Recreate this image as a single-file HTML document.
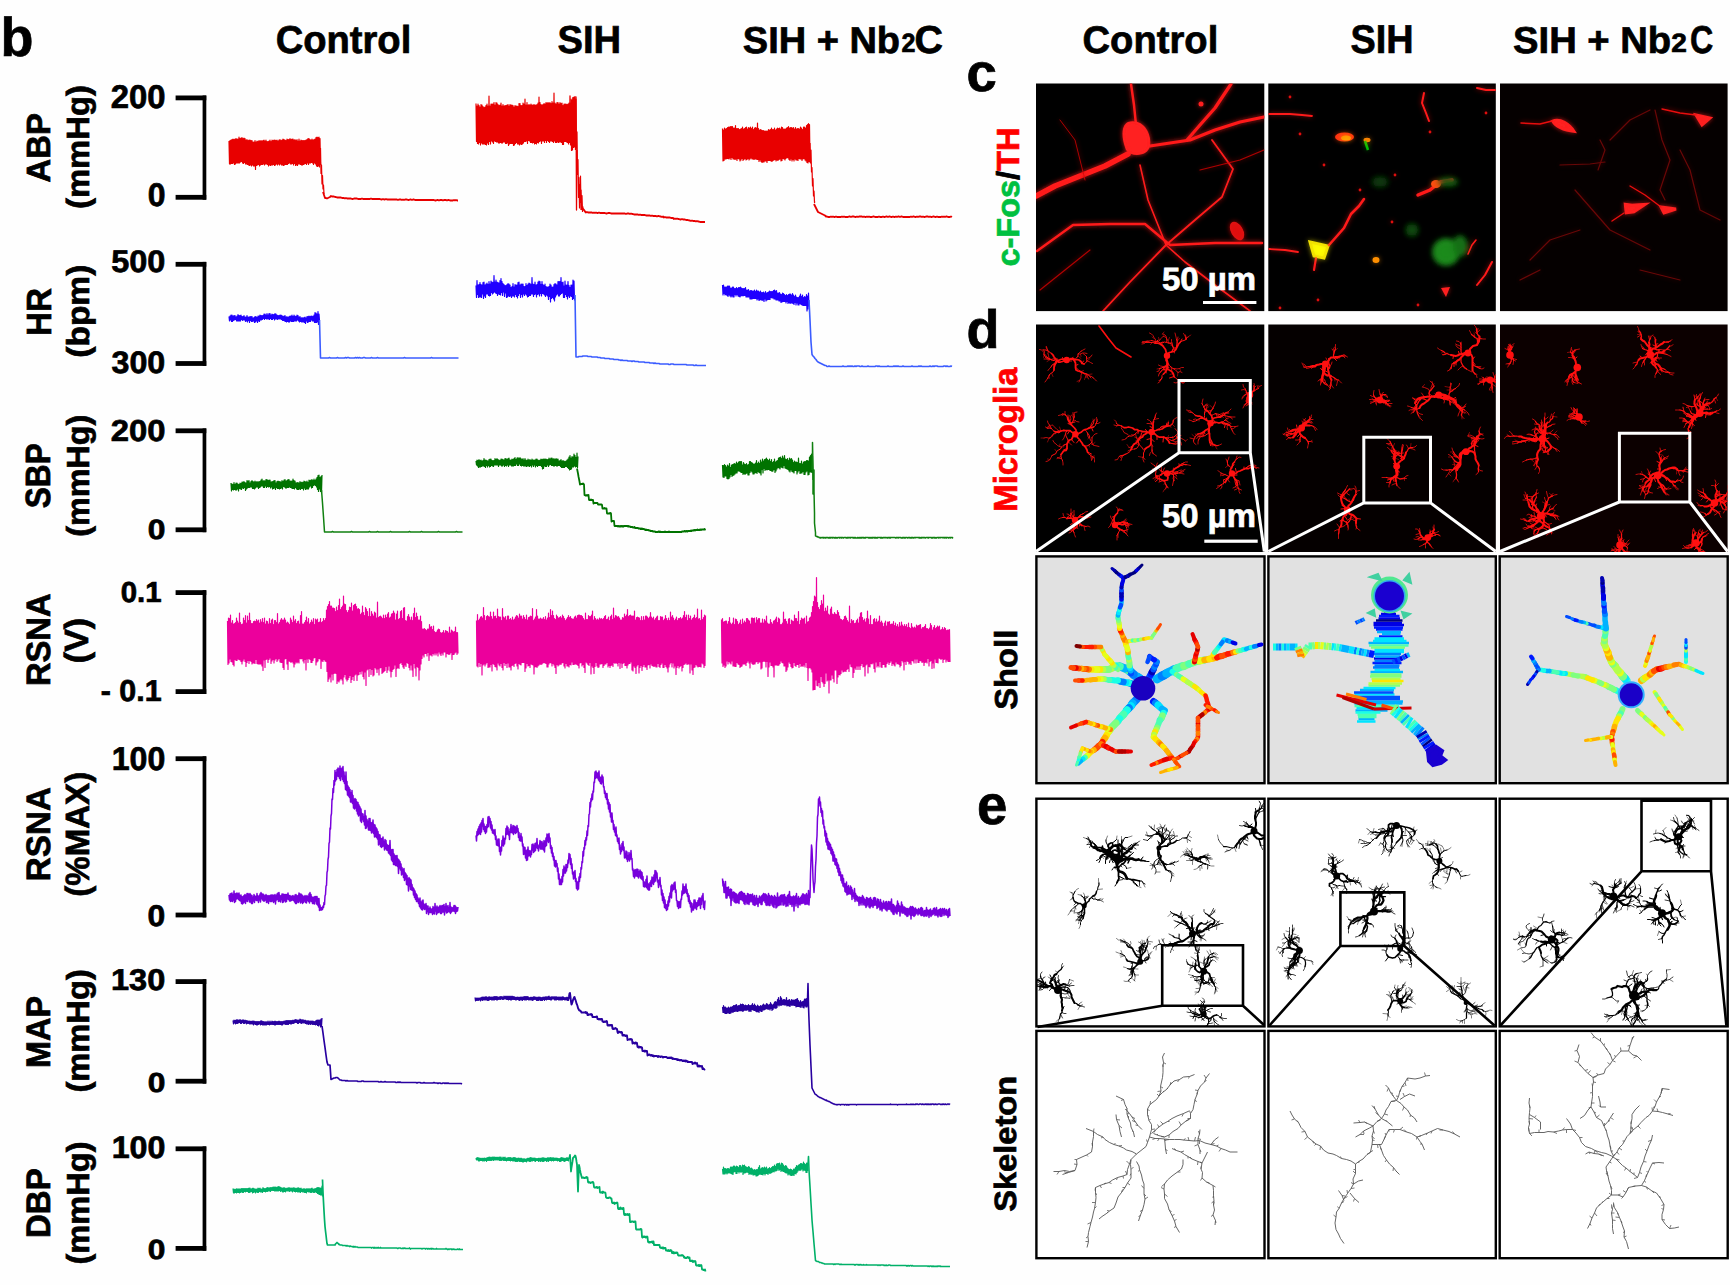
<!DOCTYPE html>
<html><head><meta charset="utf-8"><style>
html,body{margin:0;padding:0;background:#fff;width:1730px;height:1285px;overflow:hidden}
svg{display:block;font-family:"Liberation Sans",sans-serif;font-weight:bold;text-rendering:geometricPrecision}
</style></head><body>
<svg width="1730" height="1285" viewBox="0 0 1730 1285">
<rect width="1730" height="1285" fill="#fefefe"/>
<text transform="translate(0.45,56.19) scale(0.9923,1)" font-size="54.36" fill="#000" stroke="#000" stroke-width="0.7">b</text>
<text transform="translate(275.63,52.90) scale(0.9826,1)" font-size="38.85" fill="#000" stroke="#000" stroke-width="0.7">Control</text>
<text transform="translate(557.52,52.90) scale(0.9788,1)" font-size="38.99" fill="#000" stroke="#000" stroke-width="0.7">SIH</text>
<text transform="translate(742.82,52.87) scale(1.0153,1)" font-size="37.42" fill="#000" stroke="#000" stroke-width="0.7">SIH + Nb</text>
<text transform="translate(901.46,52.33) scale(0.9478,1)" font-size="26.45" fill="#000" stroke="#000" stroke-width="0.7">2</text>
<text transform="translate(914.40,52.82) scale(1.0128,1)" font-size="38.97" fill="#000" stroke="#000" stroke-width="0.7">C</text>
<rect x="175.6" y="95.5" width="30.7" height="4.8" fill="#000"/>
<rect x="175.6" y="194.9" width="30.7" height="4.8" fill="#000"/>
<rect x="202.6" y="95.5" width="3.7" height="104.2" fill="#000"/>
<rect x="175.6" y="261.9" width="30.7" height="4.8" fill="#000"/>
<rect x="175.6" y="361.1" width="30.7" height="4.8" fill="#000"/>
<rect x="202.6" y="261.9" width="3.7" height="104.0" fill="#000"/>
<rect x="175.6" y="428.4" width="30.7" height="4.8" fill="#000"/>
<rect x="175.6" y="527.4" width="30.7" height="4.8" fill="#000"/>
<rect x="202.6" y="428.4" width="3.7" height="103.8" fill="#000"/>
<rect x="175.6" y="590.2" width="30.7" height="4.8" fill="#000"/>
<rect x="175.6" y="689.2" width="30.7" height="4.8" fill="#000"/>
<rect x="202.6" y="590.2" width="3.7" height="103.8" fill="#000"/>
<rect x="175.6" y="756.3" width="30.7" height="4.8" fill="#000"/>
<rect x="175.6" y="912.6" width="30.7" height="4.8" fill="#000"/>
<rect x="202.6" y="756.3" width="3.7" height="161.1" fill="#000"/>
<rect x="175.6" y="979.2" width="30.7" height="4.8" fill="#000"/>
<rect x="175.6" y="1078.8" width="30.7" height="4.8" fill="#000"/>
<rect x="202.6" y="979.2" width="3.7" height="104.4" fill="#000"/>
<rect x="175.6" y="1146.4" width="30.7" height="4.8" fill="#000"/>
<rect x="175.6" y="1246.0" width="30.7" height="4.8" fill="#000"/>
<rect x="202.6" y="1146.4" width="3.7" height="104.4" fill="#000"/>
<text transform="translate(110.63,108.06) scale(0.9984,1)" font-size="32.91" fill="#000" stroke="#000" stroke-width="0.7">200</text>
<text transform="translate(147.64,206.12) scale(0.9799,1)" font-size="32.64" fill="#000" stroke="#000" stroke-width="0.7">0</text>
<text transform="translate(111.18,272.07) scale(1.0402,1)" font-size="31.18" fill="#000" stroke="#000" stroke-width="0.7">500</text>
<text transform="translate(111.54,372.99) scale(1.0351,1)" font-size="31.12" fill="#000" stroke="#000" stroke-width="0.7">300</text>
<text transform="translate(110.64,441.19) scale(1.0863,1)" font-size="30.22" fill="#000" stroke="#000" stroke-width="0.7">200</text>
<text transform="translate(147.67,539.24) scale(1.1377,1)" font-size="27.90" fill="#000" stroke="#000" stroke-width="0.7">0</text>
<text transform="translate(120.66,602.16) scale(1.0166,1)" font-size="28.91" fill="#000" stroke="#000" stroke-width="0.7">0.1</text>
<text transform="translate(100.71,701.18) scale(1.0095,1)" font-size="30.12" fill="#000" stroke="#000" stroke-width="0.7">- 0.1</text>
<text transform="translate(111.72,770.05) scale(0.9751,1)" font-size="32.92" fill="#000" stroke="#000" stroke-width="0.7">100</text>
<text transform="translate(147.44,926.07) scale(1.0618,1)" font-size="30.00" fill="#000" stroke="#000" stroke-width="0.7">0</text>
<text transform="translate(111.03,990.09) scale(1.0815,1)" font-size="30.09" fill="#000" stroke="#000" stroke-width="0.7">130</text>
<text transform="translate(147.71,1091.54) scale(1.1535,1)" font-size="27.53" fill="#000" stroke="#000" stroke-width="0.7">0</text>
<text transform="translate(111.67,1158.01) scale(1.0334,1)" font-size="31.17" fill="#000" stroke="#000" stroke-width="0.7">100</text>
<text transform="translate(147.70,1258.51) scale(1.1476,1)" font-size="27.63" fill="#000" stroke="#000" stroke-width="0.7">0</text>
<text transform="translate(49.92,182.45) rotate(-90) scale(0.9796,1)" font-size="33.56" fill="#000" stroke="#000" stroke-width="0.7">ABP</text>
<text transform="translate(89.17,208.95) rotate(-90) scale(1.0221,1)" font-size="32.07" fill="#000" stroke="#000" stroke-width="0.7">(mmHg)</text>
<text transform="translate(50.98,335.95) rotate(-90) scale(0.9519,1)" font-size="34.89" fill="#000" stroke="#000" stroke-width="0.7">HR</text>
<text transform="translate(88.85,357.76) rotate(-90) scale(1.0568,1)" font-size="31.72" fill="#000" stroke="#000" stroke-width="0.7">(bpm)</text>
<text transform="translate(50.16,508.23) rotate(-90) scale(0.9006,1)" font-size="35.09" fill="#000" stroke="#000" stroke-width="0.7">SBP</text>
<text transform="translate(88.60,536.84) rotate(-90) scale(1.0151,1)" font-size="31.83" fill="#000" stroke="#000" stroke-width="0.7">(mmHg)</text>
<text transform="translate(50.10,686.06) rotate(-90) scale(0.9654,1)" font-size="33.88" fill="#000" stroke="#000" stroke-width="0.7">RSNA</text>
<text transform="translate(88.11,663.17) rotate(-90) scale(1.0120,1)" font-size="33.65" fill="#000" stroke="#000" stroke-width="0.7">(V)</text>
<text transform="translate(50.09,881.13) rotate(-90) scale(0.9781,1)" font-size="33.91" fill="#000" stroke="#000" stroke-width="0.7">RSNA</text>
<text transform="translate(88.90,896.74) rotate(-90) scale(0.9827,1)" font-size="33.67" fill="#000" stroke="#000" stroke-width="0.7">(%MAX)</text>
<text transform="translate(50.03,1067.97) rotate(-90) scale(0.9496,1)" font-size="34.12" fill="#000" stroke="#000" stroke-width="0.7">MAP</text>
<text transform="translate(88.62,1092.62) rotate(-90) scale(1.0277,1)" font-size="31.79" fill="#000" stroke="#000" stroke-width="0.7">(mmHg)</text>
<text transform="translate(50.15,1238.03) rotate(-90) scale(0.9699,1)" font-size="34.07" fill="#000" stroke="#000" stroke-width="0.7">DBP</text>
<text transform="translate(88.60,1264.53) rotate(-90) scale(1.0231,1)" font-size="31.83" fill="#000" stroke="#000" stroke-width="0.7">(mmHg)</text>
<path transform="scale(.5)" fill="none" stroke="#e80000" stroke-width="2.4" stroke-linejoin="round" d="M458 282l1 46 1 -47 1 47 1 -48 1 47 1 -48 1 48 1 -49 1 48 1 -47 1 50 1 -51 1 50 1 -51 1 49 1 -48 1 48 1 -48 1 48 1 -52 1 52 1 -49 1 47 1 -48 1 47 1 -48 1 51 1 -49 1 50 1 -51 1 49 1 -48 1 51 1 -48 1 48 1 -49 1 50 1 -48 1 49 1 -50 1 51 1 -51 1 50 1 -49 1 51 1 -51 1 49 1 -46 1 48 1 -48 1 48 1 -51 1 58 1 -55 1 47 1 -49 1 48 1 -47 1 46 1 -48 1 51 1 -50 1 48 1 -49 1 48 1 -47 1 47 1 -48 1 47 1 -48 1 50 1 -48 1 46 1 -48 1 48 1 -45 1 46 1 -46 1 49 1 -50 1 48 1 -50 1 51 1 -48 1 47 1 -50 1 50 1 -49 1 48 1 -49 1 51 1 -51 1 50 1 -49 1 47 1 -48 1 50 1 -48 1 46 1 -48 1 50 1 -51 1 49 1 -47 1 49 1 -50 1 50 1 -52 1 53 1 -52 1 51 1 -50 1 49 1 -48 1 48 1 -51 1 51 1 -50 1 48 1 -48 1 47 1 -49 1 51 1 -49 1 49 1 -50 1 49 1 -49 1 52 1 -50 1 47 1 -48 1 52 1 -50 1 49 1 -51 1 52 1 -49 1 46 1 -50 1 50 1 -46 1 47 1 -49 1 50 1 -49 1 49 1 -49 1 48 1 -48 1 47 1 -47 1 46 1 -47 1 49 1 -50 1 47 1 -49 1 52 1 -52 1 49 1 -47 1 47 1 -46 1 45 1 -47 1 48 1 -46 1 49 1 -50 1 47 1 -48 1 50 1 -53 1 57 1 -58 1 59 1 -58 1 57 1 -58 1 60 1 -57 1 53"/>
<path transform="scale(.5)" fill="none" stroke="#e80000" stroke-width="2.4" stroke-linejoin="round" d="M641 296l1 51 1 -17 1 38 1 -17 1 27 1 -8 1 18"/>
<path transform="scale(.5)" fill="none" stroke="#e80000" stroke-width="3.6" stroke-linejoin="round" d="M646 384l2 6 2 6 2 0 2 1 2 -1 2 -1 2 -1 2 -2 2 1 2 0 2 0 2 1 2 0 2 1 2 0 2 0 2 0 2 0 2 1 2 0 2 0 2 1 2 -1 2 1 2 0 2 0 2 0 2 0 2 1 2 0 2 -1 2 0 2 0 2 0 2 1 2 0 2 0 2 0 2 -1 2 1 2 0 2 0 2 0 2 0 2 0 2 0 2 0 2 -1 2 1 2 0 2 0 2 0 2 0 2 0 2 0 2 0 2 0 2 1 2 0 2 -1 2 1 2 0 2 -1 2 1 2 0 2 0 2 0 2 0 2 0 2 0 2 0 2 0 2 0 2 0 2 1 2 -1 2 0 2 0 2 1 2 -1 2 1 2 -1 2 0 2 0 2 1 2 0 2 -1 2 0 2 1 2 -1 2 0 2 1 2 0 2 0 2 0 2 0 2 0 2 0 2 0 2 0 2 0 2 0 2 0 2 0 2 0 2 0 2 0 2 0 2 0 2 0 2 0 2 1 2 0 2 -1 2 0 2 1 2 -1 2 0 2 0 2 1 2 -1 2 0 2 0 2 1 2 -1 2 0 2 1 2 0 2 0 2 0 2 -1 2 1 2 -1 2 1 2 0"/>
<path transform="scale(.5)" fill="none" stroke="#e80000" stroke-width="2.4" stroke-linejoin="round" d="M952 207l1 76 1 -71 1 75 1 -79 1 80 1 -77 1 74 1 -71 1 76 1 -81 1 77 1 -76 1 78 1 -75 1 75 1 -73 1 73 1 -74 1 75 1 -78 1 79 1 -82 1 78 1 -74 1 77 1 -97 1 91 1 -71 1 76 1 -80 1 74 1 -74 1 76 1 -76 1 79 1 -82 1 77 1 -72 1 73 1 -78 1 79 1 -78 1 78 1 -75 1 77 1 -75 1 75 1 -76 1 75 1 -79 1 80 1 -74 1 74 1 -77 1 75 1 -72 1 72 1 -73 1 76 1 -76 1 76 1 -77 1 76 1 -77 1 82 1 -79 1 76 1 -79 1 78 1 -77 1 77 1 -77 1 77 1 -76 1 80 1 -77 1 76 1 -79 1 76 1 -75 1 73 1 -73 1 76 1 -75 1 75 1 -81 1 83 1 -83 1 81 1 -77 1 78 1 -78 1 77 1 -82 1 80 1 -78 1 75 1 -85 1 85 1 -73 1 72 1 -77 1 82 1 -77 1 71 1 -72 1 73 1 -72 1 75 1 -77 1 77 1 -75 1 76 1 -76 1 75 1 -76 1 79 1 -78 1 77 1 -77 1 78 1 -79 1 76 1 -79 1 80 1 -92 1 89 1 -78 1 77 1 -73 1 78 1 -77 1 72 1 -73 1 73 1 -75 1 78 1 -77 1 73 1 -76 1 80 1 -79 1 75 1 -76 1 78 1 -77 1 79 1 -80 1 77 1 -75 1 75 1 -79 1 80 1 -77 1 79 1 -99 1 96 1 -76 1 79 1 -77 1 77 1 -80 1 79 1 -79 1 80 1 -77 1 76 1 -79 1 79 1 -77 1 78 1 -79 1 83 1 -78 1 78 1 -81 1 75 1 -75 1 75 1 -75 1 76 1 -75 1 76 1 -77 1 80 1 -82 1 79 1 -79 1 84 1 -92 1 103 1 -101 1 100 1 -105 1 100 1 -101 1 100 1 -101 1 99 1 -94 1 99"/>
<path transform="scale(.5)" fill="none" stroke="#e80000" stroke-width="2.4" stroke-linejoin="round" d="M1154 263l1 86 1 -30 1 76 1 -40 1 61 1 -47 1 36 1 -25 1 39 1 -28 1 32 1 -10"/>
<polyline fill="none" stroke="#e80000" stroke-width="1.3" stroke-linejoin="round" points="569.5,140.0 570.0,96.0 570.5,140.0"/>
<polyline fill="none" stroke="#e80000" stroke-width="1.3" stroke-linejoin="round" points="572.5,140.0 573.0,98.0 573.5,140.0"/>
<polyline fill="none" stroke="#e80000" stroke-width="1.3" stroke-linejoin="round" points="575.5,150.0 576.0,97.0 576.5,210.0 577.0,150.0"/>
<polyline fill="none" stroke="#e80000" stroke-width="1.2" stroke-linejoin="round" points="580.0,200.0 580.5,176.0 581.0,210.0"/>
<path transform="scale(.5)" fill="none" stroke="#e80000" stroke-width="3.6" stroke-linejoin="round" d="M1164 416l2 2 2 2 2 3 2 2 2 -1 2 1 2 0 2 0 2 0 2 0 2 1 2 -1 2 1 2 -1 2 1 2 0 2 -1 2 1 2 0 2 0 2 0 2 0 2 0 2 1 2 0 2 -1 2 0 2 0 2 1 2 0 2 0 2 0 2 0 2 0 2 0 2 0 2 0 2 0 2 0 2 0 2 0 2 0 2 0 2 1 2 -1 2 0 2 0 2 1 2 -1 2 1 2 0 2 1 2 0 2 0 2 0 2 0 2 1 2 -1 2 1 2 0 2 0 2 0 2 0 2 1 2 0 2 0 2 0 2 0 2 1 2 -1 2 1 2 0 2 0 2 0 2 1 2 -1 2 0 2 1 2 0 2 1 2 -1 2 2 2 -1 2 1 2 0 2 0 2 0 2 0 2 1 2 0 2 0 2 2 2 -1 2 1 2 -1 2 1 2 0 2 1 2 0 2 -1 2 1 2 0 2 0 2 1 2 0 2 0 2 1 2 0 2 1 2 -1 2 1 2 0 2 0 2 1 2 -1 2 1 2 0 2 1 2 0 2 0 2 0 2 0 2 0"/>
<path transform="scale(.5)" fill="none" stroke="#e80000" stroke-width="2.4" stroke-linejoin="round" d="M1445 257l1 65 1 -62 1 61 1 -65 1 62 1 -60 1 60 1 -61 1 60 1 -62 1 62 1 -63 1 64 1 -64 1 62 1 -63 1 66 1 -66 1 62 1 -62 1 65 1 -62 1 62 1 -62 1 63 1 -68 1 67 1 -61 1 64 1 -64 1 60 1 -60 1 61 1 -59 1 63 1 -64 1 62 1 -63 1 60 1 -63 1 67 1 -63 1 61 1 -62 1 60 1 -62 1 65 1 -66 1 65 1 -61 1 59 1 -62 1 65 1 -64 1 62 1 -64 1 62 1 -59 1 61 1 -64 1 64 1 -59 1 60 1 -63 1 62 1 -63 1 63 1 -62 1 63 1 -73 1 73 1 -62 1 66 1 -63 1 60 1 -61 1 64 1 -63 1 65 1 -64 1 63 1 -63 1 63 1 -62 1 60 1 -60 1 60 1 -60 1 63 1 -63 1 59 1 -62 1 62 1 -61 1 61 1 -62 1 63 1 -66 1 67 1 -64 1 62 1 -62 1 61 1 -64 1 63 1 -59 1 62 1 -64 1 62 1 -64 1 65 1 -64 1 62 1 -63 1 62 1 -60 1 64 1 -68 1 67 1 -66 1 62 1 -59 1 60 1 -60 1 62 1 -62 1 59 1 -61 1 59 1 -60 1 61 1 -63 1 66 1 -63 1 65 1 -66 1 63 1 -63 1 67 1 -66 1 63 1 -64 1 67 1 -64 1 60 1 -63 1 65 1 -62 1 62 1 -63 1 64 1 -64 1 60 1 -59 1 60 1 -64 1 64 1 -62 1 65 1 -62 1 59 1 -64 1 63 1 -63 1 66 1 -64 1 66 1 -71 1 74 1 -76 1 77 1 -79 1 76 1 -74 1 76"/>
<path transform="scale(.5)" fill="none" stroke="#e80000" stroke-width="2.4" stroke-linejoin="round" d="M1620 286l1 40 1 -26 1 44 1 -9 1 37 1 -15 1 35 1 -10 1 23 1 -2"/>
<path transform="scale(.5)" fill="none" stroke="#e80000" stroke-width="3.6" stroke-linejoin="round" d="M1628 408l2 4 2 4 2 4 2 4 2 1 2 1 2 1 2 1 2 1 2 1 2 1 2 2 2 0 2 1 2 0 2 0 2 -1 2 1 2 -1 2 1 2 0 2 -1 2 1 2 0 2 0 2 0 2 0 2 -1 2 1 2 -1 2 1 2 0 2 0 2 0 2 -1 2 0 2 1 2 -1 2 0 2 0 2 1 2 0 2 -1 2 1 2 -1 2 0 2 0 2 0 2 1 2 -1 2 1 2 0 2 -1 2 1 2 -1 2 1 2 0 2 0 2 -1 2 0 2 1 2 0 2 0 2 0 2 -1 2 1 2 0 2 0 2 -1 2 1 2 0 2 -1 2 0 2 1 2 -1 2 0 2 1 2 0 2 -1 2 1 2 0 2 -1 2 1 2 -1 2 0 2 1 2 -1 2 0 2 1 2 0 2 0 2 0 2 0 2 0 2 0 2 0 2 -1 2 1 2 -1 2 0 2 1 2 0 2 -1 2 1 2 -1 2 0 2 0 2 1 2 -1 2 1 2 0 2 -1 2 0 2 0 2 1 2 -1 2 1 2 0 2 -1 2 0 2 1 2 0 2 -1 2 1 2 0 2 0 2 0 2 -1 2 1 2 -1 2 1 2 -1 2 0 2 1 2 0 2 0 2 -1 2 1"/>
<path transform="scale(.5)" fill="none" stroke="#2000ff" stroke-width="2.4" stroke-linejoin="round" d="M458 633l1 9 1 -10 1 8 1 -10 1 13 1 -13 1 13 1 -11 1 9 1 -10 1 9 1 -9 1 8 1 -5 1 8 1 -10 1 10 1 -13 1 13 1 -11 1 11 1 -11 1 11 1 -12 1 9 1 -6 1 8 1 -8 1 7 1 -9 1 9 1 -6 1 9 1 -9 1 8 1 -11 1 13 1 -10 1 7 1 -7 1 11 1 -12 1 8 1 -8 1 10 1 -10 1 10 1 -7 1 6 1 -7 1 10 1 -12 1 11 1 -11 1 9 1 -7 1 10 1 -13 1 10 1 -10 1 11 1 -13 1 10 1 -9 1 9 1 -9 1 8 1 -8 1 6 1 -9 1 11 1 -11 1 9 1 -7 1 8 1 -11 1 11 1 -8 1 8 1 -11 1 12 1 -12 1 10 1 -7 1 9 1 -11 1 11 1 -10 1 8 1 -8 1 11 1 -13 1 11 1 -10 1 10 1 -8 1 9 1 -8 1 7 1 -7 1 7 1 -8 1 8 1 -8 1 9 1 -8 1 10 1 -8 1 8 1 -9 1 10 1 -11 1 12 1 -9 1 10 1 -11 1 10 1 -8 1 9 1 -11 1 11 1 -12 1 10 1 -10 1 11 1 -13 1 13 1 -10 1 10 1 -13 1 12 1 -10 1 10 1 -9 1 9 1 -12 1 10 1 -9 1 11 1 -8 1 10 1 -11 1 10 1 -7 1 8 1 -9 1 9 1 -8 1 8 1 -9 1 10 1 -11 1 13 1 -11 1 6 1 -9 1 12 1 -12 1 11 1 -12 1 11 1 -10 1 10 1 -11 1 8 1 -8 1 10 1 -9 1 9 1 -12 1 15 1 -20 1 20 1 -19 1 19 1 -17 1 16 1 -21 1 26 1 -21 1 13"/>
<path transform="scale(.5)" fill="none" stroke="#3b5cff" stroke-width="3.2" stroke-linejoin="round" d="M639 640l2 76 2 0 2 0 2 0 2 0 2 0 2 0 2 0 2 0 2 -1 2 1 2 0 2 0 2 0 2 0 2 0 2 0 2 -1 2 1 2 0 2 0 2 0 2 0 2 0 2 0 2 -1 2 1 2 -1 2 0 2 1 2 0 2 0 2 0 2 0 2 0 2 -1 2 1 2 -1 2 1 2 -1 2 1 2 0 2 0 2 -1 2 0 2 1 2 0 2 0 2 0 2 0 2 0 2 -1 2 1 2 0 2 0 2 0 2 0 2 -1 2 1 2 0 2 0 2 0 2 0 2 0 2 0 2 0 2 0 2 0 2 0 2 0 2 0 2 0 2 0 2 0 2 0 2 0 2 0 2 0 2 0 2 0 2 0 2 0 2 0 2 0 2 -1 2 1 2 0 2 0 2 0 2 0 2 0 2 0 2 0 2 0 2 0 2 0 2 0 2 0 2 0 2 0 2 0 2 0 2 0 2 0 2 0 2 0 2 0 2 0 2 0 2 0 2 0 2 -1 2 1 2 0 2 0 2 0 2 0 2 0 2 0 2 0 2 0 2 0 2 0 2 0 2 0 2 0 2 0 2 0 2 0 2 0 2 0 2 0 2 0 2 0 2 0 2 0 2 0 2 0 2 0"/>
<path transform="scale(.5)" fill="none" stroke="#2000ff" stroke-width="2.4" stroke-linejoin="round" d="M952 571l1 24 1 -34 1 28 1 -19 1 25 1 -26 1 25 1 -29 1 29 1 -25 1 26 1 -25 1 18 1 -23 1 32 1 -33 1 28 1 -22 1 25 1 -27 1 20 1 -22 1 22 1 -19 1 22 1 -28 1 29 1 -24 1 23 1 -29 1 23 1 -21 1 24 1 -23 1 21 1 -35 1 33 1 -20 1 22 1 -26 1 27 1 -23 1 27 1 -26 1 23 1 -22 1 23 1 -28 1 29 1 -33 1 28 1 -22 1 28 1 -24 1 17 1 -15 1 24 1 -22 1 15 1 -15 1 24 1 -26 1 25 1 -27 1 25 1 -24 1 25 1 -23 1 22 1 -17 1 20 1 -22 1 19 1 -25 1 25 1 -18 1 20 1 -25 1 20 1 -19 1 23 1 -23 1 26 1 -31 1 26 1 -27 1 23 1 -17 1 25 1 -27 1 21 1 -21 1 26 1 -26 1 20 1 -15 1 18 1 -18 1 15 1 -21 1 23 1 -19 1 23 1 -26 1 25 1 -27 1 25 1 -24 1 24 1 -22 1 19 1 -33 1 33 1 -20 1 25 1 -24 1 20 1 -25 1 24 1 -18 1 24 1 -25 1 20 1 -25 1 24 1 -26 1 30 1 -29 1 24 1 -18 1 23 1 -29 1 24 1 -18 1 19 1 -17 1 19 1 -22 1 25 1 -20 1 17 1 -16 1 18 1 -18 1 25 1 -26 1 20 1 -25 1 36 1 -34 1 27 1 -23 1 21 1 -21 1 24 1 -29 1 33 1 -35 1 27 1 -26 1 22 1 -20 1 18 1 -25 1 29 1 -29 1 29 1 -29 1 26 1 -34 1 32 1 -22 1 21 1 -22 1 31 1 -23 1 23 1 -33 1 27 1 -19 1 23 1 -23 1 28 1 -35 1 29 1 -21 1 24 1 -20 1 17 1 -22 1 23 1 -23 1 29 1 -39 1 37 1 -35 1 39"/>
<path transform="scale(.5)" fill="none" stroke="#3b5cff" stroke-width="3.2" stroke-linejoin="round" d="M1150 590l2 124 2 0 2 0 2 -1 2 0 2 0 2 0 2 -1 2 0 2 0 2 0 2 0 2 1 2 0 2 0 2 0 2 1 2 0 2 0 2 0 2 0 2 0 2 1 2 0 2 0 2 1 2 0 2 0 2 0 2 1 2 0 2 0 2 0 2 0 2 1 2 0 2 0 2 0 2 1 2 0 2 0 2 0 2 0 2 1 2 0 2 1 2 -1 2 1 2 0 2 0 2 0 2 0 2 1 2 0 2 0 2 0 2 1 2 -1 2 0 2 1 2 0 2 0 2 0 2 1 2 0 2 0 2 0 2 0 2 0 2 1 2 0 2 0 2 0 2 0 2 1 2 0 2 0 2 0 2 1 2 -1 2 1 2 0 2 0 2 0 2 1 2 0 2 0 2 0 2 0 2 0 2 0 2 0 2 0 2 1 2 0 2 -1 2 0 2 0 2 1 2 0 2 0 2 0 2 0 2 0 2 0 2 0 2 0 2 0 2 0 2 0 2 0 2 1 2 0 2 0 2 0 2 0 2 0 2 0 2 1 2 0 2 -1 2 1 2 0 2 0 2 0 2 0 2 0 2 0 2 0 2 0 2 0"/>
<path transform="scale(.5)" fill="none" stroke="#2000ff" stroke-width="2.4" stroke-linejoin="round" d="M1445 570l1 20 1 -20 1 17 1 -13 1 16 1 -16 1 15 1 -15 1 17 1 -19 1 21 1 -21 1 18 1 -18 1 20 1 -16 1 18 1 -18 1 16 1 -18 1 20 1 -20 1 20 1 -17 1 12 1 -12 1 15 1 -17 1 14 1 -12 1 15 1 -17 1 18 1 -18 1 19 1 -20 1 18 1 -16 1 15 1 -14 1 15 1 -15 1 14 1 -14 1 14 1 -16 1 19 1 -14 1 14 1 -14 1 14 1 -15 1 15 1 -12 1 16 1 -17 1 17 1 -17 1 17 1 -16 1 15 1 -15 1 15 1 -17 1 17 1 -14 1 14 1 -17 1 20 1 -18 1 16 1 -16 1 19 1 -17 1 16 1 -18 1 17 1 -14 1 16 1 -16 1 15 1 -16 1 19 1 -17 1 12 1 -15 1 19 1 -16 1 14 1 -15 1 14 1 -15 1 15 1 -17 1 17 1 -16 1 12 1 -12 1 13 1 -13 1 13 1 -15 1 17 1 -18 1 18 1 -16 1 18 1 -19 1 19 1 -14 1 14 1 -14 1 16 1 -17 1 17 1 -14 1 17 1 -16 1 15 1 -18 1 17 1 -16 1 16 1 -14 1 14 1 -12 1 15 1 -17 1 14 1 -12 1 16 1 -18 1 16 1 -17 1 19 1 -19 1 18 1 -16 1 16 1 -19 1 20 1 -17 1 19 1 -16 1 12 1 -15 1 20 1 -16 1 12 1 -11 1 15 1 -15 1 15 1 -18 1 15 1 -19 1 21 1 -16 1 17 1 -20 1 21 1 -16 1 16 1 -18 1 18 1 -17 1 17 1 -22 1 33 1 -30 1 26 1 -32 1 27"/>
<path transform="scale(.5)" fill="none" stroke="#3b5cff" stroke-width="3.2" stroke-linejoin="round" d="M1618 600l2 40 2 44 2 25 2 3 2 2 2 3 2 2 2 3 2 2 2 1 2 1 2 1 2 1 2 1 2 1 2 1 2 0 2 2 2 0 2 -1 2 1 2 0 2 0 2 0 2 0 2 0 2 0 2 0 2 0 2 0 2 0 2 0 2 0 2 -1 2 1 2 0 2 0 2 0 2 -1 2 1 2 -1 2 1 2 -1 2 1 2 0 2 -1 2 1 2 -1 2 0 2 0 2 1 2 0 2 -1 2 1 2 0 2 0 2 0 2 0 2 -1 2 1 2 0 2 0 2 0 2 0 2 0 2 0 2 -1 2 0 2 1 2 -1 2 1 2 0 2 0 2 0 2 0 2 0 2 0 2 0 2 -1 2 1 2 0 2 0 2 0 2 0 2 -1 2 1 2 -1 2 1 2 -1 2 1 2 0 2 0 2 0 2 -1 2 1 2 0 2 0 2 0 2 0 2 0 2 0 2 0 2 -1 2 1 2 0 2 0 2 0 2 0 2 0 2 -1 2 1 2 -1 2 1 2 0 2 0 2 0 2 0 2 0 2 0 2 0 2 -1 2 1 2 0 2 -1 2 1 2 -1 2 0 2 0 2 1 2 0 2 0 2 0 2 0 2 0 2 -1 2 0 2 1 2 -1 2 1 2 0 2 0 2 -1 2 1"/>
<path transform="scale(.5)" fill="none" stroke="#007300" stroke-width="2.4" stroke-linejoin="round" d="M462 966l1 16 1 -14 1 11 1 -10 1 11 1 -15 1 14 1 -10 1 11 1 -14 1 14 1 -14 1 12 1 -10 1 14 1 -13 1 8 1 -11 1 12 1 -11 1 12 1 -15 1 12 1 -12 1 13 1 -14 1 12 1 -10 1 16 1 -15 1 12 1 -17 1 15 1 -14 1 13 1 -14 1 14 1 -9 1 8 1 -11 1 11 1 -13 1 16 1 -14 1 14 1 -13 1 14 1 -16 1 14 1 -12 1 10 1 -11 1 11 1 -10 1 13 1 -14 1 12 1 -12 1 11 1 -14 1 12 1 -14 1 14 1 -10 1 13 1 -14 1 14 1 -13 1 10 1 -13 1 16 1 -16 1 14 1 -12 1 13 1 -14 1 13 1 -13 1 16 1 -12 1 10 1 -11 1 15 1 -15 1 14 1 -16 1 15 1 -15 1 18 1 -13 1 9 1 -12 1 14 1 -15 1 15 1 -14 1 15 1 -15 1 14 1 -13 1 12 1 -15 1 17 1 -15 1 10 1 -13 1 14 1 -15 1 17 1 -14 1 14 1 -15 1 14 1 -16 1 16 1 -16 1 15 1 -12 1 13 1 -13 1 14 1 -14 1 15 1 -19 1 19 1 -16 1 17 1 -16 1 13 1 -9 1 12 1 -13 1 14 1 -14 1 14 1 -13 1 12 1 -15 1 16 1 -14 1 12 1 -13 1 13 1 -12 1 15 1 -18 1 14 1 -13 1 16 1 -15 1 14 1 -16 1 16 1 -13 1 13 1 -18 1 14 1 -13 1 11 1 -12 1 16 1 -17 1 16 1 -14 1 10 1 -13 1 12 1 -9 1 10 1 -13 1 16 1 -19 1 24 1 -28 1 32 1 -33 1 28 1 -23 1 28 1 -30 1 32 1 -35"/>
<path transform="scale(.5)" fill="none" stroke="#108010" stroke-width="3.0" stroke-linejoin="round" d="M643 980l2 26 2 28 2 30 2 0 2 0 2 0 2 0 2 0 2 0 2 0 2 -1 2 1 2 0 2 0 2 0 2 0 2 0 2 0 2 0 2 0 2 0 2 0 2 0 2 0 2 0 2 0 2 0 2 0 2 0 2 -1 2 1 2 0 2 0 2 0 2 0 2 0 2 0 2 0 2 0 2 0 2 0 2 0 2 0 2 0 2 0 2 0 2 0 2 -1 2 1 2 0 2 0 2 0 2 0 2 0 2 0 2 -1 2 1 2 0 2 0 2 0 2 0 2 0 2 0 2 0 2 0 2 0 2 0 2 0 2 -1 2 1 2 0 2 0 2 0 2 0 2 0 2 0 2 0 2 0 2 0 2 0 2 0 2 0 2 0 2 0 2 0 2 0 2 0 2 -1 2 1 2 0 2 0 2 0 2 0 2 0 2 0 2 0 2 0 2 0 2 0 2 -1 2 1 2 0 2 0 2 0 2 0 2 0 2 0 2 0 2 0 2 0 2 0 2 0 2 0 2 0 2 0 2 0 2 -1 2 1 2 0 2 0 2 0 2 0 2 0 2 0 2 0 2 0 2 0 2 0 2 0 2 0 2 0 2 0 2 0 2 0 2 -1 2 1 2 0 2 0 2 0 2 0 2 0"/>
<path transform="scale(.5)" fill="none" stroke="#007300" stroke-width="2.4" stroke-linejoin="round" d="M952 922l1 8 1 -10 1 12 1 -11 1 14 1 -16 1 15 1 -13 1 13 1 -14 1 13 1 -11 1 10 1 -11 1 11 1 -15 1 16 1 -13 1 15 1 -15 1 11 1 -10 1 13 1 -12 1 9 1 -12 1 15 1 -16 1 15 1 -15 1 13 1 -10 1 11 1 -11 1 12 1 -12 1 9 1 -13 1 13 1 -11 1 11 1 -13 1 13 1 -11 1 14 1 -13 1 10 1 -9 1 9 1 -12 1 14 1 -14 1 14 1 -13 1 11 1 -10 1 13 1 -16 1 14 1 -14 1 15 1 -13 1 11 1 -13 1 16 1 -17 1 14 1 -10 1 10 1 -10 1 12 1 -14 1 14 1 -13 1 13 1 -15 1 14 1 -16 1 16 1 -12 1 9 1 -12 1 15 1 -16 1 16 1 -14 1 11 1 -13 1 16 1 -14 1 15 1 -13 1 12 1 -14 1 15 1 -12 1 12 1 -15 1 15 1 -12 1 13 1 -12 1 11 1 -14 1 14 1 -12 1 13 1 -14 1 12 1 -10 1 13 1 -16 1 12 1 -10 1 13 1 -13 1 10 1 -10 1 14 1 -16 1 13 1 -13 1 15 1 -13 1 11 1 -10 1 10 1 -11 1 11 1 -13 1 15 1 -14 1 19 1 -20 1 19 1 -19 1 14 1 -14 1 15 1 -15 1 15 1 -14 1 11 1 -11 1 14 1 -17 1 14 1 -12 1 11 1 -13 1 15 1 -15 1 15 1 -13 1 14 1 -15 1 15 1 -13 1 12 1 -14 1 15 1 -14 1 14 1 -14 1 13 1 -9 1 9 1 -10 1 12 1 -14 1 16 1 -13 1 13 1 -14 1 14 1 -13 1 13 1 -12 1 10 1 -11 1 11 1 -13 1 15 1 -17 1 19 1 -23 1 26 1 -29 1 28 1 -23 1 22 1 -25 1 21 1 -20 1 20 1 -26 1 24 1 -21 1 23 1 -19 1 18 1 -27 1 29 1 -22"/>
<path transform="scale(.5)" fill="none" stroke="#007300" stroke-width="3.6" stroke-linejoin="round" d="M1154 937l1 5 1 5 1 6 1 5 1 5 1 6 1 -1 1 0 1 0 1 0 1 0 1 -1 1 1 1 1 1 21 1 0 1 1 1 0 1 0 1 -1 1 1 1 0 1 -1 1 10 1 0 1 0 1 0 1 -1 1 1 1 0 1 0 1 0 1 7 1 -1 1 0 1 0 1 0 1 0 1 0 1 0 1 0 1 3 1 0 1 0 1 0 1 0 1 0 1 0 1 0 1 1 1 7 1 0 1 0 1 0 1 -1 1 1 1 0 1 0 1 0 1 10 1 0 1 0 1 0 1 0 1 0 1 -1 1 0 1 1 1 16 1 -1 1 0 1 0 1 0 1 0 1 10 1 0 1 0 1 0 1 0 1 0 1 0 1 1 1 -1 1 0 1 1 1 0 1 -1 1 1 1 -1 1 0 1 1 1 -1 1 1 1 -1 1 0 1 0 1 0 1 0 1 0 1 0 1 0 1 1 1 -1 1 1 1 0 1 0 1 1 1 0 1 0 1 0 1 0 1 1 1 0 1 0 1 -1 1 2 1 0 1 0 1 0 1 0 1 0 1 0 1 1 1 0 1 0 1 0 1 1 1 -1 1 1 1 -1 1 1 1 0 1 0 1 0 1 1 1 0 1 1 1 -1 1 1 1 0 1 0 1 0 1 0 1 1 1 0 1 0 1 1 1 0 1 0 1 0 1 0 1 1 1 0 1 0 1 0 1 0 1 1 1 0 1 0 1 0 1 0 1 0 1 -1 1 0 1 1 1 -1 1 1 1 0 1 0 1 0 1 0 1 0 1 0 1 0 1 0 1 -1 1 1 1 0 1 0 1 0 1 0 1 0 1 0 1 -1 1 1 1 0 1 0 1 0 1 0 1 0 1 0 1 0 1 0 1 0 1 0 1 0 1 0 1 0 1 0 1 0 1 0 1 0 1 0 1 0 1 0 1 0 1 0 1 0 1 0 1 -1 1 0 1 0 1 0 1 0 1 -1 1 0 1 1 1 0 1 -1 1 0 1 1 1 -1 1 0 1 0 1 0 1 0 1 0 1 -1 1 1 1 -1 1 0 1 0 1 0 1 -1 1 0 1 1 1 -1 1 0 1 0 1 0 1 -1 1 1 1 0 1 0 1 0 1 -1 1 0 1 1 1 -1 1 0 1 0 1 0 1 0 1 0 1 -1 1 1 1 -1"/>
<path transform="scale(.5)" fill="none" stroke="#007300" stroke-width="2.4" stroke-linejoin="round" d="M1445 930l1 24 1 -23 1 24 1 -26 1 23 1 -21 1 21 1 -18 1 23 1 -27 1 28 1 -26 1 25 1 -30 1 27 1 -19 1 14 1 -19 1 23 1 -24 1 22 1 -23 1 22 1 -23 1 21 1 -20 1 18 1 -22 1 22 1 -19 1 15 1 -18 1 18 1 -19 1 20 1 -20 1 22 1 -22 1 22 1 -15 1 19 1 -24 1 22 1 -19 1 21 1 -20 1 18 1 -20 1 19 1 -16 1 20 1 -21 1 21 1 -27 1 22 1 -22 1 19 1 -17 1 19 1 -18 1 22 1 -20 1 20 1 -20 1 18 1 -20 1 19 1 -24 1 26 1 -20 1 16 1 -19 1 21 1 -18 1 19 1 -26 1 30 1 -26 1 15 1 -21 1 28 1 -24 1 15 1 -18 1 22 1 -23 1 21 1 -23 1 24 1 -21 1 20 1 -18 1 18 1 -21 1 23 1 -18 1 18 1 -22 1 24 1 -18 1 17 1 -19 1 16 1 -21 1 27 1 -21 1 18 1 -20 1 16 1 -17 1 14 1 -19 1 20 1 -21 1 23 1 -24 1 20 1 -17 1 18 1 -23 1 24 1 -20 1 15 1 -20 1 25 1 -18 1 19 1 -18 1 19 1 -21 1 22 1 -18 1 21 1 -26 1 28 1 -26 1 22 1 -23 1 26 1 -23 1 24 1 -19 1 21 1 -24 1 19 1 -17 1 17 1 -17 1 24 1 -23 1 19 1 -28 1 25 1 -14 1 20 1 -20 1 19 1 -24 1 24 1 -18 1 15 1 -19 1 25 1 -26 1 26 1 -26 1 21 1 -23 1 21 1 -21 1 29 1 -28 1 27 1 -35 1 30 1 -33 1 33 1 -36 1 37 1 -33 1 48"/>
<path transform="scale(.5)" fill="none" stroke="#108010" stroke-width="3.0" stroke-linejoin="round" d="M1624 940l1 -28 0 -27 1 51 0 52 1 -24 1 -24 0 42 1 44 0 20 1 10 1 9 0 7 1 0 0 0 1 1 1 0 0 0 1 0 0 1 1 0 1 0 0 0 1 1 0 0 1 0 1 1 0 -1 1 1 0 -1 1 1 1 -1 0 0 1 0 0 0 1 0 1 1 0 -1 1 0 0 1 1 -1 1 0 0 0 1 1 0 0 1 -1 1 0 0 1 1 -1 0 0 1 0 1 0 0 0 1 0 0 1 1 0 1 -1 0 1 1 0 0 -1 1 0 1 1 0 -1 1 0 0 0 1 0 1 0 0 1 1 0 0 -1 1 0 1 0 0 0 1 0 0 1 1 0 1 -1 0 0 1 1 0 -1 1 0 1 1 0 0 1 -1 0 0 1 1 1 -1 0 0 1 0 0 0 1 0 1 1 0 -1 1 0 0 0 1 0 1 0 0 1 1 -1 0 1 1 -1 1 0 0 0 1 0 0 1 1 0 1 -1 0 0 1 0 0 0 1 0 1 0 0 0 1 0 0 1 1 0 1 -1 0 0 1 0 0 1 1 -1 1 0 0 0 1 1 0 -1 1 0 1 0 0 0 1 1 0 -1 1 0 1 0 0 0 1 0 0 0 1 0 1 1 0 -1 1 0 0 0 1 1 1 -1 0 0 1 1 0 -1 1 0 1 1 0 0 1 0 0 0 1 0 1 -1 0 0 1 1 0 -1 1 1 1 -1 0 0 1 0 0 1 1 0 1 -1 0 0 1 1 0 -1 1 0 1 0 0 1 1 -1 0 0 1 0 1 0 0 1 1 -1 0 0 1 1 1 -1 0 0 1 1 0 -1 1 0 1 0 0 0 1 0 0 0 1 0 1 0 0 0 1 0 0 1 1 0 1 -1 0 1 1 0 0 -1 1 0 1 1 0 0 1 -1 0 1 1 -1 1 0 0 1 1 0 0 -1 1 0 1 0 0 0 1 1 0 -1 1 0 1 0 0 1 1 -1 0 0 1 1 1 -1 0 0 1 0 0 1 1 -1 1 0 0 0 1 0 0 0 1 0 1 0 0 0 1 1 0 -1 1 0 1 0 0 1 1 -1 0 1 1 0 1 -1 0 1 1 -1 0 0 1 0 1 0 0 0 1 0 0 1 1 -1 1 0 0 0 1 0 0 0 1 1 1 -1 0 0 1 0 0 1 1 -1 1 0 0 0 1 0 0 1 1 -1 1 1 0 -1 1 0 0 0 1 0 1 0 0 0 1 0 0 0 1 0 1 0 0 0 1 0 0 0 1 0 1 0 0 0 1 1 0 0 1 -1 1 0 0 0 1 1 0 -1 1 0 1 0 0 0 1 0 0 1 1 -1 1 0 0 0 1 0 0 0 1 0 1 0 0 1 1 0 0 0 1 0 1 -1 0 1 1 -1 0 1 1 -1 1 0 0 0 1 1 0 -1 1 1 1 0 0 -1 1 0 0 0 1 0 1 0 0 0 1 1 0 0 1 -1 1 0 0 0 1 0 0 1 1 -1 1 0 0 0 1 1 0 0 1 -1 1 0 0 1 1 -1 0 0 1 0 1 1 0 -1 1 1 0 0 1 -1 1 0 0 0 1 0 0 1 1 -1 1 0 0 0 1 0 0 0 1 0 1 0 0 0 1 0 0 0 1 0 1 1 0 -1 1 0 0 1 1 -1 1 1 0 0 1 -1 0 1 1 -1 1 1 0 -1 1 0 0 0 1 0 1 0 0 0 1 1 0 -1 1 0 1 0 0 0 1 1 0 0 1 -1 1 0 0 0 1 0 0 0 1 0 1 1 0 -1 1 1 0 -1 1 0 1 0 0 0 1 0 0 0 1 0 1 0 0 0 1 1 0 -1 1 1 1 -1 0 0 1 1 0 -1 1 0 1 0 0 0 1 0 0 1 1 -1 1 1 0 0 1 -1 0 0 1 1 1 -1 0 0 1 0 0 0 1 0 1 0 0 1 1 -1 0 0 1 0 1 0 0 1 1 -1 0 0 1 0 1 0 0 0 1 0 0 0 1 0 1 0 0 1 1 -1 0 0 1 0 1 0 0 1 1 -1 0 0 1 0 1 1 0 -1 1 0 0 1 1 -1 1 0 0 0 1 0 0 0 1 1 1 0 0 -1 1 0 0 0 1 0 1 0 0 1 1 -1 0 0 1 0 1 0 0 0 1 1 0 -1 1 1"/>
<path transform="scale(.5)" fill="none" stroke="#ec009c" stroke-width="2.4" stroke-linejoin="round" d="M455 1242l1 87 1 -93 1 90 1 -89 1 81 1 -88 1 93 1 -77 1 78 1 -83 1 88 1 -81 1 84 1 -85 1 72 1 -74 1 76 1 -85 1 85 1 -79 1 76 1 -72 1 73 1 -93 1 94 1 -75 1 78 1 -74 1 79 1 -80 1 74 1 -86 1 82 1 -77 1 82 1 -92 1 102 1 -87 1 79 1 -93 1 89 1 -80 1 86 1 -101 1 95 1 -80 1 82 1 -76 1 81 1 -81 1 79 1 -83 1 83 1 -84 1 85 1 -84 1 76 1 -80 1 88 1 -85 1 86 1 -88 1 88 1 -82 1 82 1 -89 1 89 1 -84 1 88 1 -95 1 104 1 -96 1 75 1 -84 1 99 1 -87 1 71 1 -77 1 76 1 -75 1 82 1 -77 1 71 1 -82 1 79 1 -69 1 80 1 -87 1 82 1 -84 1 81 1 -70 1 77 1 -85 1 79 1 -79 1 76 1 -72 1 78 1 -96 1 93 1 -72 1 69 1 -72 1 79 1 -84 1 85 1 -88 1 88 1 -85 1 95 1 -95 1 99 1 -103 1 82 1 -78 1 77 1 -71 1 82 1 -84 1 95 1 -93 1 76 1 -73 1 74 1 -87 1 89 1 -85 1 83 1 -78 1 81 1 -94 1 102 1 -92 1 86 1 -89 1 85 1 -77 1 79 1 -83 1 81 1 -82 1 84 1 -78 1 69 1 -86 1 87 1 -95 1 94 1 -69 1 74 1 -74 1 78 1 -81 1 74 1 -78 1 99 1 -106 1 84 1 -74 1 81 1 -88 1 80 1 -69 1 71 1 -74 1 80 1 -85 1 85 1 -81 1 77 1 -84 1 79 1 -67 1 66 1 -77 1 92 1 -90 1 84 1 -86 1 84 1 -77 1 72 1 -73 1 74 1 -81 1 100 1 -92 1 77 1 -79 1 80 1 -86 1 82 1 -78 1 81 1 -85 1 86 1 -103 1 123 1 -130 1 150 1 -154 1 149 1 -155 1 151 1 -142 1 152 1 -152 1 136 1 -132 1 144 1 -144 1 131 1 -130 1 129 1 -123 1 124 1 -133 1 153 1 -146 1 141 1 -151 1 153 1 -166 1 162 1 -141 1 138 1 -142 1 145 1 -148 1 156 1 -176 1 162 1 -146 1 141 1 -140 1 149 1 -137 1 141 1 -137 1 134 1 -138 1 134 1 -141 1 137 1 -136 1 150 1 -159 1 153 1 -137 1 131 1 -142 1 150 1 -152 1 141 1 -142 1 140 1 -135 1 148 1 -143 1 132 1 -133 1 132 1 -130 1 124 1 -114 1 119 1 -122 1 116 1 -130 1 141 1 -128 1 133 1 -127 1 113 1 -129 1 156 1 -153 1 122 1 -117 1 115 1 -105 1 120 1 -136 1 120 1 -104 1 116 1 -126 1 116 1 -111 1 124 1 -120 1 118 1 -126 1 111 1 -109 1 112 1 -102 1 109 1 -141 1 134 1 -103 1 115 1 -117 1 103 1 -104 1 103 1 -101 1 113 1 -110 1 108 1 -115 1 113 1 -106 1 104 1 -111 1 103 1 -98 1 110 1 -117 1 112 1 -115 1 107 1 -96 1 106 1 -108 1 120 1 -126 1 115 1 -116 1 112 1 -117 1 115 1 -111 1 104 1 -90 1 113 1 -125 1 109 1 -115 1 113 1 -96 1 98 1 -100 1 90 1 -104 1 102 1 -104 1 108 1 -92 1 97 1 -118 1 121 1 -122 1 115 1 -89 1 92 1 -91 1 83 1 -92 1 94 1 -98 1 106 1 -101 1 106 1 -100 1 90 1 -96 1 106 1 -99 1 112 1 -126 1 100 1 -111 1 120 1 -101 1 117 1 -126 1 107 1 -100 1 102 1 -95 1 120 1 -120 1 100 1 -108 1 96 1 -85 1 74 1 -59 1 52 1 -52 1 56 1 -57 1 50 1 -48 1 48 1 -46 1 51 1 -54 1 47 1 -47 1 63 1 -72 1 61 1 -56 1 56 1 -57 1 59 1 -53 1 48 1 -55 1 58 1 -47 1 43 1 -41 1 45 1 -46 1 42 1 -46 1 52 1 -54 1 46 1 -45 1 49 1 -43 1 46 1 -45 1 40 1 -41 1 45 1 -49 1 43 1 -38 1 38 1 -43 1 53 1 -52 1 45 1 -44 1 45 1 -42 1 43 1 -55 1 54 1 -42 1 39 1 -45 1 59 1 -57 1 47 1 -45 1 45 1 -46 1 43 1 -52 1 50 1 -39 1 44 1 -44 1 42"/>
<path transform="scale(.5)" fill="none" stroke="#ec009c" stroke-width="2.4" stroke-linejoin="round" d="M953 1241l1 91 1 -103 1 105 1 -93 1 84 1 -87 1 95 1 -99 1 93 1 -94 1 117 1 -114 1 94 1 -115 1 113 1 -97 1 101 1 -91 1 87 1 -95 1 92 1 -94 1 104 1 -102 1 101 1 -100 1 100 1 -110 1 105 1 -96 1 109 1 -104 1 89 1 -103 1 105 1 -96 1 100 1 -101 1 102 1 -97 1 103 1 -122 1 108 1 -93 1 97 1 -96 1 98 1 -98 1 93 1 -86 1 94 1 -118 1 123 1 -106 1 91 1 -89 1 95 1 -98 1 94 1 -87 1 95 1 -103 1 94 1 -94 1 102 1 -95 1 95 1 -97 1 103 1 -100 1 91 1 -97 1 96 1 -90 1 93 1 -95 1 89 1 -93 1 92 1 -95 1 101 1 -100 1 106 1 -102 1 91 1 -99 1 101 1 -97 1 98 1 -98 1 93 1 -87 1 87 1 -94 1 94 1 -90 1 108 1 -104 1 97 1 -106 1 97 1 -87 1 92 1 -97 1 96 1 -97 1 101 1 -103 1 96 1 -95 1 96 1 -112 1 113 1 -89 1 107 1 -110 1 96 1 -100 1 99 1 -114 1 116 1 -103 1 100 1 -94 1 92 1 -92 1 90 1 -92 1 93 1 -91 1 90 1 -90 1 88 1 -91 1 90 1 -86 1 87 1 -93 1 94 1 -87 1 94 1 -98 1 98 1 -108 1 102 1 -93 1 90 1 -106 1 107 1 -95 1 101 1 -110 1 105 1 -96 1 99 1 -93 1 98 1 -96 1 108 1 -117 1 99 1 -96 1 99 1 -96 1 94 1 -95 1 93 1 -95 1 96 1 -93 1 90 1 -96 1 95 1 -92 1 99 1 -95 1 99 1 -95 1 86 1 -89 1 94 1 -97 1 97 1 -101 1 103 1 -99 1 94 1 -96 1 97 1 -93 1 87 1 -86 1 91 1 -91 1 91 1 -95 1 94 1 -96 1 96 1 -92 1 93 1 -98 1 100 1 -101 1 106 1 -106 1 96 1 -95 1 94 1 -94 1 101 1 -99 1 96 1 -92 1 98 1 -95 1 105 1 -119 1 98 1 -85 1 87 1 -87 1 90 1 -98 1 100 1 -98 1 92 1 -92 1 115 1 -118 1 102 1 -110 1 113 1 -95 1 107 1 -114 1 100 1 -96 1 88 1 -85 1 92 1 -94 1 97 1 -95 1 94 1 -98 1 92 1 -90 1 90 1 -91 1 90 1 -88 1 96 1 -98 1 94 1 -98 1 95 1 -97 1 97 1 -89 1 86 1 -87 1 96 1 -100 1 97 1 -90 1 94 1 -102 1 98 1 -101 1 100 1 -91 1 94 1 -117 1 109 1 -89 1 91 1 -96 1 94 1 -93 1 95 1 -93 1 98 1 -99 1 92 1 -89 1 101 1 -97 1 86 1 -86 1 95 1 -100 1 92 1 -91 1 89 1 -97 1 103 1 -98 1 98 1 -101 1 106 1 -117 1 111 1 -97 1 94 1 -96 1 96 1 -97 1 94 1 -92 1 108 1 -108 1 110 1 -110 1 100 1 -110 1 113 1 -95 1 107 1 -112 1 97 1 -98 1 95 1 -94 1 111 1 -110 1 99 1 -94 1 90 1 -98 1 108 1 -100 1 92 1 -100 1 96 1 -89 1 94 1 -102 1 102 1 -102 1 107 1 -105 1 96 1 -93 1 92 1 -95 1 102 1 -111 1 103 1 -94 1 97 1 -94 1 95 1 -98 1 99 1 -93 1 92 1 -95 1 97 1 -100 1 100 1 -102 1 95 1 -86 1 92 1 -92 1 94 1 -102 1 96 1 -95 1 92 1 -92 1 101 1 -94 1 94 1 -97 1 91 1 -98 1 102 1 -96 1 99 1 -95 1 103 1 -108 1 98 1 -93 1 87 1 -104 1 101 1 -91 1 100 1 -103 1 95 1 -90 1 100 1 -95 1 91 1 -94 1 111 1 -115 1 101 1 -94 1 90 1 -94 1 99 1 -99 1 96 1 -98 1 96 1 -93 1 104 1 -106 1 99 1 -104 1 98 1 -106 1 105 1 -93 1 91 1 -96 1 99 1 -88 1 87 1 -98 1 98 1 -91 1 109 1 -114 1 96 1 -88 1 100 1 -103 1 112 1 -114 1 100 1 -105 1 104 1 -97 1 92 1 -94 1 97 1 -114 1 116 1 -96 1 95 1 -96 1 96 1 -92 1 93 1 -114 1 106 1 -87 1 89 1 -93 1 100 1 -105 1 101 1 -100"/>
<path transform="scale(.5)" fill="none" stroke="#ec009c" stroke-width="2.4" stroke-linejoin="round" d="M1443 1239l1 87 1 -89 1 96 1 -89 1 86 1 -87 1 92 1 -93 1 90 1 -90 1 80 1 -74 1 80 1 -85 1 80 1 -88 1 91 1 -80 1 82 1 -79 1 73 1 -76 1 86 1 -96 1 96 1 -83 1 84 1 -95 1 95 1 -94 1 86 1 -82 1 85 1 -79 1 80 1 -83 1 89 1 -95 1 93 1 -84 1 83 1 -94 1 90 1 -82 1 82 1 -86 1 86 1 -83 1 86 1 -94 1 88 1 -88 1 85 1 -82 1 86 1 -84 1 94 1 -88 1 76 1 -88 1 91 1 -91 1 93 1 -92 1 91 1 -92 1 92 1 -82 1 78 1 -89 1 88 1 -83 1 87 1 -90 1 87 1 -87 1 87 1 -78 1 92 1 -92 1 90 1 -98 1 85 1 -77 1 76 1 -83 1 84 1 -81 1 92 1 -102 1 91 1 -77 1 107 1 -105 1 86 1 -86 1 76 1 -85 1 92 1 -86 1 86 1 -83 1 86 1 -92 1 112 1 -113 1 89 1 -92 1 92 1 -96 1 96 1 -85 1 86 1 -95 1 94 1 -92 1 89 1 -78 1 73 1 -73 1 76 1 -79 1 80 1 -102 1 108 1 -93 1 93 1 -94 1 105 1 -100 1 97 1 -92 1 86 1 -96 1 86 1 -87 1 90 1 -78 1 84 1 -93 1 96 1 -94 1 93 1 -92 1 82 1 -95 1 101 1 -94 1 96 1 -96 1 92 1 -86 1 86 1 -106 1 112 1 -86 1 78 1 -86 1 92 1 -97 1 95 1 -93 1 95 1 -95 1 92 1 -94 1 98 1 -86 1 77 1 -93 1 103 1 -91 1 117 1 -118 1 93 1 -100 1 99 1 -101 1 104 1 -113 1 119 1 -131 1 167 1 -177 1 176 1 -187 1 187 1 -185 1 166 1 -205 1 216 1 -166 1 167 1 -157 1 150 1 -146 1 156 1 -164 1 142 1 -152 1 162 1 -155 1 158 1 -176 1 183 1 -150 1 144 1 -151 1 130 1 -124 1 140 1 -150 1 148 1 -132 1 158 1 -156 1 130 1 -142 1 142 1 -146 1 136 1 -122 1 129 1 -128 1 135 1 -139 1 115 1 -112 1 112 1 -111 1 138 1 -146 1 133 1 -129 1 124 1 -117 1 118 1 -112 1 109 1 -108 1 101 1 -99 1 103 1 -105 1 104 1 -110 1 109 1 -110 1 111 1 -107 1 103 1 -98 1 96 1 -93 1 99 1 -131 1 116 1 -81 1 86 1 -94 1 95 1 -92 1 113 1 -114 1 104 1 -98 1 89 1 -90 1 93 1 -98 1 91 1 -94 1 101 1 -93 1 86 1 -98 1 105 1 -113 1 105 1 -106 1 102 1 -92 1 99 1 -93 1 92 1 -95 1 114 1 -108 1 86 1 -93 1 91 1 -106 1 124 1 -108 1 95 1 -84 1 85 1 -103 1 96 1 -78 1 79 1 -79 1 77 1 -87 1 98 1 -100 1 107 1 -100 1 80 1 -86 1 96 1 -90 1 87 1 -89 1 92 1 -102 1 91 1 -78 1 89 1 -92 1 93 1 -89 1 83 1 -76 1 76 1 -83 1 88 1 -92 1 92 1 -82 1 75 1 -83 1 80 1 -80 1 85 1 -86 1 82 1 -76 1 73 1 -74 1 83 1 -83 1 79 1 -84 1 87 1 -79 1 81 1 -86 1 78 1 -71 1 75 1 -79 1 78 1 -73 1 75 1 -84 1 89 1 -82 1 79 1 -87 1 77 1 -71 1 74 1 -71 1 87 1 -91 1 74 1 -70 1 76 1 -80 1 73 1 -67 1 68 1 -77 1 82 1 -73 1 71 1 -69 1 72 1 -82 1 74 1 -67 1 68 1 -66 1 70 1 -72 1 64 1 -62 1 70 1 -76 1 68 1 -66 1 73 1 -74 1 74 1 -75 1 71 1 -72 1 73 1 -64 1 67 1 -70 1 69 1 -69 1 76 1 -78 1 72 1 -76 1 75 1 -67 1 69 1 -69 1 60 1 -58 1 73 1 -76 1 67 1 -76 1 74 1 -70 1 86 1 -77 1 66 1 -71 1 81 1 -85 1 67 1 -61 1 68 1 -70 1 70 1 -73 1 74 1 -72 1 62 1 -64 1 65 1 -57 1 59 1 -60 1 58 1 -62 1 70 1 -66 1 60 1 -64 1 63 1 -61 1 67 1 -63 1 59 1 -60 1 63 1 -63 1 63 1 -64 1 65"/>
<path transform="scale(.5)" fill="none" stroke="#7800dc" stroke-width="3.0" stroke-linejoin="round" d="M458 1790l1 10 1 -12 1 15 1 -16 1 15 1 -16 1 17 1 -13 1 10 1 -18 1 23 1 -17 1 15 1 -16 1 11 1 -12 1 11 1 -9 1 11 1 -13 1 15 1 -10 1 11 1 -12 1 17 1 -13 1 14 1 -15 1 13 1 -15 1 13 1 -15 1 18 1 -16 1 11 1 -15 1 16 1 -16 1 12 1 -10 1 15 1 -17 1 17 1 -14 1 17 1 -16 1 16 1 -12 1 7 1 -13 1 16 1 -13 1 8 1 -7 1 8 1 -14 1 14 1 -9 1 13 1 -13 1 8 1 -12 1 16 1 -19 1 12 1 -9 1 12 1 -12 1 14 1 -12 1 12 1 -10 1 8 1 -11 1 16 1 -13 1 12 1 -13 1 16 1 -15 1 10 1 -11 1 12 1 -13 1 13 1 -13 1 12 1 -12 1 15 1 -14 1 12 1 -14 1 19 1 -16 1 8 1 -12 1 11 1 -13 1 17 1 -18 1 17 1 -11 1 13 1 -12 1 7 1 -11 1 17 1 -17 1 16 1 -15 1 12 1 -12 1 15 1 -15 1 14 1 -14 1 9 1 -12 1 13 1 -8 1 11 1 -11 1 11 1 -9 1 8 1 -9 1 8 1 -9 1 10 1 -7 1 10 1 -14 1 17 1 -18 1 18 1 -15 1 12 1 -13 1 14 1 -19 1 16 1 -14 1 18 1 -18 1 16 1 -14 1 17 1 -15 1 13 1 -11 1 8 1 -11 1 14 1 -12 1 13 1 -15 1 10 1 -7 1 9 1 -15 1 18 1 -21 1 17 1 -13 1 14 1 -9 1 13 1 -12 1 12 1 -13 1 14 1 -15 1 9 1 -9 1 15 1 -15 1 17 1 -13 1 17 1 -17 1 24 1 -11 1 10 1 -5 1 5 1 -5 1 4 1 -7 1 3 1 -10 1 4 1 -17 1 -3 1 -17 1 -1 1 -26 1 -4 1 -22 1 -5 1 -27 1 -3 1 -28 1 2 1 -26 1 -5 1 -29 1 1 1 -22 1 8 1 -24 1 9 1 -29 1 21 1 -16 1 13 1 -20 1 13 1 -16 1 17 1 -15 1 19 1 -25 1 29 1 -23 1 15 1 -17 1 23 1 -26 1 30 1 -19 1 23 1 -14 1 26 1 -35 1 37 1 -18 1 27 1 -18 1 20 1 -17 1 20 1 -16 1 25 1 -18 1 18 1 -23 1 26 1 -16 1 25 1 -17 1 19 1 -21 1 19 1 -17 1 23 1 -18 1 24 1 -23 1 27 1 -22 1 20 1 -16 1 28 1 -24 1 27 1 -18 1 12 1 -11 1 15 1 -9 1 16 1 -29 1 36 1 -25 1 24 1 -17 1 13 1 -9 1 17 1 -23 1 23 1 -23 1 24 1 -15 1 20 1 -21 1 19 1 -24 1 27 1 -18 1 25 1 -24 1 23 1 -18 1 20 1 -17 1 20 1 -15 1 27 1 -21 1 19 1 -18 1 23 1 -16 1 18 1 -18 1 16 1 -19 1 18 1 -9 1 17 1 -21 1 18 1 -16 1 19 1 -11 1 12 1 -10 1 15 1 -15 1 17 1 -27 1 30 1 -11 1 20 1 -21 1 24 1 -24 1 30 1 -21 1 21 1 -18 1 20 1 -19 1 19 1 -20 1 22 1 -15 1 29 1 -27 1 16 1 -13 1 17 1 -12 1 22 1 -15 1 13 1 -9 1 16 1 -18 1 24 1 -16 1 13 1 -10 1 21 1 -18 1 19 1 -12 1 24 1 -27 1 17 1 -14 1 21 1 -19 1 20 1 -11 1 12 1 -6 1 15 1 -12 1 17 1 -13 1 17 1 -12 1 16 1 -13 1 13 1 -7 1 11 1 -8 1 14 1 -17 1 20 1 -11 1 14 1 -17 1 18 1 -20 1 17 1 -9 1 11 1 -9 1 8 1 -11 1 20 1 -15 1 11 1 -11 1 17 1 -11 1 7 1 -11 1 11 1 -7 1 7 1 -7 1 11 1 -16 1 14 1 -11 1 12 1 -21 1 15 1 -7 1 14 1 -17 1 14 1 -11 1 10 1 -11 1 10 1 -13 1 16 1 -14 1 14 1 -16 1 13 1 -13 1 13 1 -15 1 21 1 -16 1 8 1 -15 1 19 1 -13 1 12 1 -14 1 12 1 -7 1 8 1 -19 1 22 1 -13 1 10 1 -8 1 6 1 -7 1 7 1 -11 1 12 1 -12 1 16 1 -13 1 9 1 -7 1 6 1 -8"/>
<path transform="scale(.5)" fill="none" stroke="#7800dc" stroke-width="3.0" stroke-linejoin="round" d="M952 1671l1 11 1 -19 1 8 1 -13 1 11 1 -16 1 14 1 -18 1 20 1 -23 1 18 1 -23 1 11 1 -15 1 22 1 -11 1 15 1 -10 1 14 1 -14 1 11 1 -15 1 6 1 -21 1 19 1 -20 1 11 1 -7 1 19 1 -13 1 17 1 -10 1 16 1 -7 1 8 1 -6 1 9 1 -11 1 20 1 -7 1 18 1 -9 1 10 1 -13 1 14 1 -14 1 25 1 -8 1 15 1 -16 1 8 1 -21 1 10 1 -19 1 20 1 -15 1 11 1 -12 1 2 1 -21 1 12 1 -17 1 16 1 -13 1 15 1 -6 1 15 1 -21 1 7 1 -16 1 16 1 -10 1 11 1 -15 1 18 1 -17 1 13 1 -12 1 14 1 -12 1 10 1 -14 1 11 1 -5 1 18 1 -10 1 16 1 -8 1 9 1 -15 1 15 1 -8 1 18 1 -4 1 21 1 -15 1 14 1 -13 1 21 1 -14 1 19 1 -21 1 20 1 -26 1 18 1 -10 1 9 1 -10 1 13 1 -11 1 6 1 -20 1 11 1 -12 1 17 1 -14 1 12 1 -16 1 14 1 -15 1 9 1 -18 1 20 1 -7 1 12 1 -10 1 2 1 -13 1 17 1 -14 1 14 1 -15 1 15 1 -11 1 13 1 -19 1 23 1 -21 1 10 1 -17 1 15 1 -23 1 14 1 -12 1 15 1 -18 1 15 1 -6 1 21 1 -6 1 15 1 -11 1 18 1 -7 1 14 1 -7 1 19 1 -11 1 13 1 -13 1 11 1 -5 1 16 1 -7 1 22 1 -10 1 21 1 -11 1 11 1 -9 1 9 1 -16 1 11 1 -25 1 13 1 -20 1 14 1 -10 1 10 1 -17 1 13 1 -13 1 6 1 -15 1 6 1 -19 1 10 1 -8 1 20 1 -12 1 20 1 -9 1 20 1 -3 1 13 1 -14 1 12 1 -15 1 22 1 -6 1 20 1 -14 1 17 1 -15 1 13 1 -24 1 9 1 -16 1 8 1 -20 1 3 1 -15 1 2 1 -22 1 9 1 -17 1 3 1 -17 1 9 1 -15 1 5 1 -18 1 9 1 -20 1 2 1 -24 1 -1 1 -23 1 9 1 -17 1 5 1 -14 1 11 1 -17 1 2 1 -20 1 1 1 -21 1 13 1 -15 1 13 1 -9 1 10 1 -10 1 14 1 -18 1 21 1 -9 1 13 1 -12 1 13 1 -18 1 14 1 -10 1 20 1 -1 1 14 1 -5 1 13 1 -8 1 12 1 -12 1 21 1 -9 1 19 1 -13 1 19 1 -15 1 25 1 -8 1 18 1 -18 1 18 1 -3 1 18 1 -10 1 15 1 -7 1 14 1 -17 1 19 1 -3 1 13 1 -6 1 10 1 -11 1 23 1 -9 1 18 1 -12 1 7 1 -16 1 12 1 -16 1 18 1 -7 1 22 1 -8 1 7 1 -13 1 16 1 -14 1 19 1 -11 1 7 1 -14 1 17 1 -13 1 9 1 -17 1 17 1 -1 1 23 1 -2 1 15 1 -11 1 14 1 -17 1 13 1 -12 1 12 1 -14 1 15 1 -14 1 17 1 -12 1 8 1 -12 1 16 1 -13 1 15 1 -13 1 15 1 -7 1 20 1 -10 1 11 1 -8 1 7 1 -14 1 16 1 -23 1 26 1 -11 1 13 1 -11 1 11 1 -15 1 7 1 -11 1 12 1 -19 1 12 1 -10 1 13 1 -19 1 14 1 -23 1 21 1 -20 1 13 1 -9 1 18 1 -4 1 15 1 -14 1 8 1 -14 1 18 1 -2 1 19 1 -10 1 21 1 -14 1 19 1 -12 1 21 1 -15 1 17 1 -8 1 12 1 -11 1 9 1 -17 1 10 1 -19 1 11 1 -18 1 8 1 -22 1 24 1 -27 1 13 1 -10 1 7 1 -13 1 12 1 -14 1 21 1 -5 1 21 1 0 1 12 1 -10 1 14 1 -13 1 11 1 -12 1 12 1 -17 1 1 1 -17 1 8 1 -22 1 19 1 -13 1 12 1 -13 1 11 1 -16 1 19 1 -8 1 14 1 -6 1 16 1 -12 1 16 1 -6 1 13 1 -9 1 19 1 -17 1 13 1 -6 1 6 1 -20 1 16 1 -16 1 16 1 -11 1 14 1 -13 1 7 1 -12 1 10 1 -15 1 14 1 -14 1 21 1 -20 1 12 1 -17 1 4 1 -9 1 28 1 -10 1 14 1 -18"/>
<path transform="scale(.5)" fill="none" stroke="#7800dc" stroke-width="3.0" stroke-linejoin="round" d="M1445 1757l1 15 1 -9 1 22 1 -16 1 16 1 -22 1 33 1 -21 1 21 1 -21 1 16 1 -17 1 17 1 -11 1 16 1 -18 1 33 1 -32 1 22 1 -16 1 10 1 -11 1 19 1 -18 1 20 1 -18 1 19 1 -18 1 17 1 -14 1 14 1 -17 1 19 1 -22 1 14 1 -15 1 15 1 -16 1 17 1 -15 1 17 1 -15 1 20 1 -20 1 22 1 -18 1 13 1 -12 1 16 1 -21 1 20 1 -19 1 21 1 -19 1 14 1 -15 1 13 1 -12 1 14 1 -16 1 21 1 -16 1 17 1 -19 1 20 1 -14 1 11 1 -17 1 17 1 -11 1 16 1 -16 1 9 1 -14 1 13 1 -10 1 14 1 -17 1 17 1 -19 1 12 1 -15 1 14 1 -13 1 17 1 -17 1 22 1 -20 1 21 1 -18 1 16 1 -22 1 24 1 -20 1 20 1 -17 1 12 1 -15 1 19 1 -17 1 20 1 -18 1 20 1 -24 1 17 1 -14 1 22 1 -20 1 18 1 -28 1 25 1 -16 1 16 1 -17 1 15 1 -18 1 19 1 -20 1 13 1 -13 1 20 1 -20 1 20 1 -21 1 18 1 -13 1 19 1 -18 1 16 1 -20 1 21 1 -23 1 16 1 -22 1 26 1 -16 1 15 1 -14 1 19 1 -19 1 14 1 -16 1 30 1 -28 1 13 1 -15 1 20 1 -25 1 19 1 -9 1 18 1 -22 1 15 1 -10 1 12 1 -15 1 12 1 -15 1 15 1 -19 1 18 1 -18 1 18 1 -16 1 19 1 -19 1 18 1 -21 1 21 1 -17 1 17 1 -27 1 29 1 -18 1 3 1 -48 1 -28 1 -29 1 8 1 25 1 35 1 13 1 14 1 -15 1 -6 1 -31 1 -14 1 -33 1 -14 1 -38 1 -5 1 -31 1 7 1 -11 1 18 1 -8 1 21 1 -8 1 16 1 -11 1 26 1 -8 1 16 1 -3 1 19 1 -10 1 22 1 -17 1 23 1 -13 1 21 1 -15 1 16 1 -13 1 14 1 -11 1 18 1 -12 1 15 1 -11 1 23 1 -18 1 18 1 -12 1 19 1 -12 1 14 1 -13 1 19 1 -11 1 18 1 -14 1 21 1 -14 1 14 1 -7 1 17 1 -11 1 16 1 -16 1 22 1 -15 1 17 1 -7 1 16 1 -15 1 17 1 -21 1 26 1 -16 1 14 1 -17 1 17 1 -11 1 10 1 -15 1 17 1 -14 1 24 1 -19 1 12 1 -6 1 11 1 -20 1 26 1 -16 1 12 1 -8 1 11 1 -9 1 9 1 -7 1 16 1 -17 1 12 1 -11 1 15 1 -15 1 10 1 -14 1 19 1 -16 1 14 1 -10 1 13 1 -11 1 15 1 -20 1 17 1 -16 1 13 1 -11 1 16 1 -17 1 19 1 -21 1 18 1 -14 1 12 1 -9 1 13 1 -19 1 15 1 -16 1 15 1 -14 1 14 1 -7 1 14 1 -19 1 17 1 -16 1 14 1 -8 1 15 1 -21 1 19 1 -13 1 17 1 -14 1 9 1 -15 1 14 1 -9 1 11 1 -14 1 16 1 -17 1 19 1 -15 1 11 1 -15 1 16 1 -15 1 14 1 -14 1 18 1 -24 1 26 1 -15 1 19 1 -19 1 20 1 -17 1 11 1 -8 1 11 1 -15 1 17 1 -26 1 21 1 -16 1 15 1 -10 1 20 1 -19 1 10 1 -19 1 22 1 -16 1 16 1 -12 1 12 1 -12 1 15 1 -13 1 14 1 -13 1 16 1 -16 1 15 1 -14 1 10 1 -12 1 14 1 -17 1 25 1 -24 1 16 1 -17 1 18 1 -16 1 18 1 -15 1 13 1 -15 1 12 1 -9 1 7 1 -6 1 10 1 -13 1 10 1 -7 1 8 1 -12 1 15 1 -16 1 16 1 -14 1 13 1 -7 1 10 1 -12 1 10 1 -10 1 11 1 -17 1 17 1 -12 1 9 1 -8 1 14 1 -15 1 10 1 -12 1 15 1 -11 1 8 1 -9 1 8 1 -12 1 10 1 -11 1 15 1 -12 1 10 1 -14 1 16 1 -10 1 13 1 -14 1 9 1 -10 1 13 1 -15 1 16 1 -13 1 12 1 -15 1 10 1 -8 1 12 1 -14 1 11 1 -7 1 9 1 -11 1 11 1 -7 1 12 1 -16 1 13 1 -15 1 15"/>
<path transform="scale(.5)" fill="none" stroke="#2800a0" stroke-width="2.4" stroke-linejoin="round" d="M466 2041l1 7 1 -8 1 6 1 -5 1 7 1 -8 1 7 1 -8 1 8 1 -7 1 6 1 -6 1 5 1 -6 1 8 1 -7 1 7 1 -6 1 4 1 -6 1 8 1 -6 1 6 1 -7 1 6 1 -5 1 7 1 -7 1 6 1 -5 1 5 1 -5 1 6 1 -6 1 6 1 -5 1 5 1 -6 1 6 1 -6 1 8 1 -8 1 6 1 -5 1 6 1 -6 1 7 1 -7 1 7 1 -7 1 6 1 -6 1 5 1 -5 1 7 1 -9 1 8 1 -7 1 8 1 -7 1 7 1 -7 1 7 1 -6 1 6 1 -7 1 7 1 -6 1 5 1 -7 1 7 1 -5 1 6 1 -8 1 7 1 -5 1 5 1 -7 1 7 1 -6 1 6 1 -6 1 7 1 -8 1 8 1 -7 1 6 1 -6 1 6 1 -6 1 6 1 -7 1 7 1 -6 1 6 1 -6 1 7 1 -7 1 7 1 -7 1 5 1 -6 1 6 1 -6 1 7 1 -8 1 8 1 -8 1 8 1 -8 1 8 1 -8 1 6 1 -6 1 7 1 -7 1 7 1 -7 1 6 1 -7 1 7 1 -6 1 5 1 -7 1 6 1 -6 1 6 1 -5 1 7 1 -7 1 7 1 -7 1 5 1 -7 1 8 1 -7 1 8 1 -7 1 6 1 -7 1 7 1 -5 1 5 1 -6 1 7 1 -6 1 7 1 -6 1 6 1 -7 1 8 1 -7 1 6 1 -6 1 7 1 -7 1 6 1 -6 1 7 1 -7 1 7 1 -6 1 6 1 -6 1 7 1 -9 1 8 1 -9 1 11 1 -11 1 12 1 -12 1 10 1 -10 1 14 1 -16 1 15 1 -17"/>
<path transform="scale(.5)" fill="none" stroke="#2800a0" stroke-width="3.4" stroke-linejoin="round" d="M644 2052l2 14 2 15 2 14 2 15 2 14 2 6 2 0 2 0 2 29 2 -1 2 -1 2 -1 2 0 2 -1 2 0 2 1 2 2 2 2 2 0 2 1 2 0 2 0 2 0 2 1 2 -1 2 1 2 0 2 0 2 0 2 0 2 0 2 0 2 0 2 0 2 0 2 1 2 0 2 0 2 0 2 -1 2 0 2 1 2 0 2 0 2 0 2 0 2 0 2 0 2 0 2 0 2 0 2 0 2 0 2 0 2 0 2 0 2 1 2 0 2 -1 2 1 2 0 2 0 2 -1 2 1 2 0 2 0 2 0 2 0 2 0 2 0 2 0 2 0 2 0 2 1 2 0 2 -1 2 1 2 -1 2 1 2 0 2 0 2 0 2 0 2 0 2 0 2 0 2 0 2 0 2 0 2 0 2 0 2 0 2 0 2 0 2 1 2 -1 2 0 2 0 2 1 2 0 2 0 2 -1 2 1 2 0 2 0 2 0 2 0 2 0 2 0 2 0 2 0 2 -1 2 1 2 0 2 0 2 1 2 -1 2 0 2 1 2 0 2 -1 2 0 2 1 2 -1 2 1 2 -1 2 1 2 0 2 0 2 0 2 0 2 0 2 0 2 0 2 0 2 0 2 0 2 0 2 0 2 1"/>
<path transform="scale(.5)" fill="none" stroke="#2800a0" stroke-width="2.4" stroke-linejoin="round" d="M950 1995l1 7 1 -6 1 5 1 -5 1 5 1 -5 1 5 1 -5 1 4 1 -4 1 6 1 -7 1 5 1 -6 1 7 1 -7 1 6 1 -6 1 6 1 -6 1 6 1 -7 1 7 1 -6 1 7 1 -6 1 6 1 -8 1 7 1 -6 1 5 1 -5 1 6 1 -6 1 6 1 -6 1 6 1 -7 1 7 1 -7 1 6 1 -6 1 7 1 -7 1 7 1 -6 1 5 1 -5 1 5 1 -6 1 6 1 -6 1 5 1 -5 1 6 1 -5 1 5 1 -7 1 6 1 -5 1 5 1 -6 1 7 1 -6 1 6 1 -7 1 8 1 -7 1 6 1 -7 1 8 1 -7 1 7 1 -8 1 7 1 -6 1 6 1 -6 1 6 1 -5 1 6 1 -5 1 5 1 -6 1 5 1 -5 1 6 1 -5 1 6 1 -7 1 6 1 -6 1 6 1 -6 1 7 1 -7 1 5 1 -6 1 7 1 -7 1 7 1 -7 1 7 1 -7 1 6 1 -6 1 7 1 -5 1 5 1 -5 1 5 1 -6 1 6 1 -5 1 6 1 -7 1 6 1 -7 1 6 1 -5 1 5 1 -5 1 7 1 -6 1 6 1 -7 1 7 1 -7 1 6 1 -6 1 7 1 -6 1 6 1 -6 1 6 1 -7 1 5 1 -5 1 7 1 -7 1 5 1 -6 1 7 1 -6 1 5 1 -6 1 6 1 -7 1 7 1 -5 1 6 1 -6 1 6 1 -7 1 5 1 -4 1 4 1 -5 1 7 1 -6 1 6 1 -7 1 7 1 -6 1 5 1 -5 1 6 1 -6 1 6 1 -6 1 6 1 -6 1 6 1 -6 1 6 1 -7 1 6 1 -4 1 5 1 -5 1 5 1 -5 1 5 1 -6 1 7 1 -6 1 6 1 -5"/>
<path transform="scale(.5)" fill="none" stroke="#2800a0" stroke-width="3.8" stroke-linejoin="round" d="M1137 1998l1 -5 1 -6 1 -1 1 8 1 9 1 6 1 -2 1 -3 1 -4 1 -2 1 -3 1 -1 1 3 1 3 1 3 1 4 1 2 1 3 1 4 1 2 1 2 1 1 1 0 1 1 1 1 1 2 1 0 1 0 1 0 1 0 1 0 1 0 1 0 1 -1 1 2 1 -1 1 0 1 5 1 -2 1 2 1 -1 1 0 1 0 1 0 1 -1 1 2 1 -1 1 5 1 0 1 0 1 0 1 0 1 0 1 0 1 0 1 -1 1 0 1 5 1 0 1 0 1 1 1 -1 1 0 1 1 1 -1 1 0 1 0 1 5 1 0 1 1 1 -1 1 0 1 1 1 -1 1 0 1 -1 1 1 1 8 1 0 1 0 1 -1 1 1 1 -1 1 0 1 1 1 -1 1 0 1 7 1 1 1 -1 1 1 1 -1 1 0 1 -1 1 1 1 1 1 0 1 6 1 2 1 -1 1 -2 1 1 1 0 1 1 1 -1 1 0 1 1 1 6 1 0 1 -1 1 1 1 -1 1 1 1 1 1 -1 1 0 1 0 1 9 1 -1 1 0 1 0 1 0 1 -1 1 1 1 -1 1 1 1 0 1 8 1 -1 1 -1 1 1 1 1 1 0 1 -2 1 0 1 2 1 -1 1 8 1 0 1 1 1 -2 1 1 1 1 1 -1 1 0 1 1 1 0 1 7 1 0 1 0 1 0 1 1 1 -2 1 2 1 -1 1 0 1 0 1 9 1 -2 1 1 1 -1 1 0 1 1 1 1 1 0 1 -1 1 0 1 2 1 0 1 -1 1 2 1 -1 1 0 1 0 1 0 1 0 1 0 1 1 1 1 1 -2 1 1 1 0 1 0 1 1 1 -1 1 0 1 0 1 1 1 1 1 -1 1 0 1 0 1 0 1 0 1 0 1 0 1 1 1 1 1 0 1 0 1 -1 1 1 1 0 1 -1 1 1 1 -1 1 1 1 2 1 -1 1 0 1 1 1 0 1 0 1 0 1 0 1 1 1 -1 1 2 1 0 1 -1 1 1 1 0 1 1 1 -1 1 0 1 0 1 1 1 1 1 0 1 -1 1 1 1 0 1 -1 1 2 1 -2 1 1 1 0 1 2 1 -1 1 1 1 0 1 0 1 0 1 0 1 0 1 0 1 0 1 4 1 -2 1 1 1 0 1 -1 1 -1 1 2 1 0 1 0 1 -1 1 6 1 1 1 -1 1 -1 1 2 1 -1 1 0 1 1 1 0 1 -1 1 6 1 -2 1 2 1 0 1 1 1 -1"/>
<path transform="scale(.5)" fill="none" stroke="#2800a0" stroke-width="2.4" stroke-linejoin="round" d="M1445 2014l1 11 1 -14 1 14 1 -11 1 13 1 -13 1 13 1 -11 1 11 1 -11 1 9 1 -11 1 13 1 -11 1 11 1 -13 1 12 1 -12 1 10 1 -11 1 12 1 -14 1 12 1 -12 1 12 1 -13 1 12 1 -13 1 14 1 -11 1 11 1 -12 1 10 1 -10 1 11 1 -14 1 13 1 -12 1 13 1 -14 1 15 1 -14 1 12 1 -10 1 9 1 -10 1 11 1 -10 1 9 1 -9 1 9 1 -11 1 14 1 -12 1 11 1 -11 1 12 1 -13 1 9 1 -12 1 13 1 -9 1 10 1 -13 1 13 1 -10 1 12 1 -10 1 11 1 -14 1 13 1 -11 1 13 1 -12 1 8 1 -10 1 12 1 -11 1 11 1 -13 1 10 1 -12 1 12 1 -10 1 9 1 -9 1 8 1 -11 1 10 1 -9 1 11 1 -9 1 8 1 -9 1 11 1 -15 1 12 1 -9 1 13 1 -11 1 9 1 -11 1 8 1 -12 1 12 1 -13 1 14 1 -13 1 11 1 -16 1 11 1 -15 1 17 1 -11 1 9 1 -17 1 18 1 -15 1 14 1 -10 1 9 1 -10 1 11 1 -11 1 11 1 -10 1 10 1 -15 1 17 1 -11 1 10 1 -11 1 12 1 -13 1 14 1 -11 1 8 1 -11 1 12 1 -11 1 10 1 -10 1 11 1 -11 1 11 1 -12 1 15 1 -16 1 15 1 -16 1 16 1 -12 1 12 1 -9 1 10 1 -13 1 14 1 -11 1 8 1 -9 1 12 1 -13 1 14 1 -18 1 14 1 -14 1 16 1 -17 1 17 1 -16 1 15"/>
<path transform="scale(.5)" fill="none" stroke="#2800a0" stroke-width="3.2" stroke-linejoin="round" d="M1615 2000l1 -33 1 44 1 29 1 25 1 25 1 21 1 22 1 21 1 22 1 2 1 2 1 2 1 2 1 2 1 2 1 1 1 0 1 1 1 1 1 1 1 1 1 0 1 1 1 1 1 0 1 0 1 1 1 0 1 1 1 0 1 1 1 0 1 1 1 0 1 1 1 0 1 1 1 -1 1 2 1 0 1 0 1 1 1 0 1 0 1 1 1 1 1 0 1 1 1 0 1 1 1 0 1 1 1 0 1 0 1 1 1 0 1 0 1 0 1 1 1 -1 1 0 1 0 1 0 1 0 1 0 1 1 1 -1 1 0 1 0 1 0 1 0 1 0 1 0 1 1 1 -1 1 0 1 0 1 1 1 -1 1 0 1 1 1 -1 1 1 1 -1 1 0 1 0 1 0 1 0 1 0 1 0 1 0 1 0 1 0 1 0 1 0 1 0 1 0 1 1 1 -1 1 0 1 0 1 0 1 0 1 0 1 0 1 0 1 0 1 0 1 0 1 0 1 0 1 0 1 0 1 0 1 0 1 0 1 0 1 0 1 0 1 0 1 0 1 0 1 0 1 0 1 0 1 0 1 0 1 0 1 0 1 0 1 0 1 0 1 0 1 0 1 0 1 0 1 0 1 0 1 0 1 0 1 0 1 0 1 0 1 0 1 0 1 0 1 0 1 0 1 0 1 0 1 0 1 0 1 0 1 0 1 0 1 0 1 0 1 0 1 0 1 0 1 0 1 0 1 0 1 0 1 0 1 -1 1 1 1 0 1 0 1 0 1 0 1 0 1 0 1 0 1 0 1 0 1 0 1 0 1 0 1 1 1 -1 1 0 1 0 1 0 1 0 1 0 1 0 1 0 1 0 1 0 1 0 1 0 1 0 1 0 1 0 1 0 1 0 1 -1 1 1 1 0 1 0 1 0 1 0 1 0 1 0 1 0 1 -1 1 1 1 0 1 0 1 -1 1 1 1 0 1 0 1 0 1 -1 1 1 1 -1 1 0 1 0 1 1 1 0 1 0 1 -1 1 0 1 0 1 0 1 1 1 0 1 -1 1 0 1 1 1 0 1 0 1 -1 1 0 1 1 1 -1 1 1 1 -1 1 1 1 -1 1 1 1 0 1 -1 1 1 1 -1 1 1 1 -1 1 0 1 0 1 1 1 -1 1 1 1 0 1 -1 1 0 1 1 1 0 1 0 1 -1 1 0 1 0 1 0 1 0 1 1 1 0 1 0 1 -1 1 1 1 -1 1 0 1 1 1 0 1 -1 1 0 1 1 1 0 1 0 1 -1 1 0 1 0 1 1 1 -1 1 1"/>
<path transform="scale(.5)" fill="none" stroke="#00b068" stroke-width="2.4" stroke-linejoin="round" d="M466 2377l1 9 1 -8 1 8 1 -7 1 6 1 -7 1 8 1 -9 1 8 1 -6 1 6 1 -8 1 9 1 -7 1 6 1 -8 1 7 1 -7 1 8 1 -8 1 8 1 -8 1 6 1 -6 1 7 1 -7 1 6 1 -6 1 6 1 -6 1 8 1 -9 1 9 1 -9 1 8 1 -6 1 5 1 -6 1 9 1 -10 1 9 1 -8 1 7 1 -6 1 8 1 -8 1 6 1 -6 1 7 1 -9 1 9 1 -8 1 6 1 -7 1 8 1 -6 1 6 1 -6 1 7 1 -10 1 8 1 -6 1 6 1 -6 1 7 1 -7 1 6 1 -8 1 8 1 -8 1 7 1 -6 1 6 1 -7 1 8 1 -8 1 6 1 -6 1 6 1 -7 1 7 1 -7 1 8 1 -8 1 8 1 -8 1 8 1 -7 1 7 1 -9 1 9 1 -9 1 8 1 -7 1 9 1 -8 1 7 1 -6 1 8 1 -8 1 8 1 -9 1 8 1 -7 1 8 1 -7 1 5 1 -6 1 6 1 -6 1 6 1 -7 1 8 1 -7 1 6 1 -6 1 6 1 -6 1 8 1 -8 1 6 1 -7 1 8 1 -6 1 7 1 -8 1 7 1 -6 1 7 1 -9 1 9 1 -8 1 8 1 -7 1 8 1 -9 1 7 1 -5 1 6 1 -6 1 6 1 -7 1 8 1 -7 1 7 1 -7 1 8 1 -9 1 6 1 -5 1 6 1 -7 1 7 1 -6 1 7 1 -8 1 8 1 -9 1 8 1 -6 1 7 1 -7 1 7 1 -8 1 7 1 -7 1 8 1 -10 1 12 1 -12 1 13 1 -13 1 14 1 -13 1 14 1 -14 1 14 1 -18 1 21"/>
<path transform="scale(.5)" fill="none" stroke="#00b068" stroke-width="3.4" stroke-linejoin="round" d="M645 2359l1 26 1 19 1 18 1 17 1 14 1 9 1 8 1 9 1 8 1 3 1 0 1 0 1 0 1 0 1 0 1 0 1 0 1 0 1 0 1 0 1 0 1 0 1 0 1 0 1 0 1 -2 1 -1 1 -1 1 -1 1 1 1 1 1 0 1 2 1 0 1 1 1 0 1 0 1 0 1 0 1 1 1 0 1 0 1 0 1 0 1 0 1 0 1 1 1 0 1 -1 1 1 1 0 1 0 1 0 1 1 1 -1 1 0 1 1 1 0 1 0 1 0 1 1 1 -1 1 1 1 0 1 -1 1 1 1 0 1 0 1 0 1 0 1 1 1 0 1 0 1 0 1 0 1 0 1 0 1 0 1 0 1 0 1 0 1 0 1 0 1 0 1 0 1 0 1 0 1 0 1 0 1 0 1 0 1 0 1 0 1 0 1 0 1 0 1 0 1 1 1 -1 1 0 1 0 1 1 1 -1 1 1 1 -1 1 1 1 0 1 0 1 -1 1 1 1 0 1 -1 1 1 1 0 1 0 1 -1 1 1 1 0 1 0 1 0 1 0 1 0 1 0 1 0 1 0 1 0 1 0 1 0 1 0 1 0 1 0 1 0 1 0 1 0 1 0 1 0 1 0 1 0 1 0 1 0 1 0 1 0 1 0 1 0 1 0 1 0 1 0 1 0 1 0 1 1 1 0 1 -1 1 0 1 0 1 0 1 0 1 1 1 0 1 0 1 0 1 -1 1 1 1 0 1 -1 1 0 1 1 1 0 1 0 1 0 1 0 1 0 1 0 1 0 1 -1 1 1 1 1 1 -1 1 0 1 0 1 0 1 0 1 0 1 0 1 0 1 0 1 0 1 0 1 0 1 0 1 0 1 0 1 0 1 0 1 0 1 0 1 0 1 0 1 0 1 1 1 -1 1 0 1 0 1 0 1 0 1 0 1 1 1 -1 1 0 1 0 1 1 1 -1 1 0 1 1 1 0 1 -1 1 0 1 1 1 -1 1 1 1 -1 1 0 1 1 1 0 1 0 1 0 1 0 1 0 1 -1 1 1 1 0 1 0 1 0 1 0 1 0 1 0 1 0 1 0 1 0 1 0 1 0 1 0 1 0 1 0 1 0 1 0 1 0 1 -1 1 1 1 0 1 1 1 -1 1 0 1 1 1 -1 1 0 1 0 1 0 1 1 1 -1 1 1 1 0 1 -1 1 0 1 1 1 0 1 0 1 0 1 0 1 0 1 -1 1 0 1 1 1 0 1 -1 1 1 1 0 1 0 1 0 1 0 1 0 1 0"/>
<path transform="scale(.5)" fill="none" stroke="#00b068" stroke-width="2.4" stroke-linejoin="round" d="M952 2316l1 4 1 -5 1 5 1 -5 1 7 1 -6 1 6 1 -6 1 5 1 -4 1 4 1 -5 1 6 1 -5 1 5 1 -6 1 6 1 -6 1 5 1 -4 1 6 1 -8 1 6 1 -6 1 6 1 -7 1 7 1 -7 1 7 1 -6 1 6 1 -7 1 6 1 -6 1 7 1 -7 1 6 1 -6 1 6 1 -5 1 5 1 -6 1 6 1 -5 1 5 1 -6 1 7 1 -7 1 7 1 -7 1 7 1 -5 1 4 1 -6 1 7 1 -6 1 6 1 -7 1 7 1 -5 1 6 1 -6 1 5 1 -6 1 6 1 -6 1 6 1 -6 1 7 1 -7 1 6 1 -4 1 5 1 -7 1 7 1 -7 1 7 1 -7 1 8 1 -7 1 7 1 -6 1 6 1 -7 1 6 1 -6 1 7 1 -6 1 6 1 -7 1 7 1 -6 1 7 1 -6 1 6 1 -7 1 6 1 -5 1 5 1 -5 1 6 1 -7 1 5 1 -6 1 6 1 -5 1 6 1 -8 1 8 1 -8 1 7 1 -6 1 6 1 -6 1 5 1 -5 1 6 1 -6 1 7 1 -6 1 4 1 -4 1 4 1 -4 1 6 1 -7 1 6 1 -5 1 6 1 -7 1 6 1 -6 1 7 1 -8 1 8 1 -7 1 6 1 -6 1 5 1 -4 1 6 1 -7 1 6 1 -7 1 8 1 -7 1 5 1 -6 1 6 1 -6 1 7 1 -6 1 5 1 -6 1 7 1 -6 1 5 1 -5 1 5 1 -5 1 5 1 -5 1 6 1 -5 1 4 1 -4 1 6 1 -6 1 6 1 -8 1 7 1 -7 1 6 1 -5 1 6 1 -6 1 7 1 -6 1 5 1 -6 1 5 1 -6 1 6 1 -5 1 6 1 -7"/>
<path transform="scale(.5)" fill="none" stroke="#00b068" stroke-width="3.6" stroke-linejoin="round" d="M1138 2318l1 -3 1 -5 1 16 1 17 1 -8 1 -6 1 -6 1 -7 1 -1 1 -1 1 -1 1 -2 1 1 1 4 1 7 1 6 1 27 1 27 1 -29 1 -24 1 4 1 6 1 5 1 4 1 4 1 3 1 -1 1 0 1 0 1 1 1 0 1 0 1 -1 1 0 1 -1 1 2 1 -1 1 9 1 1 1 -1 1 1 1 0 1 1 1 -1 1 0 1 0 1 -1 1 0 1 2 1 8 1 1 1 0 1 0 1 0 1 -1 1 0 1 2 1 -1 1 0 1 0 1 -1 1 11 1 0 1 0 1 0 1 -1 1 2 1 -3 1 2 1 0 1 0 1 0 1 1 1 9 1 0 1 1 1 0 1 0 1 0 1 -1 1 0 1 0 1 1 1 1 1 0 1 8 1 1 1 0 1 0 1 -1 1 3 1 -1 1 -1 1 0 1 0 1 -1 1 1 1 11 1 1 1 -1 1 1 1 -2 1 -1 1 3 1 -1 1 0 1 1 1 -2 1 0 1 12 1 2 1 -1 1 -1 1 2 1 -1 1 0 1 -1 1 2 1 -1 1 1 1 -2 1 16 1 0 1 0 1 -1 1 0 1 0 1 0 1 1 1 0 1 -1 1 0 1 0 1 15 1 1 1 0 1 0 1 0 1 0 1 0 1 0 1 0 1 -1 1 0 1 1 1 15 1 1 1 -1 1 -1 1 1 1 -1 1 0 1 2 1 0 1 -1 1 -1 1 1 1 10 1 -1 1 2 1 -1 1 1 1 -1 1 0 1 0 1 -1 1 3 1 -3 1 0 1 7 1 -1 1 1 1 0 1 0 1 0 1 0 1 0 1 0 1 0 1 0 1 0 1 5 1 0 1 1 1 0 1 -1 1 0 1 2 1 -2 1 2 1 -1 1 0 1 0 1 5 1 0 1 0 1 0 1 1 1 -2 1 1 1 1 1 0 1 -2 1 1 1 0 1 5 1 -2 1 2 1 -2 1 3 1 -1 1 -1 1 1 1 0 1 -1 1 0 1 1 1 4 1 1 1 0 1 0 1 0 1 0 1 0 1 0 1 -1 1 1 1 0 1 1 1 3 1 -1 1 2 1 0 1 0 1 0 1 -1 1 -1 1 0 1 2 1 0 1 -1 1 7 1 0 1 0 1 0 1 -1 1 2 1 1 1 -2 1 1 1 0 1 -1 1 1 1 7 1 1 1 0 1 0 1 0 1 -1 1 2 1 -2 1 2 1 -1 1 -1 1 1 1 8 1 0 1 0 1 1 1 0 1 0 1 -1 1 4"/>
<path transform="scale(.5)" fill="none" stroke="#00b068" stroke-width="2.4" stroke-linejoin="round" d="M1445 2338l1 10 1 -14 1 14 1 -11 1 11 1 -11 1 9 1 -8 1 10 1 -11 1 9 1 -9 1 9 1 -8 1 8 1 -12 1 13 1 -13 1 14 1 -14 1 15 1 -17 1 12 1 -12 1 11 1 -9 1 13 1 -15 1 15 1 -14 1 10 1 -8 1 11 1 -15 1 12 1 -12 1 14 1 -11 1 9 1 -13 1 19 1 -18 1 15 1 -16 1 16 1 -13 1 12 1 -11 1 10 1 -9 1 10 1 -12 1 16 1 -15 1 13 1 -10 1 12 1 -13 1 12 1 -10 1 12 1 -10 1 10 1 -11 1 10 1 -9 1 12 1 -13 1 13 1 -13 1 12 1 -16 1 14 1 -18 1 17 1 -10 1 11 1 -13 1 13 1 -14 1 15 1 -14 1 11 1 -13 1 16 1 -14 1 11 1 -13 1 13 1 -9 1 11 1 -12 1 9 1 -11 1 12 1 -10 1 9 1 -11 1 10 1 -12 1 10 1 -10 1 11 1 -14 1 12 1 -9 1 9 1 -14 1 13 1 -14 1 11 1 -11 1 14 1 -15 1 13 1 -9 1 13 1 -17 1 15 1 -14 1 16 1 -13 1 13 1 -10 1 12 1 -14 1 15 1 -14 1 14 1 -10 1 14 1 -12 1 10 1 -9 1 11 1 -12 1 13 1 -12 1 12 1 -10 1 9 1 -12 1 13 1 -13 1 9 1 -12 1 13 1 -17 1 14 1 -13 1 10 1 -12 1 10 1 -11 1 12 1 -14 1 13 1 -13 1 11 1 -10 1 14 1 -18 1 16 1 -13 1 14 1 -12 1 16 1 -19 1 19 1 -19 1 16"/>
<path transform="scale(.5)" fill="none" stroke="#00b068" stroke-width="3.2" stroke-linejoin="round" d="M1616 2330l1 -17 1 27 1 17 1 16 1 17 1 17 1 16 1 17 1 12 1 11 1 12 1 12 1 11 1 12 1 11 1 1 1 0 1 1 1 0 1 0 1 0 1 1 1 1 1 0 1 0 1 0 1 1 1 0 1 0 1 1 1 0 1 0 1 1 1 0 1 0 1 0 1 0 1 0 1 0 1 0 1 0 1 0 1 0 1 0 1 0 1 0 1 0 1 0 1 0 1 0 1 1 1 -1 1 0 1 1 1 -1 1 0 1 0 1 0 1 0 1 0 1 0 1 0 1 1 1 0 1 0 1 -1 1 1 1 0 1 0 1 0 1 0 1 0 1 0 1 0 1 0 1 0 1 0 1 0 1 0 1 0 1 0 1 0 1 0 1 0 1 0 1 0 1 0 1 0 1 0 1 0 1 0 1 0 1 1 1 -1 1 1 1 -1 1 0 1 0 1 0 1 1 1 -1 1 1 1 -1 1 1 1 -1 1 0 1 1 1 0 1 0 1 0 1 -1 1 1 1 0 1 0 1 0 1 0 1 -1 1 1 1 0 1 0 1 0 1 0 1 0 1 0 1 0 1 0 1 0 1 0 1 0 1 0 1 0 1 0 1 0 1 0 1 0 1 0 1 0 1 0 1 0 1 1 1 -1 1 0 1 0 1 1 1 -1 1 0 1 0 1 0 1 0 1 0 1 0 1 1 1 0 1 -1 1 1 1 0 1 -1 1 1 1 0 1 0 1 -1 1 0 1 0 1 0 1 1 1 0 1 0 1 0 1 0 1 0 1 0 1 0 1 0 1 0 1 0 1 0 1 0 1 0 1 0 1 0 1 0 1 0 1 0 1 0 1 0 1 0 1 0 1 0 1 0 1 0 1 0 1 0 1 0 1 0 1 0 1 0 1 1 1 -1 1 1 1 -1 1 0 1 1 1 0 1 -1 1 0 1 0 1 1 1 -1 1 0 1 1 1 0 1 0 1 0 1 0 1 0 1 0 1 0 1 0 1 0 1 0 1 0 1 0 1 0 1 0 1 0 1 0 1 0 1 0 1 0 1 0 1 0 1 0 1 0 1 0 1 0 1 0 1 0 1 0 1 0 1 1 1 -1 1 0 1 1 1 -1 1 0 1 0 1 1 1 -1 1 1 1 -1 1 1 1 -1 1 1 1 0 1 0 1 -1 1 1 1 0 1 -1 1 1 1 -1 1 0 1 0 1 1 1 -1 1 1 1 0 1 0 1 0 1 0 1 0 1 0 1 0 1 0 1 0 1 0 1 0 1 0 1 0 1 0 1 0 1 0 1 0 1 0"/>
<text transform="translate(1082.54,52.81) scale(0.9946,1)" font-size="38.40" fill="#000" stroke="#000" stroke-width="0.7">Control</text>
<text transform="translate(1350.60,52.83) scale(0.9440,1)" font-size="40.08" fill="#000" stroke="#000" stroke-width="0.7">SIH</text>
<text transform="translate(1513.08,52.88) scale(1.0211,1)" font-size="37.42" fill="#000" stroke="#000" stroke-width="0.7">SIH + Nb</text>
<text transform="translate(1671.33,52.33) scale(1.0598,1)" font-size="26.51" fill="#000" stroke="#000" stroke-width="0.7">2</text>
<text transform="translate(1689.90,52.83) scale(0.8291,1)" font-size="38.84" fill="#000" stroke="#000" stroke-width="0.7">C</text>
<text transform="translate(966.47,91.20) scale(1.0157,1)" font-size="53.65" fill="#000" stroke="#000" stroke-width="0.7">c</text>
<text transform="translate(966.38,348.11) scale(1.0013,1)" font-size="53.96" fill="#000" stroke="#000" stroke-width="0.7">d</text>
<text transform="translate(976.96,824.12) scale(0.9797,1)" font-size="55.60" fill="#000" stroke="#000" stroke-width="0.7">e</text>
<text transform="translate(1018.75,266.59) rotate(-90) scale(1.0245,1)" font-size="31.74" stroke-width="0.7"><tspan fill="#00c040" stroke="#00c040">c-Fos</tspan><tspan fill="#000" stroke="#000">/</tspan><tspan fill="#ff0000" stroke="#ff0000">TH</tspan></text>
<text transform="translate(1017.37,511.66) rotate(-90) scale(0.9918,1)" font-size="33.12" fill="#ff0000" stroke="#ff0000" stroke-width="0.7">Microglia</text>
<text transform="translate(1017.21,709.83) rotate(-90) scale(1.0342,1)" font-size="31.68" fill="#000" stroke="#000" stroke-width="0.7">Sholl</text>
<text transform="translate(1016.26,1211.76) rotate(-90) scale(1.0612,1)" font-size="30.72" fill="#000" stroke="#000" stroke-width="0.7">Skeleton</text>
<defs><filter id="gl" x="-20%" y="-20%" width="140%" height="140%"><feGaussianBlur stdDeviation="0.9"/></filter><filter id="gl2" x="-50%" y="-50%" width="200%" height="200%"><feGaussianBlur stdDeviation="2.5"/></filter><clipPath id="cc1"><rect x="1036.0" y="83.5" width="228.29999999999995" height="227.60000000000002"/></clipPath><clipPath id="cc2"><rect x="1268.3" y="83.5" width="227.5" height="227.60000000000002"/></clipPath><clipPath id="cc3"><rect x="1500.0" y="83.5" width="227.5999999999999" height="227.60000000000002"/></clipPath><clipPath id="dc1"><rect x="1036.0" y="324.5" width="228.29999999999995" height="227.5"/></clipPath><clipPath id="dc2"><rect x="1268.3" y="324.5" width="227.5" height="227.5"/></clipPath><clipPath id="dc3"><rect x="1500.0" y="324.5" width="227.5999999999999" height="227.5"/></clipPath></defs>
<rect x="1036.0" y="83.5" width="228.3" height="227.6" fill="#000"/>
<rect x="1268.3" y="83.5" width="227.5" height="227.6" fill="#000"/>
<rect x="1500.0" y="83.5" width="227.6" height="227.6" fill="#050000"/>
<g clip-path="url(#cc1)"><g id="c1g"><path d="M1128.0,154.0 L1105.0,166.0 L1080.0,176.0 L1055.0,186.0 L1036.0,196.0" stroke="#ff1a1a" stroke-width="5.5" fill="none" stroke-linecap="round" stroke-linejoin="round" opacity="1.0"/><path d="M1136.0,125.0 L1134.0,105.0 L1131.0,84.0" stroke="#ff1a1a" stroke-width="2.5" fill="none" stroke-linecap="round" stroke-linejoin="round" opacity="1.0"/><path d="M1150.0,146.0 L1170.0,143.0 L1190.0,140.0 L1215.0,130.0 L1240.0,122.0 L1264.0,117.0" stroke="#ff1a1a" stroke-width="3.0" fill="none" stroke-linecap="round" stroke-linejoin="round" opacity="1.0"/><path d="M1187.0,140.0 L1200.0,125.0 L1215.0,108.0 L1231.0,84.0" stroke="#ff1a1a" stroke-width="3.2" fill="none" stroke-linecap="round" stroke-linejoin="round" opacity="1.0"/><path d="M1037.0,251.0 L1055.0,238.0 L1073.0,225.0 L1110.0,224.0 L1145.0,224.0 L1170.0,245.0 L1215.0,243.0 L1262.0,243.0" stroke="#ff1a1a" stroke-width="2.4" fill="none" stroke-linecap="round" stroke-linejoin="round" opacity="1.0"/><path d="M1103.0,311.0 L1130.0,282.0 L1166.0,245.0 L1195.0,220.0 L1222.0,197.0 L1233.0,169.0 L1212.0,140.0" stroke="#ff1a1a" stroke-width="1.8" fill="none" stroke-linecap="round" stroke-linejoin="round" opacity="1.0"/><path d="M1140.0,165.0 L1148.0,200.0 L1166.0,245.0 L1185.0,262.0 L1215.0,285.0 L1250.0,311.0" stroke="#ff1a1a" stroke-width="1.6" fill="none" stroke-linecap="round" stroke-linejoin="round" opacity="1.0"/><path d="M1060.0,120.0 L1075.0,140.0 L1085.0,180.0" stroke="#b00000" stroke-width="1.0" fill="none" stroke-linecap="round" stroke-linejoin="round" opacity="1.0"/><path d="M1040.0,290.0 L1065.0,270.0 L1090.0,250.0" stroke="#b00000" stroke-width="1.2" fill="none" stroke-linecap="round" stroke-linejoin="round" opacity="1.0"/><path d="M1200.0,170.0 L1240.0,160.0 L1264.0,150.0" stroke="#b00000" stroke-width="1.2" fill="none" stroke-linecap="round" stroke-linejoin="round" opacity="1.0"/><path d="M1128,122 C1142,118 1152,132 1150,146 C1148,156 1132,158 1126,150 C1122,140 1120,126 1128,122 Z" fill="#ff2020"/><ellipse cx="1237" cy="231" rx="6" ry="10" transform="rotate(-30 1237 231)" fill="#e01010"/><circle cx="1201" cy="104" r="2.5" fill="#ff2020"/></g><use href="#c1g" filter="url(#gl2)" opacity="0.8"/></g>
<g clip-path="url(#cc2)"><g id="c2g"><ellipse cx="1344.5" cy="137" rx="9.5" ry="4.5" fill="#ff3010"/><ellipse cx="1346" cy="138" rx="5" ry="2.5" fill="#ffb000"/><ellipse cx="1367" cy="140" rx="3.5" ry="2.2" fill="#ff8000"/><path d="M1365,141 L1368,150" stroke="#00c000" stroke-width="2.5"/><path d="M1310,242 L1328,246 L1324,258 L1314,256 Z" fill="#ffff00" stroke="#f0e000" stroke-width="3"/><path d="M1329.0,245.0 L1337.0,236.0 L1344.0,228.0 L1351.0,214.0 L1359.0,206.0 L1364.0,199.0" stroke="#ff1a1a" stroke-width="2.6" fill="none" stroke-linecap="round" stroke-linejoin="round" opacity="1.0"/><path d="M1316.0,258.0 L1314.0,270.0" stroke="#ff1a1a" stroke-width="2.2" fill="none" stroke-linecap="round" stroke-linejoin="round" opacity="1.0"/><path d="M1418.0,195.0 L1430.0,190.0 L1440.0,182.0 L1452.0,180.0" stroke="#ff1a1a" stroke-width="3.5" fill="none" stroke-linecap="round" stroke-linejoin="round" opacity="1.0"/><ellipse cx="1436" cy="184" rx="5" ry="4" fill="#ff5010"/><g filter="url(#gl2)"><ellipse cx="1446" cy="252" rx="13" ry="13" fill="#1a8a1a"/><ellipse cx="1460" cy="246" rx="7" ry="10" fill="#147014"/><ellipse cx="1448" cy="182" rx="10" ry="4" fill="#0e5a0e"/><ellipse cx="1412" cy="230" rx="6" ry="6" fill="#0a4a0a"/><ellipse cx="1380" cy="182" rx="8" ry="5" fill="#083808"/></g><ellipse cx="1376" cy="260" rx="3.5" ry="3" fill="#ff9000"/><path d="M1477.0,88.0 L1486.0,90.0 L1495.0,90.0" stroke="#ff1a1a" stroke-width="2.2" fill="none" stroke-linecap="round" stroke-linejoin="round" opacity="1.0"/><path d="M1424.0,93.0 L1422.0,103.0 L1426.0,113.0 L1429.0,121.0" stroke="#ff1a1a" stroke-width="2.0" fill="none" stroke-linecap="round" stroke-linejoin="round" opacity="1.0"/><path d="M1441,288 L1450,287 L1446,297 Z" fill="#ff2020"/><path d="M1477.0,285.0 L1485.0,275.0 L1492.0,262.0" stroke="#ff1a1a" stroke-width="2.0" fill="none" stroke-linecap="round" stroke-linejoin="round" opacity="1.0"/><path d="M1269.0,114.0 L1290.0,114.0 L1302.0,115.0 L1312.0,116.0" stroke="#ff1a1a" stroke-width="1.8" fill="none" stroke-linecap="round" stroke-linejoin="round" opacity="1.0"/><path d="M1269.0,249.0 L1285.0,250.0 L1298.0,252.0" stroke="#ff1a1a" stroke-width="1.8" fill="none" stroke-linecap="round" stroke-linejoin="round" opacity="1.0"/><path d="M1468.0,254.0 L1472.0,245.0 L1476.0,240.0" stroke="#ff1a1a" stroke-width="1.6" fill="none" stroke-linecap="round" stroke-linejoin="round" opacity="1.0"/><circle cx="1290" cy="97" r="1.4" fill="#e01010"/><circle cx="1324" cy="165" r="1.4" fill="#e01010"/><circle cx="1395" cy="175" r="1.4" fill="#e01010"/><circle cx="1300" cy="134" r="1.4" fill="#e01010"/><circle cx="1430" cy="132" r="1.4" fill="#e01010"/><circle cx="1486" cy="113" r="1.4" fill="#e01010"/><circle cx="1418" cy="305" r="1.4" fill="#e01010"/><circle cx="1318" cy="300" r="1.4" fill="#e01010"/><circle cx="1280" cy="308" r="1.4" fill="#e01010"/><circle cx="1392" cy="222" r="1.4" fill="#e01010"/><circle cx="1360" cy="190" r="1.4" fill="#e01010"/></g><use href="#c2g" filter="url(#gl2)" opacity="0.6"/></g>
<g clip-path="url(#cc3)"><g id="c3g"><path d="M1552,121 C1560,117 1570,124 1575,132 C1566,131 1556,128 1552,121 Z" fill="#ff2020" stroke="#ff2020" stroke-width="2"/><path d="M1552.0,121.0 L1540.0,124.0 L1521.0,123.0" stroke="#e81010" stroke-width="1.5" fill="none" stroke-linecap="round" stroke-linejoin="round" opacity="1.0"/><path d="M1696,115 L1710,118 L1702,125 Z" fill="#ff2020" stroke="#ff2020" stroke-width="3"/><path d="M1696.0,115.0 L1680.0,113.0 L1662.0,109.0" stroke="#e81010" stroke-width="1.4" fill="none" stroke-linecap="round" stroke-linejoin="round" opacity="1.0"/><path d="M1625,204 L1632,205 L1646,204 L1634,212 L1626,213 Z" fill="#ff2020" stroke="#ff2020" stroke-width="2.5"/><path d="M1661,207 L1676,209 L1664,213 Z" fill="#ff2020" stroke="#ff2020" stroke-width="3"/><path d="M1630.0,186.0 L1645.0,195.0 L1661.0,207.0" stroke="#e81010" stroke-width="1.4" fill="none" stroke-linecap="round" stroke-linejoin="round" opacity="1.0"/><path d="M1612.0,221.0 L1624.0,213.0" stroke="#e81010" stroke-width="1.4" fill="none" stroke-linecap="round" stroke-linejoin="round" opacity="1.0"/><path d="M1530.0,260.0 L1550.0,240.0 L1580.0,230.0" stroke="#6a0808" stroke-width="1.2" fill="none" stroke-linecap="round" stroke-linejoin="round" opacity="1.0"/><path d="M1560.0,165.0 L1590.0,164.0 L1605.0,162.0" stroke="#6a0808" stroke-width="1.2" fill="none" stroke-linecap="round" stroke-linejoin="round" opacity="1.0"/><path d="M1610.0,140.0 L1630.0,120.0 L1650.0,110.0" stroke="#6a0808" stroke-width="1.2" fill="none" stroke-linecap="round" stroke-linejoin="round" opacity="1.0"/><path d="M1655.0,110.0 L1662.0,140.0 L1670.0,160.0 L1660.0,190.0 L1665.0,200.0" stroke="#6a0808" stroke-width="1.2" fill="none" stroke-linecap="round" stroke-linejoin="round" opacity="1.0"/><path d="M1680.0,150.0 L1690.0,170.0 L1700.0,210.0 L1720.0,220.0" stroke="#6a0808" stroke-width="1.2" fill="none" stroke-linecap="round" stroke-linejoin="round" opacity="1.0"/><path d="M1600.0,140.0 L1605.0,150.0 L1598.0,170.0" stroke="#6a0808" stroke-width="1.2" fill="none" stroke-linecap="round" stroke-linejoin="round" opacity="1.0"/><path d="M1575.0,190.0 L1610.0,230.0 L1650.0,250.0" stroke="#6a0808" stroke-width="1.2" fill="none" stroke-linecap="round" stroke-linejoin="round" opacity="1.0"/><path d="M1520.0,280.0 L1540.0,270.0" stroke="#6a0808" stroke-width="1.2" fill="none" stroke-linecap="round" stroke-linejoin="round" opacity="1.0"/><path d="M1640.0,270.0 L1680.0,280.0" stroke="#6a0808" stroke-width="1.2" fill="none" stroke-linecap="round" stroke-linejoin="round" opacity="1.0"/></g><use href="#c3g" filter="url(#gl2)" opacity="0.7"/></g>
<text transform="translate(1162.00,289.80) scale(1.0273,1)" font-size="32.07" fill="#fff" stroke="#fff" stroke-width="0.7">50 µm</text>
<rect x="1203" y="301" width="53.4" height="3" fill="#fff"/>
<rect x="1036.0" y="324.5" width="228.3" height="227.5" fill="#000"/>
<rect x="1268.3" y="324.5" width="227.5" height="227.5" fill="#050000"/>
<rect x="1500.0" y="324.5" width="227.6" height="227.5" fill="#0c0000"/>
<g clip-path="url(#dc1)"><g transform="scale(.5)" fill="none" stroke="#ff1010" stroke-linecap="round" stroke-linejoin="round"><path stroke-width="3.50" d="M2151 868l2 4 3 4 3 3 2 3 3 4 2 4 3 2 3 4 2 4 1 4M2151 868l-4 3 -2 4 -2 4 -4 1 -3 4 -2 4 0 5 0 4 -2 4 -5 1 -2 3 -3 4M2151 868l-4 -2 -4 -2 -3 -3 -5 0 -4 0 -4 0 -5 1 -4 2 -4 0 -5 -1M2151 868l1 -4 0 -4 -3 -4 -3 -3 -3 -3 -3 -4 -2 -3 -2 -4 -1 -4M2151 868l4 0 4 -2 4 -2 3 -3 4 -2 4 -1 5 -2 4 -1 4 -1"/><path stroke-width="2.00" d="M2175 904l8 4M2159 879l-6 7M2169 892l5 0 4 -2 3 -3 3 -3 0 -5 0 -4M2175 904l2 4 4 2 3 3 4 2M2143 879l5 6M2134 897l-7 3M2134 888l-4 1 -4 2 -3 3 -2 4 -4 2 -4 3 -1 4 -4 2 -4 2M2122 909l0 4 1 4 2 4M2140 861l-5 7M2122 862l-4 4M2131 861l-4 -1 -5 2 -4 0 -4 1 -4 2 -3 3 -3 3M2135 861l-3 3 -1 4 1 4 2 4 2 4M2109 863l-3 -2 -3 -4 -2 -3 -2 -4M2143 850l-7 -3M2140 846l10 -2M2143 850l1 -4 2 -4 1 -4 2 -4 -1 -5M2146 853l-3 -3 -2 -4 -2 -4 -3 -3M2135 835l-3 -4 -3 -3 -4 0M2183 855l3 7M2179 856l5 -7M2174 858l4 -3 4 -2 3 -3 2 -4M2170 859l3 4 2 3 3 4 1 4M2187 854l4 -3 1 -4 2 -4"/><path stroke-width="1.50" d="M2181 887l4 2 4 2 5 1 4 1M2184 884l1 4 3 3M2184 875l3 -4 3 -3 4 -1M2181 910l1 4 1 5M2184 913l1 4 -2 4M2188 915l1 4 0 5M2123 894l-4 -1 -4 -2 -3 -3 -4 -3 -2 -4M2104 911l-2 4 -2 4 -4 3 -4 1M2122 913l-4 2 -4 2M2123 917l-4 0 -4 -2M2125 921l1 5 0 4M2114 863l-2 4 -5 1 -2 4 -3 3 -4 2M2118 862l-4 -3 -3 -3 -3 -3 -3 -3M2104 871l-3 4 -4 1 -5 -1 -4 1M2131 868l-2 4 -1 4 -3 4M2136 880l1 4 3 3 3 3M2103 857l-4 -1 -4 0 -4 -2M2103 857l-4 -1 -4 1M2099 850l-3 -4 -1 -4M2146 842l4 -2 3 3 5 1M2147 838l0 -4 -1 -5 0 -4M2148 829l1 -4 5 -1M2141 846l-1 -4 2 -4M2139 842l1 -4 1 -5 2 -3M2136 839l0 -5 0 -4M2132 831l-4 -2 -4 2M2132 831l-2 -4 0 -4M2125 828l-4 2 -4 1M2182 853l0 -4 2 -4 3 -4M2187 846l1 -4 2 -4M2175 866l0 5 2 4M2179 874l1 4 2 4M2192 847l2 -4 0 -4M2192 847l4 0 4 -2M2194 843l0 -4 -1 -4"/><path stroke-width="1.00" d="M2178 890l1 4M2185 889l5 -4M2184 913l5 -1M2113 903l-3 -4M2130 889l-4 6M2119 893l1 -5M2100 919l-5 -1M2122 862l-3 -8M2098 877l-3 7M2105 850l-10 4M2088 876l-6 0M2136 880l-1 5M2099 850l-5 7M2147 838l-2 -6M2136 839l3 -8M2187 846l-1 -8M2179 874l-3 4"/></g><circle cx="1075.4" cy="434.2" r="3.2" fill="#ff1010"/><g transform="scale(.5)" fill="none" stroke="#ff1010" stroke-linecap="round" stroke-linejoin="round"><path stroke-width="3.50" d="M2303 864l-1 4 0 5 0 4 0 4 0 5 -1 4 -3 3 -4 2 -4 3M2303 864l-4 1 -4 -1 -5 -1 -4 0 -4 -1 -5 -1 -3 -2 -5 0 -4 -3 -4 -1 -4 -1 -4 1 -5 0M2303 864l-4 1 -4 0 -4 3 -4 2 -2 4 -4 2 -3 3 -3 3 -3 4 -4 2 -2 3 -2 4 -2 4M2303 864l2 -4 1 -4 0 -5 0 -4 1 -4M2303 864l4 -2 5 -1 4 -2 4 0 4 -1 4 -3 4 -2 4 -1M2303 864l4 2 4 3 3 3 4 2 4 0 5 0 4 2 3 3 3 3 2 4"/><path stroke-width="2.00" d="M2302 877l-8 2M2302 877l6 6M2302 886l2 4 0 4 0 5 1 4 1 4M2290 898l-1 4 -2 4 0 5 -1 4M2277 861l-1 6M2248 855l-5 -4M2295 864l-4 -5M2277 861l-2 3 -4 3 -3 3 -4 2 -5 0 -4 2 -3 3M2286 863l-3 3 -1 5 -2 3 -1 5 -3 3 -3 3M2248 855l-4 -1 -3 -3 -4 -1 -4 -3M2295 865l-7 5M2281 876l-5 8M2266 891l-3 4M2285 874l-5 0 -3 3 -1 4 1 4 1 5 -2 3 -3 4 -4 1M2262 899l-2 4 -4 3 -4 2 -4 2 -4 1 -4 1M2306 856l-6 -3M2306 851l-3 -3 -1 -4M2307 843l1 -4 2 -4M2332 853l2 -7M2336 852l1 -7M2316 859l3 -2 3 -3 4 -2 5 0 4 -2M2336 852l4 -1 4 -3 2 -3 1 -5M2327 874l-1 10M2314 872l0 7M2331 876l4 0 4 -1 5 0 4 -1 3 -3 4 -3 1 -4M2327 874l4 1 4 1 4 3 4 2 4 -1 4 -2 4 -3M2339 886l5 1 4 1 4 0"/><path stroke-width="1.50" d="M2304 899l-1 4 -3 4 -1 4M2306 907l3 2 4 3M2287 911l0 4 3 4M2286 915l0 4 2 5M2259 872l-3 -3 -4 -2 -4 -2 -2 -4 -3 -4M2271 867l1 5 1 4 2 4 2 4M2252 877l-3 2 -5 1M2282 871l-3 3 -3 3 0 5M2273 885l-3 3 -3 3 -4 3M2241 851l-5 0 -4 0 -4 -1M2233 847l-1 -4 -3 -3M2277 885l-4 1 -4 3 -4 2 -3 3 -4 1M2277 885l2 4 3 4 3 3 2 4M2269 898l-5 1 -4 1 -4 2M2252 908l-4 1 -3 3 -4 3M2248 910l-3 3 -2 4 -1 4M2240 912l-3 3 -2 4 -5 1M2303 848l-5 -1 -4 0M2302 844l-3 -3 -4 -2M2308 839l2 -4 1 -5M2308 839l4 -1 5 -1M2310 835l1 -5 2 -4M2322 854l5 -1 4 -1 3 -3M2335 850l3 2 4 2M2340 851l4 -1 2 -4 0 -5M2347 840l3 -3 4 -2M2351 871l3 4 3 3 2 4 3 3 1 5M2351 871l4 3 4 1 4 2 4 2 4 3M2356 864l-3 -3 -3 -4M2343 881l4 1 4 1 5 1 4 1M2355 875l3 -3 4 -1M2344 887l4 0 4 -2M2352 888l4 -2 3 -4"/><path stroke-width="1.00" d="M2304 890l2 3M2286 915l-9 -2M2268 870l-5 -1M2243 857l-1 -4M2275 880l-4 2M2279 879l2 3M2237 850l-5 4M2277 877l-8 -3M2278 890l-5 -2M2258 895l-4 -6M2282 893l4 5M2244 911l-6 2M2335 850l2 -8M2344 848l5 5M2335 876l2 -5M2354 875l1 8M2371 882l4 -3M2351 878l3 -4M2347 882l-2 -9"/></g><circle cx="1151.7" cy="432.0" r="3.2" fill="#ff1010"/><g transform="scale(.5)" fill="none" stroke="#ff1010" stroke-linecap="round" stroke-linejoin="round"><path stroke-width="3.50" d="M2334 711l-1 5 -1 4 2 4 0 5 0 4 0 4 -1 4 -3 4 -3 3M2334 711l2 -4 3 -2 4 -1 5 -1 3 -3 2 -4 2 -4 2 -4 3 -3M2334 711l-1 5 1 4 1 4 1 5 -1 4 0 4 3 3 4 2 3 3 2 4 1 4M2334 711l-1 -4 -1 -4 -1 -4 -3 -4 -2 -3 -4 -3 -4 -2 -4 -1 -4 0"/><path stroke-width="2.00" d="M2334 733l-7 2M2334 733l4 2M2334 729l-3 2 -4 3 -4 2 -4 1M2334 724l3 4 2 3 3 3 4 3 4 2 3 3 3 3M2327 748l-3 3 0 5 -3 3M2360 685l4 -7M2343 704l4 -6M2343 704l2 -4 2 -4 -2 -4 -1 -5M2351 700l2 -4 0 -4 1 -5 0 -4 -1 -4M2360 685l4 -3 4 -1 4 -2 2 -4M2335 737l-9 3M2348 753l-9 3M2336 729l-3 2 -3 3 -3 4 -3 3 -3 3M2348 753l3 3 4 3 4 1 3 4 4 2M2310 686l6 -6M2318 687l8 -3M2328 695l-2 -3 -3 -4 -3 -2 -4 -3 -4 0 -5 -1 -4 -1M2322 689l3 -3 4 -2 4 1 4 1 5 1 3 3 1 4M2310 686l-5 -1 -4 0 -4 -1 -5 0"/><path stroke-width="1.50" d="M2327 734l1 5 3 3 2 4M2319 737l-1 5 -4 1M2342 734l1 4 1 5 2 4 1 4 2 4M2346 737l4 0 4 1 5 -1 4 -2 4 0M2356 745l4 -2 4 2M2324 756l-2 4 -4 1M2321 759l-1 4 -4 3M2347 696l4 -1 3 -3M2344 687l-1 -4 0 -4M2354 687l1 -4 0 -4 1 -5M2353 679l-1 -5 -1 -4 -1 -4M2372 679l0 -5 -1 -4M2372 679l-1 -5 -2 -4 -2 -3M2374 675l4 -2 3 -3M2330 734l-4 -1 -5 -1 -4 -2M2327 738l-4 3 -2 3 -3 3M2321 744l-3 4 -1 4M2359 760l-3 4 -4 2 -4 -1M2366 766l4 -2 3 -3M2312 683l-1 -4 -3 -4 -2 -4 -3 -3 -4 -2M2316 683l3 -2 3 -4 3 -3 3 -3M2303 681l-5 1 -4 0 -4 1 -5 0M2333 685l0 -4 0 -5 -1 -4 -3 -3 -4 -1M2337 686l-1 -4 -2 -4 -3 -4 -4 -1M2346 694l3 4 -1 4 1 4M2301 685l-5 0 -4 0M2297 684l-5 0 -4 1 -4 0M2292 684l-3 3 -5 1"/><path stroke-width="1.00" d="M2323 736l-9 2M2356 745l-1 7M2346 747l-6 2M2359 737l2 4M2345 692l-4 -2M2354 683l5 -6M2372 679l-1 -5M2330 734l1 10M2355 759l5 2M2312 683l-10 2M2311 679l-7 -5M2319 681l-2 -6M2294 682l-3 3M2337 686l7 -1M2325 668l3 -4M2336 682l3 -7M2305 685l-4 4"/></g><circle cx="1167.0" cy="355.7" r="3.2" fill="#ff1010"/><g transform="scale(.5)" fill="none" stroke="#ff1010" stroke-linecap="round" stroke-linejoin="round"><path stroke-width="3.50" d="M2421 847l-3 3 0 4 0 4 -1 5 2 4 0 4 0 5 0 4 1 5M2421 847l-3 -4 -4 -2 -3 -2 -4 -2 -4 -3 -4 -2 -4 0 -4 -1M2421 847l2 -4 2 -4 3 -3 5 -1 4 -1 4 0 4 -3M2421 847l3 -3 1 -5 -1 -4 -1 -4 -3 -3 -3 -4 -3 -3 -4 -2M2421 847l4 -1 4 -2 5 1 4 1 5 -1 4 1 4 1 4 1 4 2M2421 847l-1 4 -1 4 -3 3 -4 2 -4 3 -3 2 -4 2 -5 1"/><path stroke-width="2.00" d="M2420 885l1 6M2418 858l1 9M2419 871l1 5 2 4 2 4 1 4 4 2M2419 867l-5 1 -3 3 -4 1 -5 1 -3 3 -2 4M2420 885l3 2 4 3 4 1 4 0M2403 834l-5 5M2414 841l-1 -5M2407 837l-5 0 -4 0 -3 3 -4 2 -5 1M2411 839l-2 -4 0 -4 0 -5 1 -4 2 -4M2391 831l-3 -3 -4 -3 -3 -3M2445 831l6 -3M2437 834l4 -2 3 -3 4 -2 4 -2 4 -1M2445 831l4 0 4 1 4 1 5 1M2424 835l-2 -4M2425 839l5 4M2420 828l1 -4 2 -4 3 -4 2 -4M2423 831l4 -2 4 -2 4 1 4 1M2410 819l-2 -4 -2 -4 -2 -4M2451 847l-2 8M2425 846l6 0M2438 846l4 -2 5 -1 3 -3 4 2M2443 845l3 3 4 0 5 2 4 1 4 2M2459 850l2 4 2 4 2 4M2408 863l2 5M2419 855l0 7M2412 860l-4 3 -3 3 -3 3 -3 3M2396 868l-3 2 -3 4 -2 4 -1 4"/><path stroke-width="1.50" d="M2424 884l-1 4 1 4M2422 880l1 4 3 4 0 4M2429 890l4 2 4 -1M2402 873l-4 0 -4 -1 -3 -4M2397 880l-1 4 0 4M2423 887l4 1 5 2M2435 891l4 -1 4 -2M2395 840l-4 -2 -4 1M2386 843l-4 -2 -4 -1M2409 826l3 -3 5 -1 4 -1M2412 818l1 -4 3 -4M2384 825l-4 0 -4 -2M2381 822l-4 -1 -4 -1M2448 827l4 0 5 -1M2456 824l3 -3 3 -3M2457 833l4 2 4 3M2462 834l4 0 4 0M2421 824l3 -4 3 -3M2428 812l2 -4 1 -4M2431 827l2 4 2 4M2431 827l3 3 4 1M2439 829l5 -2 3 -2M2408 815l2 -5 4 -2M2408 815l3 -4 4 -1M2404 807l1 -5 1 -4M2450 840l3 -3 4 -1M2454 842l4 3 4 2M2455 850l-1 4 1 5M2463 853l4 0 5 0 4 -1M2463 858l4 -1 4 -3M2465 862l2 4 3 3M2405 866l-1 4 0 4M2408 863l-1 4 0 5M2399 872l-3 3 -4 2M2388 878l-4 -1 -4 -1M2387 882l1 4 4 3"/><path stroke-width="1.00" d="M2429 890l5 8M2407 872l-6 -6M2423 887l-2 4M2398 837l0 5M2412 818l6 -5M2452 825l6 1M2449 831l5 8M2426 816l-6 -5M2439 829l8 6M2447 843l4 4M2446 848l10 -2M2399 872l-5 -4M2390 874l-6 -5"/></g><circle cx="1210.5" cy="423.3" r="3.2" fill="#ff1010"/><g transform="scale(.5)" fill="none" stroke="#ff1010" stroke-linecap="round" stroke-linejoin="round"><path stroke-width="3.50" d="M2133 720l5 0 4 -3 4 0 4 2 4 0 4 1 4 3 2 4 4 1M2133 720l-4 0 -4 -2 -4 1 -4 2 -4 3 -2 3 -2 4 -1 4 0 5M2133 720l5 -1 4 -1 4 1 3 3 2 4 0 5 0 4 1 5 4 2 4 1 4 2M2133 720l-4 1 -4 2 -4 1 -4 0 -4 -3 -2 -4 -3 -3 -2 -4 -3 -3"/><path stroke-width="2.00" d="M2164 727l3 -5M2142 717l0 6M2150 719l3 -3 3 -4 0 -4 3 -3 4 -3M2168 728l3 -2 3 -4 -1 -5 0 -4M2113 724l-2 5M2117 721l-3 -4M2113 724l-4 -3 -4 0 -4 -2 -4 -2 -3 -3M2108 740l-2 4 -3 2 -4 3 -2 4 -2 4M2151 731l5 -2M2142 718l4 -3M2151 731l1 4 3 3 3 3 4 2 4 2 4 2 4 3M2164 745l4 2 4 0 4 2 3 3 4 1 4 3M2111 717l-3 4M2129 721l-4 -6M2111 717l-5 1 -4 1 -4 -2 -4 -2 -4 -2 -2 -4M2113 721l-2 3 -3 4 -4 2 -2 4M2103 707l-4 -3 -3 -2 -4 -2 -5 0"/><path stroke-width="1.50" d="M2156 708l5 0 4 -2 4 0 5 1M2163 702l3 -2 4 -2M2173 717l4 -1 4 -2 3 -4M2174 722l4 1 3 2 4 2M2173 713l-3 -3 -4 -3M2101 719l-3 -3 -1 -5 -1 -4M2101 719l-5 0 -4 -1 -4 0M2094 714l-3 -4 -3 -3 1 -4M2099 749l-1 4 0 4M2095 757l-2 3 -3 4M2162 743l1 4 -1 4 0 5 -2 4 -2 4M2162 743l3 3 4 2 3 3 0 4M2174 750l1 4 2 4M2176 749l3 4 3 3M2187 756l3 3 3 3M2102 719l-4 -2 -5 0 -3 -3M2088 709l0 -4 -3 -3M2108 728l0 4 1 4M2102 734l-3 3 -3 4M2096 702l-2 -4 -2 -4M2096 702l-2 -5 -1 -4M2087 700l-4 0 -4 -1"/><path stroke-width="1.00" d="M2156 712l6 5M2161 708l1 5M2174 722l6 -5M2101 719l-7 4M2103 746l3 7M2162 743l5 -2M2160 760l-6 3M2172 751l-3 8M2176 749l8 -1M2088 709l-1 6M2108 728l2 4M2099 704l-4 2"/></g><circle cx="1066.7" cy="360.0" r="3.2" fill="#ff1010"/><g transform="scale(.5)" fill="none" stroke="#ff1010" stroke-linecap="round" stroke-linejoin="round"><path stroke-width="3.50" d="M2334 947l-4 -1 -5 1 -3 3M2334 947l4 -2 4 -2 4 -1 3 -4 3 -2 4 -2 4 -3M2334 947l4 1 4 -1 5 2 3 -3 5 0M2334 947l0 4 2 4 -1 5 -4 1 -5 0 -4 -2 -4 -2 -4 -1 -2 -4"/><path stroke-width="2.00" d="M2330 946l-5 1 -4 2M2330 946l-4 -2 -3 -3M2322 950l-3 2 -5 1M2342 943l4 0M2352 936l4 -3 4 -2 3 -3 4 -2M2360 931l4 0 4 -2 4 0M2350 946l3 6M2347 949l0 4 1 5 -1 4M2342 947l4 -2 4 -1 5 -1M2355 946l4 0 3 -3M2326 961l-8 3M2318 957l-7 6M2326 961l4 3 1 4 2 4 -1 4M2312 952l-1 -4 1 -5 0 -4 0 -4 -3 -4"/><path stroke-width="1.50" d="M2325 947l-2 -3 -2 -4M2321 949l-4 2 -4 0M2326 944l1 -4 2 -4M2326 944l-4 -1 -3 -4M2323 941l0 -4 -1 -5M2319 952l0 5 0 4M2314 953l-4 2 -4 2M2314 953l-2 4 -3 3M2363 928l5 1 4 1M2367 926l4 -2 4 0M2364 931l-3 -2 -4 -1M2372 929l5 1 4 1M2347 953l4 1 3 4M2347 953l-1 5 3 3M2347 962l-1 4 -1 5M2346 945l0 -4 1 -5M2355 943l4 -2 4 -1M2359 946l4 -1 4 -2M2359 946l4 1 5 1M2362 943l4 -2 4 -2M2331 968l3 4 2 3M2331 968l2 4 3 4M2332 976l-3 4 -3 3M2312 935l1 -5 2 -4M2309 931l-3 -2 -4 -3"/><path stroke-width="1.00" d="M2363 928l10 1M2330 964l-2 5M2312 943l-7 -6"/></g><circle cx="1167.0" cy="473.4" r="3.2" fill="#ff1010"/><g transform="scale(.5)" fill="none" stroke="#ff1010" stroke-linecap="round" stroke-linejoin="round"><path stroke-width="3.50" d="M2464 947l4 0 5 -1 3 -3 4 -1 4 -2 4 -2 4 -1 5 0M2464 947l2 3 2 5 2 3 3 4 1 4 1 4M2464 947l-3 3 -3 3 -2 4 -3 3 -3 4M2464 947l-3 -4 0 -4 2 -3 2 -5 1 -4 3 -3"/><path stroke-width="2.00" d="M2488 938l0 -4M2473 946l-2 -9M2484 940l4 -1 4 -3 3 -3 4 -2 5 0M2497 937l4 -2 4 -1 5 0M2466 950l8 0M2470 958l0 5 1 4 2 4M2468 955l2 4 4 1 4 2M2475 970l1 5 2 4M2453 960l-2 6M2458 953l-3 3 -4 2 -4 2M2458 953l-4 -2 -4 -2 -4 -1 -4 -2M2450 964l-3 3 -4 2 -3 3M2463 936l5 -7M2463 936l-3 -3 -4 -2 -1 -4 0 -5M2469 924l2 -4 4 -3"/><path stroke-width="1.50" d="M2492 936l4 -2 3 -3M2492 936l4 1 5 -1 4 -1 4 -2M2504 931l4 -1 4 1M2505 934l4 1 4 2M2510 934l4 1 4 1M2471 967l1 4 0 4M2473 971l-3 3 -4 2M2470 959l3 3 2 3M2470 959l3 3 3 3M2478 962l1 4 1 4M2476 975l3 3 4 2M2476 975l-2 3 -5 2M2478 979l0 4 2 4M2455 956l1 4 3 4M2447 960l0 4 0 4M2450 949l-4 2 -4 -1M2442 946l-3 -2 -3 -3M2443 969l1 5 -3 4M2443 969l-4 2 -4 1M2440 972l-4 3 -3 2M2456 931l-1 -4 -1 -5 -2 -4M2455 922l2 -4 1 -4M2471 920l2 -4 1 -4M2475 917l3 -3 4 1"/><path stroke-width="1.00" d="M2499 931l4 9M2505 935l3 8M2442 946l-1 6M2456 931l-5 4"/></g><circle cx="1232.0" cy="473.4" r="3.2" fill="#ff1010"/><g transform="scale(.5)" fill="none" stroke="#ff1010" stroke-linecap="round" stroke-linejoin="round"><path stroke-width="3.50" d="M2230 1050l3 3 3 3 4 3 4 1M2230 1050l-1 -4 -1 -5 0 -4 1 -4 3 -4 3 -3M2230 1050l3 -3 4 -1 5 -1 4 -1 3 3M2230 1050l4 -2 4 0 4 1 5 0"/><path stroke-width="2.00" d="M2236 1056l4 1M2240 1059l4 2 3 3M2240 1059l-2 4 -2 4 -2 4M2244 1060l4 2 2 3M2229 1033l-4 1M2228 1037l-3 3 -1 4 -2 4M2235 1026l1 -4 2 -4M2249 1047l9 1M2242 1045l4 -1 4 0 5 1M2249 1047l2 4 2 4M2234 1048l2 -4M2238 1048l4 -2 4 -1 5 0M2247 1049l4 0 4 -2"/><path stroke-width="1.50" d="M2244 1061l4 0 4 0M2247 1064l4 2 3 2M2236 1067l0 4 0 4M2234 1071l0 4 0 5M2248 1062l4 -2 4 -1M2250 1065l3 4 3 3M2225 1040l-3 -4 -1 -4M2222 1048l-2 4 -3 3M2236 1022l4 -2 4 0M2236 1022l-1 -5 -2 -3M2238 1018l4 1 4 2M2246 1044l3 -4 3 -2M2255 1045l0 4 2 4M2251 1051l5 0 4 -1M2253 1055l1 4 0 5M2246 1045l4 -2 3 -3M2251 1045l4 2 3 3M2251 1049l3 3 3 4M2255 1047l5 1 4 1"/></g><circle cx="1115.0" cy="525.0" r="3.2" fill="#ff1010"/><g transform="scale(.5)" fill="none" stroke="#ff1010" stroke-linecap="round" stroke-linejoin="round"><path stroke-width="3.50" d="M2150 1040l-4 -2 -4 -2 -4 0 -4 1M2150 1040l3 -3 4 -2 4 -2 4 1M2150 1040l3 3 3 3 4 2 4 3M2150 1040l-1 4 0 5 0 4 -2 4"/><path stroke-width="2.00" d="M2134 1037l3 -5M2142 1036l-1 -4 1 -5M2146 1038l1 -4 1 -4M2134 1037l-4 -2 -5 0M2153 1037l5 -3M2157 1035l2 -4 4 -2 4 -2M2165 1034l5 0 4 2M2160 1048l-1 4M2156 1046l-2 4 -1 4 -3 3M2156 1046l-1 4 -1 5M2164 1051l4 1 4 1M2149 1044l-8 5M2149 1049l-1 4 0 4M2147 1057l-1 4 2 4"/><path stroke-width="1.50" d="M2141 1032l2 -4 2 -4M2141 1032l-3 -3 -4 -1M2142 1027l0 -4 0 -5M2147 1034l-2 -4 -4 -3M2147 1034l-4 -2 -4 -1M2148 1030l0 -5 0 -4M2130 1035l-3 -3 -1 -5M2125 1035l-4 1 -4 2M2159 1031l4 -2 4 -2M2167 1027l4 -3 4 -1M2170 1034l2 -4 4 -2M2174 1036l4 -1 4 -1M2153 1054l-3 3 -3 4M2150 1057l-4 1 -4 1M2155 1050l-4 -1 -3 -3M2154 1055l-4 2 -4 2M2168 1052l1 5 1 4M2172 1053l4 -1 4 2M2148 1053l4 2 4 2M2148 1057l-3 4 -3 3M2146 1061l-4 3 -4 2M2146 1061l-5 0 -4 -1M2148 1065l1 4 2 5"/></g><circle cx="1075.0" cy="520.0" r="3.2" fill="#ff1010"/><g transform="scale(.5)" fill="none" stroke="#ff1010" stroke-linecap="round" stroke-linejoin="round"><path stroke-width="3.50" d="M2500 790l1 4 0 5M2500 790l-4 2 -2 4 0 4M2500 790l-4 -2 -3 -3M2500 790l3 -3 2 -4 4 -2"/><path stroke-width="2.00" d="M2501 799l-3 3 -3 3M2501 799l-1 4 -1 4M2496 792l1 5 1 4M2496 792l0 5 1 4M2494 800l-1 5 -2 3M2496 788l-4 0 -4 3M2493 785l-1 -4 -2 -4M2505 783l3 -3 1 -5M2509 781l4 -2 4 -2"/><path stroke-width="1.50" d="M2498 802l-2 3 -4 3M2495 805l-3 4 -4 1M2500 803l-5 0 -4 -1M2500 803l-3 4 -2 3M2499 807l-4 3 -3 2M2497 797l-2 4 -1 4M2498 801l3 3 3 4M2496 797l1 4 -1 4M2497 801l3 2 4 2M2497 801l0 5 1 4M2493 805l5 0 4 0M2491 808l-3 4 -2 4M2492 788l-3 4 -3 3M2488 791l-3 3 -1 4M2492 781l-4 -2 -5 1M2490 777l-3 -3 -1 -5M2508 780l1 -5 3 -3M2508 780l-1 -5 0 -4M2509 775l0 -4 -1 -4M2513 779l2 -4 1 -4M2517 777l1 -4 5 -2"/></g><circle cx="1250.0" cy="395.0" r="3.2" fill="#ff1010"/><path d="M1099.0,326.0 L1108.0,338.0 L1116.0,348.0 L1131.0,357.0" stroke="#ff1010" stroke-width="1.6" fill="none" stroke-linecap="round" stroke-linejoin="round" opacity="1.0"/></g>
<g clip-path="url(#dc2)"><g transform="scale(.5)" fill="none" stroke="#ff1010" stroke-linecap="round" stroke-linejoin="round"><path stroke-width="4.00" d="M2651 728l-4 2 0 5 -1 4 1 4 2 4 4 3 4 1 5 1M2651 728l-5 0 -4 0 -4 1 -5 1 -3 3 -4 0 -5 0M2651 728l3 -3 3 -3 2 -4 3 -3 5 0 4 -1 4 0 5 -1M2651 728l3 3 2 4 0 4 1 4 1 5 2 4 1 4 2 4M2651 728l-2 4 1 4 -1 5 -1 4 -2 4 -1 4 -1 4 1 5"/><path stroke-width="2.50" d="M2646 739l0 5 -1 4 -1 4 -1 5M2662 752l4 2 3 2 4 3 4 1M2633 730l-4 1 -4 0 -3 3M2621 733l-4 0 -4 1 -5 0M2667 715l4 1 4 0 3 -3 4 -1M2667 715l0 -5 1 -4 1 -4 2 -4M2680 713l4 -2 4 -1M2656 739l3 -3 1 -4 -2 -4 -1 -4M2663 760l-1 4 0 4 -1 5M2648 745l-1 4 -2 4 0 5 -3 3M2645 762l2 3 3 3 4 2"/><path stroke-width="2.00" d="M2647 743l-6 -6M2647 730l-3 7M2630 733l-5 1M2657 722l0 -5M2667 715l6 6M2658 748l3 9M2658 748l3 8M2649 741l6 3M2644 757l-4 2"/><path stroke-width="1.50" d="M2646 744l0 4 1 4M2643 757l-3 2 -4 3M2673 759l2 3 -1 5 -1 4M2677 760l3 3 3 3M2629 731l-3 3 -3 3M2622 734l-4 2 -5 1M2613 734l-3 -4 -3 -2M2608 734l-2 -4 -2 -4M2675 716l4 -2 4 -2M2682 712l5 1 4 -1M2668 706l-1 -4 -3 -4M2669 702l-2 -4 2 -4M2671 698l0 -5 0 -4M2684 711l3 2 3 3M2688 710l4 2 3 2M2660 732l3 -4 1 -4M2657 724l-3 -4 -2 -4M2662 764l-1 4 -2 4M2662 768l2 4 3 4M2661 773l0 4 -3 3M2645 753l-1 5 -1 4 0 4M2645 753l2 4 3 4 1 4M2642 761l-1 4 0 5M2647 765l5 1 3 3M2654 770l4 3 2 4"/><path stroke-width="1.00" d="M2643 757l6 4M2669 756l1 6M2678 713l0 5M2669 702l6 -5M2658 728l1 4M2647 749l8 4"/></g><circle cx="1325.3" cy="363.9" r="3.4" fill="#ff1010"/><g transform="scale(.5)" fill="none" stroke="#ff1010" stroke-linecap="round" stroke-linejoin="round"><path stroke-width="4.00" d="M2936 706l3 -3 1 -5 3 -3 3 -3 4 -1 4 -1 2 -4 2 -4 1 -5 0 -4M2936 706l-4 2 -4 1 -3 3 -3 3 -3 4 -4 2 -3 3 -4 2M2936 706l4 2 3 2 2 5 0 4 0 4 0 5 0 4 0 4 0 5M2936 706l-4 -1 -5 2 -4 1 -4 1 -4 2 -4 1 -4 -1 -5 -1"/><path stroke-width="2.50" d="M2954 690l1 -5 0 -4 -1 -4 -4 -2 -3 -3 -4 -3M2959 673l-3 -3 -2 -4 -1 -5 0 -4M2922 715l0 5 0 4 2 4 2 4 3 3 4 3M2908 726l-4 2 -1 5 -1 4M2945 728l3 3 4 2 4 2 4 2M2945 741l2 3 3 4M2923 708l-1 -5 0 -4 0 -4 0 -5 -1 -4M2902 710l-4 -1 -4 -2 -4 -1 -3 -3 -4 -2"/><path stroke-width="2.00" d="M2956 686l2 -8M2954 690l5 -7M2908 726l0 7M2912 724l0 6M2945 723l5 6M2945 719l4 -5M2919 709l-2 -6M2907 711l-1 6"/><path stroke-width="1.50" d="M2954 677l4 -1 4 1 4 1 5 0M2943 669l-2 -4 -2 -4M2954 666l1 -5 1 -4M2954 666l3 -4 3 -2M2953 657l-2 -4 -3 -3M2926 732l-4 2 -3 3 -3 3M2933 738l3 2 4 2 4 2M2903 733l-2 3 -2 4M2902 737l-3 3 -4 2M2952 733l5 0 4 1M2960 737l4 1 4 -2M2947 744l3 3 4 2M2950 748l3 3 1 4M2922 699l-3 -2 -4 -2 -3 -4M2922 695l-3 -4 -4 -1 -4 -2M2921 686l-3 -3 -5 -1M2894 707l-4 2 -4 1M2894 707l-4 2 -5 0M2883 701l-4 -2 -4 -3"/><path stroke-width="1.00" d="M2950 675l-2 -9M2958 676l5 2M2956 670l-6 -6M2933 738l-5 -2M2956 735l6 -2M2922 690l1 -6M2887 703l-4 3"/></g><circle cx="1468.0" cy="353.0" r="3.4" fill="#ff1010"/><g transform="scale(.5)" fill="none" stroke="#ff1010" stroke-linecap="round" stroke-linejoin="round"><path stroke-width="4.00" d="M2877 790l4 -2 5 1 4 1 4 2 4 2 4 2 4 2 2 3 2 4 3 4 4 2 3 3M2877 790l-4 1 -4 1 -5 1 -3 2 -3 4 -3 3 -3 2 -4 3 -4 2 -3 3 -2 4M2877 790l5 0 4 1 4 2 4 2 4 2 4 1 4 1 4 2 2 4 1 5M2877 790l-3 2 -5 2 -4 -1 -4 1 -5 -1 -4 1 -4 0 -5 1 -4 1 -4 2 -2 4 -3 4M2877 790l2 4 4 2 4 0 4 1 4 2"/><path stroke-width="2.50" d="M2906 798l2 3 2 4 2 4 2 4 3 3 4 1 5 1 3 2M2920 814l3 3 2 4 -1 4 -1 5M2861 795l-2 -4 -1 -4 1 -4 3 -3 3 -4 3 -4M2855 802l-3 -2 -4 -2 -5 -1 -4 1 -4 1M2839 816l-4 2 -4 0 -4 -2 -4 -1M2898 797l0 -5 0 -4 2 -4 4 -2 3 -3 4 -2M2913 810l2 3 3 4 3 3 3 3M2843 795l-2 4 -3 3 -2 4 -2 3 -2 4 -2 5M2830 806l2 4 1 4 0 4 1 5 1 4 2 4M2883 796l4 2 4 1M2895 799l4 2 3 3"/><path stroke-width="2.00" d="M2890 790l2 4M2906 798l5 -3M2873 791l-1 4M2873 791l-3 -3M2912 805l0 -7M2902 798l5 7M2833 802l-8 -6M2865 793l-6 -5M2883 796l5 3"/><path stroke-width="1.50" d="M2914 813l5 1 4 1 4 0 4 -2M2929 820l4 3 3 3 2 4M2925 821l0 5 -3 3M2923 817l4 -1 2 -4 3 -4M2923 830l2 4 3 3M2862 780l0 -5 2 -4 1 -4 -1 -4M2859 783l-1 -4 -4 -2 -5 -2 -4 -1M2868 772l-2 -4 -3 -3 -3 -3M2848 798l0 -4 -2 -4 -3 -4M2835 799l-5 -1 -4 -2M2831 818l-2 4 -3 3M2831 818l-3 2 -2 4 -4 3M2823 815l-4 -2 -4 -1M2900 784l0 -4 0 -5 1 -4 0 -5M2900 784l0 -4 1 -5 1 -4 1 -4M2911 777l3 -3 4 -3 1 -4M2921 820l-2 4 -2 4 -1 4M2924 823l4 1 4 2M2834 809l0 5 -2 4 -3 4 -2 3M2836 806l-3 3 -3 3 -2 4 -2 4M2830 818l-4 0 -4 1 -4 2M2834 823l3 3 4 2 4 1M2837 831l1 4 4 3 3 3M2887 798l2 4 -1 4M2891 799l4 -3 1 -4M2899 801l0 5 1 4M2899 801l2 4 0 5M2902 804l4 2 4 3"/><path stroke-width="1.00" d="M2921 817l-1 5M2921 817l8 -5M2919 814l4 -2M2923 830l1 8M2858 787l1 -5M2864 771l4 -4M2845 774l4 -5M2835 799l-5 4M2835 818l-4 0M2904 782l-4 -9M2900 775l-10 -2M2900 780l-6 0M2924 823l5 4M2836 806l-8 -4M2834 814l-5 1M2828 816l-5 6M2837 831l4 3"/></g><circle cx="1438.7" cy="395.0" r="3.4" fill="#ff1010"/><g transform="scale(.5)" fill="none" stroke="#ff1010" stroke-linecap="round" stroke-linejoin="round"><path stroke-width="4.00" d="M2603 856l1 -4 2 -4 5 -1 3 -2M2603 856l4 -2 3 -3 5 0 4 0M2603 856l-2 4 -2 4 1 4 3 3 3 3 4 2M2603 856l-3 3 -3 3 -3 3 -3 4 -2 3 -3 3M2603 856l-4 1 -4 2 -4 0 -5 1 -4 2"/><path stroke-width="2.50" d="M2606 848l4 -3 3 -2 4 -3M2611 847l3 -2 4 -3M2614 845l3 -4 3 -3M2607 854l2 -5 -1 -4M2619 851l4 0 4 2M2603 871l-3 4 0 4 0 4M2610 876l3 3 3 4 1 4M2594 865l-4 1 -4 2 -4 1M2591 869l-4 -1 -4 -1 -5 0 -4 2M2586 875l-5 1 -4 -1M2595 859l-4 3 -1 4M2582 862l-4 2 -4 1"/><path stroke-width="2.00" d="M2614 845l-7 -7M2615 851l-3 -4M2600 868l-5 5M2594 865l-5 -5M2595 859l-2 -9"/><path stroke-width="1.50" d="M2613 843l5 0 3 3M2610 845l4 -1 3 -3M2617 840l4 -1 5 0M2618 842l1 -4 0 -5M2614 845l5 0 4 1M2618 842l4 0 3 4M2617 841l3 -3 3 -3M2620 838l2 -4 1 -4M2609 849l-3 -3 -2 -4M2609 849l3 -2 4 -3M2608 845l0 -4 3 -4M2627 853l4 2 3 4M2627 853l2 4 2 4M2600 879l-4 1 -5 0M2600 883l-3 4 -3 3M2616 883l5 0 3 -2M2616 883l5 0 4 1M2617 887l-1 4 -1 5M2590 866l-4 1 -5 1M2590 866l-4 -3 -4 -1M2582 869l-4 2 -5 0M2578 867l-3 3 -3 3M2583 867l-2 -4 -2 -4M2574 869l-4 1 -4 -2M2581 876l-4 0 -4 3M2577 875l-3 -3 -1 -4M2591 862l1 4 1 4M2590 866l-2 4 -2 3M2578 864l-2 -4 -1 -4M2574 865l-4 1 -3 3"/><path stroke-width="1.00" d="M2578 867l-6 -5"/></g><circle cx="1301.6" cy="428.0" r="3.4" fill="#ff1010"/><g transform="scale(.5)" fill="none" stroke="#ff1010" stroke-linecap="round" stroke-linejoin="round"><path stroke-width="4.00" d="M2932 903l4 -2 2 -4 4 -2 3 -3 4 -2 2 -4 1 -4 1 -5 1 -4M2932 903l-4 1 -4 3 -2 4 0 4 -1 5 0 4 0 5 -2 4 -3 3 -2 4M2932 903l4 1 4 -2 5 1 3 2 2 4 1 4 0 5 2 4 2 3 2 4M2932 903l-4 0 -5 2 -3 3 -1 4 2 5 0 4 -1 4 -2 4 -3 4 -2 3"/><path stroke-width="2.50" d="M2945 892l-2 -4 1 -4 3 -3 4 -3 4 0 4 -1M2949 890l1 -4 3 -4 2 -4 2 -4M2954 873l4 -3 1 -4 -1 -4M2921 924l-5 1 -4 -1 -3 -3 -3 -4 -2 -3M2921 924l-4 3 -3 3 -2 3 -4 3 -2 4M2914 940l-2 3 1 5 0 4 -1 4M2950 909l0 -4 -1 -5 0 -4 0 -4 0 -5 0 -4 -1 -4M2957 929l0 5 0 4 0 5M2921 921l-3 -4 -3 -3 -3 -3 -3 -3 -2 -4M2913 936l-4 2 -4 2 -5 -1 -4 1 -4 0"/><path stroke-width="2.00" d="M2949 890l7 3M2949 890l-1 -7M2928 904l-3 -3M2914 940l-4 -2M2955 925l4 7M2940 902l5 2M2918 929l-6 -6M2915 933l-4 9"/><path stroke-width="1.50" d="M2951 878l-3 -4 -3 -2 -5 -2 -4 1M2959 877l5 1 4 -1M2955 878l-5 -1 -4 0 -4 -1M2955 878l-4 -2 -4 -1 -4 1M2957 874l2 -3 4 -3M2959 866l4 2 3 3M2958 870l4 -1 4 -1M2958 862l1 -4 2 -4M2909 921l-1 4 1 4 1 4M2904 914l-3 -3 -4 -2M2912 933l-4 3 -2 4 -4 2M2906 940l-3 3 -3 3M2913 952l0 5 2 3 2 4M2912 956l-3 4 -3 3M2949 887l3 -2 4 -2 2 -4M2949 896l-1 -4 -1 -5 -2 -4 -1 -4M2948 879l-3 -3 -4 -2 -5 -1M2957 934l-1 4 1 4M2957 938l3 3 5 1M2957 943l-2 4 -3 2M2915 914l-4 0 -4 -2M2915 914l-4 -1 -3 -3 -3 -3M2907 904l-2 -4 -1 -4M2900 939l-1 4 -2 4 -3 4 -2 3M2892 940l-5 0 -4 -2"/><path stroke-width="1.00" d="M2951 878l5 -3M2936 871l3 -6M2955 878l-7 -4M2904 914l-7 0M2914 930l-9 -1M2912 956l3 5M2949 887l4 -1M2947 887l-5 0M2907 904l-6 0M2909 938l-7 2M2897 947l5 5"/></g><circle cx="1466.0" cy="451.7" r="3.4" fill="#ff1010"/><g transform="scale(.5)" fill="none" stroke="#ff1010" stroke-linecap="round" stroke-linejoin="round"><path stroke-width="4.00" d="M2793 933l0 4 2 4 0 5 0 4 -3 4 -1 4 1 4M2793 933l-1 -4 -2 -5 -1 -4 0 -4 1 -4 -1 -5 1 -4 -2 -4M2793 933l0 4 -1 4 1 5 0 4 -4 3 -3 3 -4 2M2793 933l2 -5 3 -3 3 -3 3 -2 4 -3 1 -4 2 -4 1 -4"/><path stroke-width="2.50" d="M2792 954l4 2 4 2 4 -1 5 -1M2792 962l1 5 1 4M2789 920l1 -4 2 -4 3 -3 4 -3M2789 920l-3 -3 2 -5 -1 -4 -3 -3 -2 -4M2788 899l-2 -4 -2 -4 -2 -4 -2 -4M2793 950l-3 3 -5 2 -4 1 -4 0 -4 -1M2782 958l-1 4 -1 4M2808 917l-2 -4 -4 -1 -5 -2 -3 -3 -4 -2 -3 -2M2804 920l-1 -5 0 -4 0 -4 0 -5 2 -3M2812 905l3 -4 2 -4 4 -2 4 0"/><path stroke-width="2.00" d="M2795 941l4 3M2789 907l9 -3M2792 929l-5 -2M2782 958l-7 2M2804 920l-3 -3M2808 917l-9 -5"/><path stroke-width="1.50" d="M2800 958l5 0 4 -1 4 0M2809 956l3 -4 4 -1M2793 967l-5 1 -4 2M2794 971l3 3 3 3M2792 912l4 -3 4 -2M2799 906l4 1 4 -1M2788 912l3 -2 2 -4 -1 -5M2782 901l-3 -3 -4 -3M2782 887l-5 0 -4 0M2784 891l-4 -1 -4 -1M2780 883l-3 -3 -3 -3M2785 955l1 4 2 4M2785 955l-2 3 -2 4 -2 4M2773 955l-5 0 -4 0M2781 962l-3 3 -5 0M2780 966l-2 4 0 4M2797 910l-2 -3 -4 -2 -4 -2 -4 -2M2787 903l-3 -4 0 -4M2803 902l0 -4 1 -5 1 -4M2803 907l2 -4 0 -4 0 -5M2805 899l1 -5 1 -4M2817 897l-2 -4 -2 -3M2817 897l4 0 5 1 4 2M2825 895l5 -1 3 -3"/><path stroke-width="1.00" d="M2809 956l0 5M2790 916l7 3M2788 912l-5 1M2786 895l3 -8M2785 955l4 7M2797 910l-1 -8M2787 903l-5 -1M2803 907l-9 2M2821 895l1 -8"/></g><circle cx="1396.7" cy="466.3" r="3.4" fill="#ff1010"/><g transform="scale(.5)" fill="none" stroke="#ff1010" stroke-linecap="round" stroke-linejoin="round"><path stroke-width="4.00" d="M2695 1020l1 4 3 4 4 1 4 2 3 3 3 3 -1 5 0 4M2695 1020l-3 -3 -3 -4 -3 -3 -2 -4 -1 -4 -1 -5 2 -4 3 -3M2695 1020l-1 4 -2 4 -3 3 -3 4 -1 4 -2 4 0 5 -1 4M2695 1020l1 -4 1 -5 3 -2 3 -4 2 -4 2 -4 2 -4 2 -3"/><path stroke-width="2.50" d="M2703 1029l-1 5 -1 4 -2 4 -3 3 -3 3M2712 1046l0 4 1 5M2682 997l-1 -4 2 -3 3 -4 3 -3 2 -4M2687 990l3 -3 3 -3 3 -3 3 -3M2685 1039l3 3 4 2 3 3 1 5M2682 1052l-3 3 -1 4 0 5 -1 4M2703 1005l-4 -2 -4 -2 -4 -3 -4 -2 -4 -1M2711 990l1 -5 0 -4"/><path stroke-width="2.00" d="M2713 1037l8 1M2696 1024l-3 7M2692 1017l-10 1M2689 1013l-5 -2M2689 1031l5 8M2685 1039l-5 3M2703 1005l5 -5M2709 993l5 -5"/><path stroke-width="1.50" d="M2701 1038l4 1 3 2 5 1M2693 1048l-3 3 -4 2 -5 2M2712 1050l2 4 -2 4M2713 1055l3 3 4 3M2683 990l-4 -2 -4 -2M2686 986l2 -4 3 -2M2691 979l2 -4 2 -4M2693 984l2 4 4 2M2699 978l5 0 4 -1M2692 1044l3 -3 3 -3 4 -3M2696 1052l1 4 -1 4M2678 1059l-5 1 -4 2M2679 1055l-2 -3 -3 -4M2677 1068l0 4 0 5M2695 1001l-3 -4 -3 -3 -2 -4M2683 995l-4 -2 -3 -3M2712 985l3 -3 4 -1M2712 985l-1 -4 -3 -4M2712 981l0 -5 -2 -4"/><path stroke-width="1.00" d="M2702 1034l6 3M2683 990l6 -3M2699 978l3 3M2696 1052l-1 4M2678 1059l-1 6M2699 1003l-1 -5"/></g><circle cx="1347.3" cy="510.0" r="3.4" fill="#ff1010"/><g transform="scale(.5)" fill="none" stroke="#ff1010" stroke-linecap="round" stroke-linejoin="round"><path stroke-width="4.00" d="M2856 1075l-5 1 -4 1 -3 -3 -3 -4M2856 1075l1 -4 4 -1 4 -3M2856 1075l4 -2 4 -1M2856 1075l-1 5 -1 4"/><path stroke-width="2.50" d="M2844 1074l-4 1 -4 3M2841 1070l-1 -4 -2 -4M2861 1070l4 -3 4 -1M2865 1067l2 -4 2 -4M2860 1073l0 -4 0 -5M2864 1072l4 -1 4 -2M2854 1084l-3 3 -4 2M2855 1080l-5 -1 -4 0M2854 1084l4 3 2 3"/><path stroke-width="2.00" d="M2851 1076l2 6"/><path stroke-width="1.50" d="M2840 1075l-4 -2 -4 1M2836 1078l-4 1 -4 -1M2840 1066l-4 2 -4 1M2840 1066l0 -4 -1 -5M2838 1062l-3 -4 -4 0M2865 1067l1 -4 1 -5M2865 1067l0 -5 3 -3M2869 1066l4 -1 4 -2M2867 1063l0 -4 -1 -5M2867 1063l3 4 1 4M2869 1059l-1 -4 0 -5M2860 1069l4 -2 4 -1M2860 1069l1 -4 -1 -5M2860 1064l4 -2 4 -1M2872 1069l4 0 4 3M2872 1069l4 0 4 2M2851 1087l0 4 0 5M2847 1089l-3 2 -5 2M2850 1079l-4 0 -4 1M2846 1079l-4 1 -5 0M2858 1087l3 3 2 4M2860 1090l3 4 3 3"/></g><circle cx="1427.8" cy="537.6" r="3.4" fill="#ff1010"/><g transform="scale(.5)" fill="none" stroke="#ff1010" stroke-linecap="round" stroke-linejoin="round"><path stroke-width="4.00" d="M2760 800l1 -4 2 -4M2760 800l4 0 5 1M2760 800l4 3 3 2M2760 800l-4 -2 -4 -1"/><path stroke-width="2.50" d="M2761 796l1 -4 -2 -4M2763 792l3 -3 5 0M2764 800l4 2 3 3M2769 801l3 3 2 4M2764 803l4 0 4 -2M2767 805l4 1 4 2M2756 798l-4 1 -4 1M2756 798l-3 3 -4 2M2752 797l-3 -3 -2 -4"/><path stroke-width="1.50" d="M2762 792l2 -5 3 -2M2760 788l-1 -4 -1 -5M2766 789l4 2 4 3M2771 789l3 2 1 4M2768 802l5 0 4 0M2768 802l5 0 4 1M2771 805l4 3 3 2M2774 808l3 3 5 1M2772 804l2 4 2 4M2774 808l4 2 2 4M2768 803l2 3 2 4M2772 801l4 -1 4 2M2771 806l4 -3 3 -3M2771 806l4 -3 4 -2M2775 808l4 -1 5 0M2752 799l-4 1 -4 -3M2752 799l0 4 0 4M2748 800l-5 -1 -4 0M2753 801l-1 4 1 5M2749 803l-4 1 -4 0M2749 803l-4 2 -4 2M2749 794l-4 -1 -4 -2M2747 790l0 -4 1 -5"/></g><circle cx="1380.0" cy="400.0" r="3.4" fill="#ff1010"/><g transform="scale(.5)" fill="none" stroke="#ff1010" stroke-linecap="round" stroke-linejoin="round"><path stroke-width="4.00" d="M2980 760l-4 -1 -5 -1M2980 760l-4 1 -5 0M2980 760l4 0 4 2 4 2M2980 760l2 4 2 4"/><path stroke-width="2.50" d="M2976 759l-4 0 -5 1M2971 758l-3 3 -3 3M2976 761l-5 0 -4 -2M2971 761l-3 3 -5 0M2988 762l1 -4 0 -5M2984 760l5 -1 4 0M2992 764l4 2 4 3M2982 764l1 4 0 4M2982 764l4 -3 2 -4M2984 768l0 4 1 4"/><path stroke-width="1.50" d="M2972 759l-4 -2 -4 -3M2967 760l-4 2 -4 2M2968 761l-1 4 0 5M2965 764l-5 1 -3 4M2971 761l0 -5 3 -3M2967 759l-4 -1 -4 0M2968 764l-2 -4 1 -5M2968 764l-4 -2 -5 0M2963 764l-3 3 -5 1M2989 758l2 -4 2 -4M2989 753l-2 -4 -1 -4M2993 759l4 1 5 -1M2989 759l4 -1 4 0M2993 759l4 0 5 -2M2996 766l2 4 4 2M3000 769l3 3 1 4M2983 768l4 2 4 3M2983 772l-3 4 -1 4M2986 761l3 3 4 3M2988 757l2 -4 1 -4M2984 772l-1 4 -1 5M2985 776l0 5 1 4"/></g><circle cx="1490.0" cy="380.0" r="3.4" fill="#ff1010"/></g>
<g clip-path="url(#dc3)"><g transform="scale(.5)" fill="none" stroke="#ff1010" stroke-linecap="round" stroke-linejoin="round"><path stroke-width="4.00" d="M3301 709l0 -4 1 -4 -2 -4 -3 -4 -3 -3 -2 -3 -3 -4 -4 -2 -3 -3M3301 709l4 1 4 -1 4 -3 4 -1 5 0 4 -1 3 -3M3301 709l3 3 1 5 0 4 -2 4 3 4 4 3 2 3M3301 709l1 5 1 4 3 3 3 4 3 3 4 1 3 3 2 4 2 4M3301 709l-4 2 -4 3 -4 1 -4 1 -5 1 -3 3M3301 709l-3 -3 -1 -4 2 -4 -1 -4 1 -5 -1 -4M3301 709l1 -4 1 -4 3 -4 4 0 4 -3 3 -2 4 -3 4 -2 3 -3"/><path stroke-width="2.50" d="M3297 693l4 2 4 2 5 1 4 2 4 -1M3282 678l1 -5 -1 -4 -1 -4 -3 -3M3317 705l5 1 4 1 4 1 4 1M3329 701l4 -2 3 -3 3 -4M3305 721l3 -2 3 -4 4 -1M3303 725l4 -2 3 -3 3 -4 2 -4 0 -4M3312 735l3 4 -1 4 -2 4M3316 729l2 4 4 3 4 1 4 2M3323 740l4 3 4 1 4 0 4 1M3293 714l-2 3 -3 4 -2 4M3277 720l-2 4 -1 4 -3 3M3297 702l-4 -2 -4 -1 -4 -2M3298 685l1 -5 2 -3M3310 697l1 -5 0 -4 0 -4 0 -5M3328 684l4 0 5 0"/><path stroke-width="2.00" d="M3285 681l-4 -7M3301 705l-3 -9M3326 704l1 -4M3305 717l7 -1M3306 721l-5 5M3303 718l9 2M3285 716l-5 -4M3297 702l-6 8M3314 694l-8 -4M3310 697l4 -9"/><path stroke-width="1.50" d="M3310 698l4 1 4 2 3 3M3318 699l4 0 4 1M3282 669l-3 3 -4 2M3282 669l-3 -3 -3 -3M3278 662l-1 -5 -2 -4M3322 706l4 0 4 -2M3334 709l4 2 4 2M3333 699l5 0 3 2M3339 692l4 0 3 -3M3311 715l1 4 2 4M3311 715l4 2 4 1M3315 714l4 2 4 0M3310 720l-1 4 2 4 0 4M3315 708l2 -4 2 -4M3314 743l4 2 3 4M3312 747l-2 4 0 4M3322 736l-3 3 -3 4M3322 736l0 4 2 4M3330 739l3 3 4 2M3335 744l3 3 4 2 4 1M3339 745l5 1 4 0M3288 721l1 4 0 5M3286 725l-2 4 -1 4M3275 724l-5 1 -4 1M3271 731l-2 4 -3 3M3289 699l-2 -4 -3 -2M3285 697l-2 -4 -1 -4M3299 680l-1 -4 -1 -4M3299 680l1 -4 0 -4M3301 677l1 -4 4 -3M3311 688l-1 -4 0 -5 0 -4M3311 688l0 -4 1 -5M3311 679l-2 -4 -2 -3M3332 684l5 -1 4 -1M3337 684l4 -2 3 -3"/><path stroke-width="1.00" d="M3318 699l0 8M3282 669l-7 0M3326 707l5 -1M3307 723l3 8M3322 736l-2 4M3331 744l5 1M3311 688l5 -1"/></g><circle cx="1650.4" cy="354.7" r="3.8" fill="#ff1010"/><g transform="scale(.5)" fill="none" stroke="#ff1010" stroke-linecap="round" stroke-linejoin="round"><path stroke-width="4.00" d="M3155 735l-2 4 -2 4 -4 3 -3 2 -4 2 -2 4M3155 735l-2 -4 -1 -4 -1 -5 -2 -4 -1 -4 -3 -3M3155 735l-2 4 -2 4 0 5 0 4 0 4"/><path stroke-width="2.50" d="M3144 748l-1 5 2 4 0 4 3 4M3138 754l-2 4 0 5M3149 718l-3 -2 -1 -5 -1 -4 -3 -3M3145 711l0 -4 2 -4 3 -3M3151 748l2 3 1 4 2 4M3151 743l-3 3 -3 3 -2 4M3151 756l2 5 2 3"/><path stroke-width="2.00" d="M3144 748l6 8M3149 718l5 -4M3151 756l5 2"/><path stroke-width="1.50" d="M3145 757l-1 4 0 4 2 4M3145 757l4 2 4 0 4 2M3148 765l4 1 4 1M3136 758l-3 3 1 5M3136 758l-4 2 -2 4M3136 763l-1 4 -1 4M3146 716l-5 -1 -4 0M3145 711l2 -4 2 -3 3 -4M3141 704l1 -5 1 -4M3145 707l0 -5 -2 -4M3150 700l4 -1 5 -1M3153 751l1 5 -1 4M3156 759l-3 3 -4 -1M3145 749l-1 5 -4 2M3143 753l-3 4 -3 3M3153 761l3 2 3 3M3155 764l4 2 4 2"/><path stroke-width="1.00" d="M3143 753l-6 6M3141 704l-6 1"/></g><circle cx="1577.3" cy="367.5" r="3.8" fill="#ff1010"/><g transform="scale(.5)" fill="none" stroke="#ff1010" stroke-linecap="round" stroke-linejoin="round"><path stroke-width="4.00" d="M3400 827l1 -5 2 -4 1 -4 3 -3 4 -2 4 -2 4 0M3400 827l0 -5 1 -4 0 -4 -1 -5 -1 -4 -1 -4M3400 827l4 -2 1 -5 2 -4 1 -4 -2 -4M3400 827l4 -1 4 0 5 -1 4 2 4 1 4 -2M3400 827l-3 3 -3 3 -4 2 -4 0 -4 -2 -3 -3 -4 -2M3400 827l-3 3 -3 3 -4 3 -3 3 -2 4 -3 3 -2 4 -2 4M3400 827l-4 2 -5 1 -3 2 -3 4 -2 4M3400 827l-4 -3 -2 -4 -1 -4 -2 -4 -2 -4 0 -5 1 -4"/><path stroke-width="2.50" d="M3404 814l-4 -1 -4 -2 -2 -4M3419 807l4 -2 3 -3 2 -4 4 -3M3401 818l5 0 4 0 5 0M3398 801l2 -4 1 -4M3408 812l4 -2 4 1M3406 808l1 -4 2 -4M3408 826l4 2 5 -1 4 -2M3425 826l4 -2 4 -2M3386 835l-4 -1 -5 -1 -4 -2M3390 835l-3 3 -4 2 -4 3 -4 2 -3 2M3375 828l-4 -2 -3 -3 -4 -2 -4 -1M3382 846l-4 0 -4 -3 -3 -3 -3 -3M3378 854l-2 4 1 4 1 4 1 4M3391 830l-4 -2 -4 -1 -2 -4M3383 840l1 4 1 4M3391 812l-5 1 -4 0 -4 -1 -4 -1M3390 799l4 -2 2 -4"/><path stroke-width="2.00" d="M3401 822l-4 -4M3398 801l7 5M3408 812l2 3M3413 825l-2 10M3397 830l-8 4M3390 836l2 5M3387 839l-4 0M3385 836l-7 -2M3390 799l-2 -9"/><path stroke-width="1.50" d="M3396 811l-4 -2 -4 -1M3394 807l1 -4 1 -4M3428 798l2 4 1 4M3432 795l3 -3 2 -4M3406 818l3 -2 3 -3M3415 818l4 1 4 -2M3400 797l-4 -1 -3 -4M3400 797l1 -4 -1 -5M3401 793l2 -4 2 -4M3412 810l1 -4 2 -4M3412 810l3 -2 4 -3M3416 811l3 4 0 4M3407 804l1 -4 2 -4M3409 800l5 -1 4 0M3412 828l4 2 5 0M3421 825l4 -1 4 1M3429 824l4 2 5 1M3433 822l4 -1 4 -3M3382 834l-4 -2 -5 1M3382 834l1 4 1 4M3373 831l-3 -3 -3 -2M3383 840l0 4 3 4 3 3M3372 847l-2 4 -2 4M3368 823l-1 -4 -1 -4M3360 820l-5 0 -4 0M3374 843l-4 0 -5 -1M3374 843l-4 -1 -4 -2M3368 837l-4 -1 -5 0M3376 858l3 3 3 3M3379 870l-1 5 -4 2M3387 828l-3 3 -5 1M3381 823l-2 -4 -2 -4M3384 844l1 4 1 4M3385 848l-1 5 -1 4M3382 813l-4 0 -5 2M3374 811l-4 -3 -4 -1M3394 797l-2 -4 1 -4M3394 797l2 -4 3 -3M3396 793l3 -3 3 -3"/><path stroke-width="1.00" d="M3432 795l3 6M3387 838l-1 5M3368 823l-2 -9M3368 837l-2 7M3378 866l-7 3M3382 813l2 7"/></g><circle cx="1699.8" cy="413.3" r="3.8" fill="#ff1010"/><g transform="scale(.5)" fill="none" stroke="#ff1010" stroke-linecap="round" stroke-linejoin="round"><path stroke-width="4.00" d="M3085 878l2 4 1 4 0 4 2 4M3085 878l-2 4 -1 4 -1 4 0 5 -1 4 -3 3 -2 4 -1 4 1 5 1 4 -2 4 -1 4M3085 878l-4 1 -5 0 -4 -1 -4 0 -5 0 -4 -1 -4 0 -5 -1 -4 -1 -4 -2 -4 0M3085 878l-4 0 -5 0 -3 2 -4 2 -5 -1 -3 -2M3085 878l0 -5 1 -4 -2 -4 -2 -4 -2 -3 -1 -5M3085 878l-1 -5 2 -4 1 -4 1 -4 2 -4 -1 -4 0 -5M3085 878l3 -4 2 -4 1 -4 0 -4 0 -5 1 -4 0 -4 3 -4M3085 878l4 1 4 2 3 3 3 4 2 3 1 5 -3 3 -3 3"/><path stroke-width="2.50" d="M3088 886l0 4 1 5M3090 894l1 5 0 4M3075 906l0 5 -1 4 -4 2 -4 1 -5 0 -4 1 -4 1M3073 927l1 5 3 2 2 4M3059 877l-3 3 -4 1 -5 1 -4 2 -4 0 -4 2M3038 873l-5 -1 -4 0 -4 0 -5 1 -4 -1M3076 878l-2 -4 -4 -2 -4 -1 -4 -2M3073 880l-1 -4 0 -5 -2 -4 -1 -4M3061 879l-5 1 -4 1 -4 2M3086 869l-4 -2 -3 -3 -3 -4 -4 -2M3079 853l-1 -4 -4 -2 -3 -4M3090 857l4 -2 3 -2 5 -2M3087 865l-3 -4 -1 -4 1 -4 -1 -5M3089 848l0 -4 0 -5 0 -4M3091 866l4 0 4 0 4 2 4 1 5 0M3095 845l4 -1 2 -4 4 -3 1 -4M3101 891l4 3 3 2 4 2M3096 902l-4 2 -4 1"/><path stroke-width="2.00" d="M3090 894l5 1M3083 882l3 8M3082 886l4 7M3076 879l-4 5M3063 878l-5 5M3076 878l-6 5M3079 853l4 -2M3088 861l-5 -2M3091 857l-4 -7M3091 866l4 2M3089 879l9 -3M3096 902l0 7"/><path stroke-width="1.50" d="M3088 890l-1 4 -2 4M3088 890l-3 3 -5 1M3089 895l4 2 4 2M3091 899l-1 4 -4 2M3091 903l4 3 3 3M3074 915l-2 4 -1 4 -1 4 -3 4M3053 920l-4 2 -4 2M3074 932l-2 4 -2 3M3079 938l0 5 -2 4M3043 884l-4 -1 -5 0 -4 0 -4 0M3035 886l-4 1 -5 1M3029 872l-4 -2 -2 -4 -4 -3M3016 872l-4 1 -3 4M3070 872l2 -4 3 -3M3062 869l-4 -1 -4 1M3072 871l2 -4 4 -1M3072 871l-4 3 -3 3M3069 863l1 -4 1 -5M3052 881l-4 0 -5 0M3056 880l-4 1 -1 4M3048 883l-4 0 -4 0M3082 867l-2 -4 -4 -3M3072 858l-4 0 -4 2M3078 849l-4 0 -5 -1M3071 843l-2 -3 -4 -2M3097 853l5 -2 3 -3M3102 851l3 -2 5 -1M3084 853l0 -5 1 -4M3084 861l-4 -1 -4 -2 -4 -2M3083 848l0 -4 0 -4M3089 839l4 -2 3 -3M3089 835l1 -4 0 -5M3099 866l4 -3 3 -3M3107 869l3 4 4 2 2 4M3112 869l4 3 2 3M3101 840l-1 -4 2 -4 1 -4M3106 833l0 -4 3 -4M3108 896l3 3 3 4M3112 898l4 2 3 3M3092 904l-4 -3 -4 -1M3088 905l-2 -4 -3 -4"/><path stroke-width="1.00" d="M3061 918l7 6M3070 927l-1 5M3039 884l-9 -4M3026 883l-1 5M3020 873l-6 -4M3066 871l-10 -2M3069 863l5 -6M3079 864l4 -7M3084 853l-3 -8M3107 869l7 -7M3106 833l8 1"/></g><circle cx="1542.5" cy="438.9" r="3.8" fill="#ff1010"/><g transform="scale(.5)" fill="none" stroke="#ff1010" stroke-linecap="round" stroke-linejoin="round"><path stroke-width="4.00" d="M3316 951l-3 -4 -4 0 -4 2 -3 3 -2 4 -2 4 -4 3 -3 3M3316 951l1 -4 2 -4 1 -5 -1 -4 0 -4 1 -4 2 -4 -1 -5M3316 951l3 -2 4 -3 3 -3 4 -3 4 -1 4 -2 4 -1 4 -1 4 0 4 3M3316 951l4 0 4 -1 4 2 3 3 4 2 3 3 3 3 5 0 4 1M3316 951l-1 4 1 5 1 4 3 3 2 4 2 4 2 4M3316 951l-5 1 -3 3 -4 2 -1 5 -2 4 0 4 -2 4M3316 951l-4 2 -4 2 -4 3 -1 4 -2 4 -3 3 -3 3"/><path stroke-width="2.50" d="M3300 956l-4 1 -4 -3 -3 -3 -4 -2 -4 -1M3291 966l-1 4 -3 4 -2 3 -1 5M3319 934l-1 -4 3 -3 3 -4 2 -4 3 -3M3321 917l-2 -3 -1 -5 1 -4 4 -3M3342 936l4 1 5 0 3 3 4 2 4 -1M3354 938l3 3 5 0 4 1 4 0M3338 960l3 3 4 3 2 4 4 2M3350 964l4 -2 5 -1 4 -1M3320 967l2 4 1 4 2 4 3 3M3320 967l4 2 3 2 2 4 4 3M3326 979l1 4 3 3M3304 957l-3 -2 -1 -5 -2 -4M3299 974l-2 4 0 4 -2 5 -4 2M3303 962l-3 4 -3 3 -2 3M3295 972l-5 2 -3 2 -1 4"/><path stroke-width="2.00" d="M3313 947l-7 1M3298 960l-6 3M3320 926l-6 -3M3320 938l-5 0M3319 949l9 5M3323 946l2 -4M3350 964l6 -5M3331 955l2 6M3322 971l5 1M3308 955l3 8M3303 962l-5 -4"/><path stroke-width="1.50" d="M3292 954l-3 2 -3 4 -1 4M3292 954l-3 3 -4 1 -4 1M3281 948l-4 0 -5 1M3287 974l0 4 1 4 2 4M3287 974l-4 -2 -4 -1M3284 982l-2 4 -1 4M3324 923l3 -3 4 -2 4 -2M3321 927l1 -5 0 -4 1 -5M3329 916l4 -2 4 -2M3319 905l2 -4 -1 -5M3318 909l-3 -3 -3 -3M3323 902l4 -2 4 -1M3351 937l3 3 3 3 1 4 2 4M3362 941l4 0 4 -2 5 0M3366 942l4 -3 3 -3M3357 941l5 0 4 0 4 1M3370 942l4 2 5 0M3347 970l2 3 3 4 3 3M3351 972l2 3 4 3M3359 961l3 3 4 1M3363 960l3 -4 1 -4M3323 975l-4 0 -4 2M3328 982l4 3 3 3M3329 975l1 5 -2 4M3327 971l2 4 1 5M3333 978l4 0 5 -1M3327 983l3 3 2 4M3330 986l4 3 4 1M3301 955l-2 -4 -3 -3M3300 950l-1 -4 2 -4M3298 946l-1 -4 -2 -4M3297 982l-5 0 -4 1M3297 982l3 3 5 1M3291 989l-1 4 -1 4M3297 969l1 4 1 4M3295 972l-2 4 -2 4M3287 976l-4 -1 -4 -3M3287 976l-4 0 -5 1M3286 980l2 4 3 4"/><path stroke-width="1.00" d="M3285 949l-2 -6M3290 970l-6 0M3329 916l-4 -6M3318 909l6 1M3362 941l5 4M3354 940l-1 8M3366 942l6 -8M3347 970l-1 4M3323 975l-6 -2M3333 978l5 -4M3297 982l2 4"/></g><circle cx="1657.8" cy="475.4" r="3.8" fill="#ff1010"/><g transform="scale(.5)" fill="none" stroke="#ff1010" stroke-linecap="round" stroke-linejoin="round"><path stroke-width="4.00" d="M3081 1031l-2 4 -2 4 -1 4 -3 3 -4 3 -3 3 -4 2M3081 1031l-2 4 0 4 2 4 4 3 3 3 3 3 4 2M3081 1031l-4 2 -3 3 -4 1 -4 1 -5 1 -3 3M3081 1031l0 -4 -3 -3 -4 -2 -4 -1 -4 -2 -4 -3 -3 -3 -1 -4 -1 -4M3081 1031l-1 -4 -2 -3 -2 -4 -3 -3 -2 -5 -3 -2 -3 -3 -3 -4 -3 -3M3081 1031l3 -3 1 -4 3 -4 2 -4 2 -4 1 -4 1 -4M3081 1031l4 -3 4 -1 4 0 5 1 3 2 5 1M3081 1031l3 4 3 3 1 5 -1 4 -1 4 -2 4 -4 2 -4 1"/><path stroke-width="2.50" d="M3073 1046l-4 3 -4 1 -4 2 -4 0M3062 1054l-4 1 -4 2M3088 1049l-3 3 -4 3 -3 3 -1 4 -2 4M3081 1043l-4 0 -5 0 -3 -2 -4 -3M3095 1054l3 2 2 4 0 5M3074 1036l-4 -3 -4 -1 -4 -1M3058 1042l-5 0 -4 -2M3066 1019l-1 -5 1 -4 2 -4 1 -4 2 -4 2 -4M3057 1005l-2 -4 0 -5 -2 -4M3068 1010l-2 -4 -2 -4 0 -5 2 -4 3 -3 3 -2M3059 1000l-4 -2 -4 -1M3085 1024l3 3 2 4 -1 4M3088 1020l1 -4 1 -4 2 -5 0 -4M3094 1004l2 -4 1 -4 4 -2 4 -2M3093 1027l4 1 5 0 4 0M3093 1027l3 -4 3 -3 4 -2 4 -2M3106 1031l4 0 4 1M3088 1043l3 2 4 3 3 2 1 5 1 4M3076 1058l-4 1 -4 3"/><path stroke-width="2.00" d="M3077 1039l-6 3M3081 1043l-6 -2M3074 1036l-7 5M3066 1019l-4 -1M3081 1027l-8 -2M3071 1012l2 -4M3068 1010l-5 -1M3090 1016l0 -9M3106 1031l4 5M3087 1047l-2 9M3084 1055l9 4"/><path stroke-width="1.50" d="M3069 1049l-4 0 -4 -2M3057 1052l-4 3 -5 0M3058 1055l-3 -3 -3 -4M3054 1057l-4 2 -4 -2M3077 1062l-2 4 -3 3M3078 1058l-4 -2 -4 -2M3075 1066l-4 2 -3 4M3069 1041l-5 1 -4 2M3065 1038l-2 -4 0 -5M3100 1060l3 3 0 5M3100 1065l-3 3 -4 2M3066 1032l-4 2 -4 1M3070 1033l-1 -4 -1 -4M3062 1031l-4 -3 -4 2M3053 1042l-2 -4 -5 -1M3049 1040l-4 -1 -4 -1M3068 1006l-2 -4 -2 -4 -2 -4M3073 994l-1 -4 0 -5M3055 1001l-4 -1 -5 0M3053 992l-1 -4 -2 -4M3066 993l-5 0 -4 0 -3 3M3066 993l3 -2 4 -3 4 -2M3072 988l1 -5 1 -4M3055 998l0 -4 0 -5M3055 998l-2 -4 -1 -4M3051 997l-2 -4 -1 -4M3088 1027l3 3 2 4M3089 1035l-1 5 1 4M3090 1012l3 -4 1 -4M3090 1012l5 -2 4 -1M3092 1003l-2 -4 -1 -4M3101 994l2 -4 3 -3M3097 996l-2 -4 -1 -4 -1 -5M3105 992l4 -2 5 -1M3102 1028l4 0 2 -4M3106 1028l4 1 4 2M3099 1020l0 -4 2 -4M3107 1016l2 -4 4 -3M3110 1031l4 0 4 2M3110 1031l0 4 2 4M3114 1032l1 4 3 4M3095 1048l4 0 4 -1M3100 1059l2 4 3 3M3072 1059l-3 4 -2 4M3072 1059l-5 -1 -4 -1M3068 1062l0 4 0 4"/><path stroke-width="1.00" d="M3065 1050l3 6M3075 1066l1 9M3069 1041l-4 5M3068 1006l4 -5M3064 997l-7 2M3092 1007l-7 -3M3105 992l-6 -5M3103 1018l7 3M3099 1055l6 7"/></g><circle cx="1540.7" cy="515.7" r="3.8" fill="#ff1010"/><g transform="scale(.5)" fill="none" stroke="#ff1010" stroke-linecap="round" stroke-linejoin="round"><path stroke-width="4.00" d="M3429 1006l-4 2 -4 2 -4 2 -4 1 -4 0M3429 1006l-4 -3 -3 -2 -4 -3 -3 -2 -3 -3 -2 -4M3429 1006l3 -3 4 -3 3 -2 4 -2 4 -3 4 -2M3429 1006l3 -3 0 -5 -1 -4 0 -4 2 -4 1 -4M3429 1006l4 -2 3 -3 5 1 3 2 4 3 2 3M3429 1006l0 4 -2 5 -3 2 -2 4 -2 4 -4 3"/><path stroke-width="2.50" d="M3421 1010l1 5 3 3M3409 1013l-4 -2 -4 0M3415 996l-5 0 -3 -3 -4 -2M3410 989l-3 -3 -5 -2M3439 998l5 0 3 3 4 1 5 0M3451 991l2 -3 2 -4 2 -4M3431 994l4 -2 4 -2 4 -1M3432 998l4 2 5 0 4 -2 3 -3M3434 982l-2 -4 -1 -5 0 -4M3444 1004l5 0 4 -1 4 -2 3 -3M3441 1002l0 4 1 4 2 4 2 4M3450 1010l2 4 0 5M3424 1017l4 2 4 2 3 3 4 3M3416 1028l-3 2 -3 -3"/><path stroke-width="2.00" d="M3425 1008l1 4M3418 998l-5 6M3439 998l10 0M3431 990l7 -2M3448 1007l3 -3M3424 1017l5 3"/><path stroke-width="1.50" d="M3422 1015l3 3 3 3M3425 1018l2 4 4 2M3405 1011l-4 1 -5 -1M3401 1011l-4 -2 -3 -4M3407 993l-2 4 -3 3M3407 993l-5 0 -4 -2M3403 991l-3 -3 -4 -2M3407 986l0 -4 -1 -5M3402 984l-4 -2 -3 -2M3451 1002l2 -4 1 -4 2 -4M3456 1002l4 -1 3 -4M3455 984l5 -1 4 1M3457 980l-1 -4 0 -5M3439 990l0 -4 0 -4M3435 992l1 -4 1 -5M3443 989l5 0 4 1M3441 1000l-1 -4 0 -5 0 -4M3448 995l3 -3 2 -4M3431 973l-4 -2 -4 0M3431 973l3 -3 3 -3M3431 969l1 -4 -2 -5M3457 1001l1 -4 1 -5 1 -4M3457 1001l4 -1 5 1M3460 998l4 -2 4 -2M3441 1006l5 -1 4 -1M3446 1018l4 1 4 1M3452 1014l4 1 5 1M3452 1019l-3 3 -2 4M3435 1024l-2 4 -4 2M3439 1027l1 4 2 4M3413 1030l-4 3 -4 1M3410 1027l-4 -2 -5 -1"/><path stroke-width="1.00" d="M3444 998l1 6M3436 1000l2 4M3449 1004l7 4M3441 1006l-3 6M3435 1024l6 -1"/></g><circle cx="1714.5" cy="503.0" r="3.8" fill="#ff1010"/><g transform="scale(.5)" fill="none" stroke="#ff1010" stroke-linecap="round" stroke-linejoin="round"><path stroke-width="4.00" d="M3158 834l-2 -4 -3 -3M3158 834l1 4 3 4M3158 834l-4 1 -4 2"/><path stroke-width="2.50" d="M3153 827l-4 -1 -4 0M3156 830l-2 -4 -1 -4M3153 827l-4 -1 -2 -4M3159 838l2 4 3 4M3162 842l4 0 5 0M3154 835l-3 -3 -4 -2M3154 835l-4 1 -4 -2M3150 837l-4 0 -5 1"/><path stroke-width="1.50" d="M3149 826l1 -5 3 -3M3149 826l0 -5 0 -4M3145 826l-4 2 -2 4M3154 826l1 -4 0 -4M3153 822l-3 -4 -3 -3M3149 826l1 -4 3 -4M3149 826l-1 -4 -1 -5M3147 822l-3 -3 -2 -4M3161 842l4 2 5 0M3164 846l4 1 3 4M3166 842l4 3 3 3M3166 842l3 3 4 3M3171 842l4 1 4 -1M3151 832l-4 -1 -4 -2M3147 830l-4 -2 -4 0M3150 836l-4 -2 -3 -3M3146 834l-5 -1 -4 -1M3146 834l-4 -2 -4 -1M3146 837l-4 -2 -5 -1M3141 838l-4 1 -3 2"/></g><circle cx="1579.0" cy="417.0" r="3.8" fill="#ff1010"/><g transform="scale(.5)" fill="none" stroke="#ff1010" stroke-linecap="round" stroke-linejoin="round"><path stroke-width="4.00" d="M3392 1086l1 4 0 5 4 2 2 4M3392 1086l-4 2 -2 4 -4 3M3392 1086l-4 -2 -3 -3 1 -5 1 -4M3392 1086l3 -3 1 -5 2 -3 3 -4M3392 1086l4 2 4 -3 3 -3 1 -4"/><path stroke-width="2.50" d="M3393 1095l3 3 5 0M3399 1101l4 2 5 0M3388 1088l-4 2 -4 0M3386 1092l-2 -4 0 -4M3382 1095l-4 1 -4 0M3386 1076l-1 -4 0 -4M3387 1072l3 -3 2 -4M3396 1078l-1 -4 1 -4 1 -5M3401 1071l3 -3 3 -3M3403 1082l1 5 -1 4M3404 1078l2 -4 4 -2"/><path stroke-width="2.00" d="M3393 1095l-4 4M3385 1081l2 -9M3401 1071l-2 -4M3404 1078l-1 7"/><path stroke-width="1.50" d="M3401 1098l-1 4 0 4M3396 1098l1 4 0 5M3401 1098l4 2 3 2M3403 1103l-1 4 -2 4M3408 1103l4 2 4 1M3384 1090l-4 2 -4 1M3380 1090l-5 1 -3 1M3384 1088l-4 1 -4 2M3384 1084l1 -4 1 -5M3374 1096l-4 0 -5 1M3378 1096l-4 -2 -4 1M3374 1096l-4 -2 -3 -3M3385 1072l2 -4 4 -2M3385 1068l0 -5 1 -4M3390 1069l-1 -4 -2 -4M3392 1065l-3 -3 -2 -5M3396 1070l4 -1 4 -1M3395 1074l-2 -3 -5 -2M3397 1065l1 -4 3 -3M3404 1068l0 -4 1 -4M3404 1068l-1 -4 -3 -3M3407 1065l4 -1 4 -3M3404 1087l-1 4 -2 4M3403 1091l-3 3 0 4M3406 1074l4 -1 4 -2M3410 1072l3 -3 4 -2"/></g><circle cx="1696.0" cy="543.0" r="3.8" fill="#ff1010"/><g transform="scale(.5)" fill="none" stroke="#ff1010" stroke-linecap="round" stroke-linejoin="round"><path stroke-width="4.00" d="M3020 710l-1 -4 0 -5M3020 710l-1 -4 1 -4M3020 710l1 4 2 4"/><path stroke-width="2.50" d="M3019 706l-1 -4 -2 -4M3019 701l1 -4 1 -4M3019 706l0 -5 0 -4M3020 702l3 -4 1 -4M3021 714l4 2 2 4M3023 718l-1 5 -2 4"/><path stroke-width="1.50" d="M3018 702l-4 -3 -4 -2M3018 702l-2 -5 0 -4M3016 698l1 -5 3 -3M3020 697l3 -2 4 -3M3021 693l4 -3 3 -3M3019 701l3 -3 3 -3M3019 697l1 -4 0 -5M3023 698l-1 -4 -1 -4M3023 698l-2 -3 -3 -4M3024 694l-3 -3 -4 -2M3025 716l4 2 4 1M3025 716l2 4 4 2M3027 720l0 4 -1 5M3020 727l-4 0 -4 1M3022 723l-2 3 -4 3M3020 727l-2 4 -3 3"/></g><circle cx="1510.0" cy="355.0" r="3.8" fill="#ff1010"/><g transform="scale(.5)" fill="none" stroke="#ff1010" stroke-linecap="round" stroke-linejoin="round"><path stroke-width="4.00" d="M3240 1090l1 -4 0 -5 2 -4M3240 1090l4 1 5 0M3240 1090l3 3 1 4 3 4 3 3M3240 1090l-1 4 0 5 -1 4"/><path stroke-width="2.50" d="M3241 1086l-3 -4 -1 -4M3243 1077l0 -4 0 -5M3244 1091l-1 -5 -2 -3M3244 1091l4 -3 4 -1M3249 1091l4 2 2 3M3244 1097l-4 3 -3 3M3250 1104l3 3 4 1M3239 1099l-5 1 -3 3M3239 1099l-5 0 -4 -1M3238 1103l0 4 0 5"/><path stroke-width="2.00" d="M3250 1104l9 0"/><path stroke-width="1.50" d="M3238 1082l0 -4 1 -5M3237 1078l-1 -4 0 -5M3243 1068l1 -4 2 -4M3243 1068l-2 -4 -2 -4M3243 1086l5 -1 3 3M3243 1086l3 -3 2 -4M3241 1083l-3 -4 -2 -4M3248 1088l0 -4 -3 -3M3248 1088l4 1 4 -1M3252 1087l3 -4 3 -3M3253 1093l3 -3 3 -4M3255 1096l-1 5 0 4M3240 1100l0 4 -1 5M3237 1103l-3 3 -2 4M3253 1107l5 0 3 3M3257 1108l4 2 4 2M3231 1103l-4 -2 -3 -4M3234 1100l0 4 -1 4M3231 1103l-4 -2 -4 -1M3234 1099l-3 -3 -3 -3M3230 1098l-4 2 -4 2M3238 1107l-4 2 -4 2M3238 1107l0 5 1 4M3238 1112l0 4 0 4"/></g><circle cx="1620.0" cy="545.0" r="3.8" fill="#ff1010"/></g>
<path d="M1179,380.5 H1250.3 V452.7 H1179 Z M1179,452.7 L1036,551.5 M1250.3,452.7 L1264.3,551.5" stroke="#ffffff" stroke-width="3" fill="none"/>
<path d="M1363.8,437.3 H1430.5 V502.9 H1363.8 Z M1363.8,502.9 L1268.3,551.5 M1430.5,502.9 L1495.8,551.5" stroke="#ffffff" stroke-width="3" fill="none"/>
<path d="M1619.4,433.3 H1689.8 V502 H1619.4 Z M1619.4,502 L1500,551.5 M1689.8,502 L1727.6,551.5" stroke="#ffffff" stroke-width="3" fill="none"/>
<text transform="translate(1162.11,527.47) scale(0.9950,1)" font-size="33.01" fill="#fff" stroke="#fff" stroke-width="0.7">50 µm</text>
<rect x="1204.3" y="539.6" width="53.4" height="3.2" fill="#fff"/>
<rect x="1036.4" y="556.4000000000001" width="228.1" height="226.8" fill="#e1e1e1" stroke="#000" stroke-width="2.4"/>
<rect x="1268.4" y="556.4000000000001" width="227.4" height="226.8" fill="#e1e1e1" stroke="#000" stroke-width="2.4"/>
<rect x="1499.7" y="556.4000000000001" width="228.0" height="226.8" fill="#e1e1e1" stroke="#000" stroke-width="2.4"/>
<g transform="scale(.5)" fill="none" stroke-linecap="round"><path stroke="#004cff" stroke-width="18.0" d="M2284 1361L2280 1358"/><path stroke="#00b2ff" stroke-width="18.0" d="M2280 1358L2276 1355"/><path stroke="#00b2ff" stroke-width="17.0" d="M2276 1355L2271 1352M2271 1352L2267 1349"/><path stroke="#007fff" stroke-width="17.0" d="M2267 1349L2263 1345M2263 1345L2259 1342"/><path stroke="#00e5ff" stroke-width="16.0" d="M2259 1342L2254 1339"/><path stroke="#7fff7f" stroke-width="16.0" d="M2254 1339L2250 1337"/><path stroke="#00b2ff" stroke-width="16.0" d="M2250 1337L2245 1335M2245 1335L2240 1333"/><path stroke="#4cffb2" stroke-width="15.0" d="M2240 1333L2236 1332M2236 1332L2231 1333"/><path stroke="#19ffe5" stroke-width="15.0" d="M2231 1333L2226 1335"/><path stroke="#b2ff4c" stroke-width="14.0" d="M2226 1335L2222 1337M2222 1337L2217 1339M2211 1339L2206 1339"/><path stroke="#7fff7f" stroke-width="14.0" d="M2217 1339L2211 1339"/><path stroke="#b2ff4c" stroke-width="13.0" d="M2206 1339L2200 1339"/><path stroke="#ffe500" stroke-width="13.0" d="M2200 1339L2194 1339"/><path stroke="#e5ff19" stroke-width="13.0" d="M2194 1339L2189 1339"/><path stroke="#e5ff19" stroke-width="12.0" d="M2189 1339L2183 1339"/><path stroke="#ffe500" stroke-width="12.0" d="M2183 1339L2178 1339"/><path stroke="#ff7f00" stroke-width="12.0" d="M2178 1339L2173 1338"/><path stroke="#ff4c00" stroke-width="12.0" d="M2173 1338L2168 1338"/><path stroke="#ff7f00" stroke-width="11.0" d="M2168 1338L2163 1337"/><path stroke="#ffb200" stroke-width="11.0" d="M2163 1337L2158 1337"/><path stroke="#ff4c00" stroke-width="11.0" d="M2158 1337L2152 1336"/><path stroke="#e50000" stroke-width="11.0" d="M2152 1336L2147 1336"/><path stroke="#ff4c00" stroke-width="10.0" d="M2147 1336L2142 1335"/><path stroke="#00e5ff" stroke-width="14.0" d="M2269 1369L2264 1368"/><path stroke="#007fff" stroke-width="14.0" d="M2264 1368L2258 1366"/><path stroke="#19ffe5" stroke-width="13.0" d="M2258 1366L2252 1365M2241 1363L2236 1361"/><path stroke="#00e5ff" stroke-width="13.0" d="M2252 1365L2247 1364"/><path stroke="#007fff" stroke-width="13.0" d="M2247 1364L2241 1363"/><path stroke="#19ffe5" stroke-width="12.0" d="M2236 1361L2230 1361M2230 1361L2224 1360M2224 1360L2219 1360"/><path stroke="#4cffb2" stroke-width="11.0" d="M2219 1360L2213 1359M2213 1359L2208 1358"/><path stroke="#b2ff4c" stroke-width="11.0" d="M2208 1358L2202 1358"/><path stroke="#e5ff19" stroke-width="11.0" d="M2202 1358L2197 1358"/><path stroke="#ffe500" stroke-width="10.0" d="M2197 1358L2191 1359"/><path stroke="#ffb200" stroke-width="10.0" d="M2191 1359L2186 1359M2186 1359L2181 1360"/><path stroke="#ffb200" stroke-width="9.0" d="M2181 1360L2175 1360M2175 1360L2170 1361M2170 1361L2165 1361"/><path stroke="#ff1900" stroke-width="9.0" d="M2165 1361L2157 1361"/><path stroke="#ff4c00" stroke-width="8.0" d="M2157 1361L2150 1361"/><path stroke="#7fff7f" stroke-width="10.0" d="M2236 1339L2232 1335"/><path stroke="#4cffb2" stroke-width="10.0" d="M2232 1335L2228 1331"/><path stroke="#b2ff4c" stroke-width="10.0" d="M2228 1331L2224 1326"/><path stroke="#ffe500" stroke-width="10.0" d="M2224 1326L2221 1322"/><path stroke="#e5ff19" stroke-width="10.0" d="M2221 1322L2217 1318"/><path stroke="#ffe500" stroke-width="9.0" d="M2217 1318L2213 1313M2209 1309L2207 1304M2207 1304L2204 1299"/><path stroke="#e5ff19" stroke-width="9.0" d="M2213 1313L2209 1309"/><path stroke="#b2ff4c" stroke-width="9.0" d="M2204 1299L2202 1294"/><path stroke="#ff7f00" stroke-width="9.0" d="M2202 1294L2196 1294M2196 1294L2190 1294"/><path stroke="#ff4c00" stroke-width="9.0" d="M2190 1294L2184 1294"/><path stroke="#ff1900" stroke-width="9.0" d="M2184 1294L2178 1294"/><path stroke="#ff1900" stroke-width="8.0" d="M2178 1294L2172 1294M2172 1294L2166 1294"/><path stroke="#ff4c00" stroke-width="8.0" d="M2166 1294L2160 1293"/><path stroke="#7f0000" stroke-width="8.0" d="M2160 1293L2153 1292"/><path stroke="#004cff" stroke-width="12.0" d="M2262 1347L2261 1341"/><path stroke="#00b2ff" stroke-width="12.0" d="M2261 1341L2260 1336"/><path stroke="#00e5ff" stroke-width="12.0" d="M2260 1336L2259 1331"/><path stroke="#7fff7f" stroke-width="12.0" d="M2259 1331L2259 1326M2259 1326L2258 1320"/><path stroke="#b2ff4c" stroke-width="11.0" d="M2258 1320L2257 1315M2256 1310L2256 1305"/><path stroke="#4cffb2" stroke-width="11.0" d="M2257 1315L2256 1310"/><path stroke="#ffb200" stroke-width="11.0" d="M2256 1305L2255 1299M2252 1290L2251 1285"/><path stroke="#e5ff19" stroke-width="11.0" d="M2255 1299L2254 1294M2254 1294L2252 1290"/><path stroke="#ffe500" stroke-width="11.0" d="M2251 1285L2249 1280"/><path stroke="#ff7f00" stroke-width="11.0" d="M2249 1280L2247 1276"/><path stroke="#ff7f00" stroke-width="10.0" d="M2247 1276L2245 1271"/><path stroke="#ffb200" stroke-width="10.0" d="M2245 1271L2243 1266"/><path stroke="#ff4c00" stroke-width="10.0" d="M2243 1266L2241 1262"/><path stroke="#ff1900" stroke-width="10.0" d="M2241 1262L2239 1257"/><path stroke="#ffe500" stroke-width="10.0" d="M2239 1257L2239 1252"/><path stroke="#e5ff19" stroke-width="10.0" d="M2239 1252L2238 1246"/><path stroke="#b2ff4c" stroke-width="10.0" d="M2238 1246L2237 1241"/><path stroke="#7fff7f" stroke-width="10.0" d="M2237 1241L2236 1236"/><path stroke="#4cffb2" stroke-width="10.0" d="M2236 1236L2236 1231"/><path stroke="#00b2ff" stroke-width="9.0" d="M2236 1231L2237 1226M2242 1210L2243 1205M2243 1205L2243 1199"/><path stroke="#00e5ff" stroke-width="9.0" d="M2237 1226L2239 1220"/><path stroke="#19ffe5" stroke-width="9.0" d="M2239 1220L2240 1215"/><path stroke="#004cff" stroke-width="9.0" d="M2240 1215L2242 1210"/><path stroke="#0000e5" stroke-width="9.0" d="M2243 1199L2243 1193M2243 1187L2243 1181"/><path stroke="#0000b2" stroke-width="9.0" d="M2243 1193L2243 1187"/><path stroke="#004cff" stroke-width="8.0" d="M2243 1181L2243 1175"/><path stroke="#0000b2" stroke-width="8.0" d="M2243 1175L2244 1168"/><path stroke="#0000e5" stroke-width="8.0" d="M2244 1168L2246 1162M2246 1162L2247 1156"/><path stroke="#0000b2" stroke-width="8.0" d="M2247 1156L2242 1152"/><path stroke="#0019ff" stroke-width="8.0" d="M2242 1152L2238 1149"/><path stroke="#0000b2" stroke-width="7.0" d="M2238 1149L2233 1145"/><path stroke="#00007f" stroke-width="7.0" d="M2233 1145L2229 1141"/><path stroke="#0000b2" stroke-width="6.0" d="M2229 1141L2224 1137"/><path stroke="#0000e5" stroke-width="8.0" d="M2247 1156L2251 1154"/><path stroke="#00007f" stroke-width="8.0" d="M2251 1154L2256 1152"/><path stroke="#0000b2" stroke-width="8.0" d="M2256 1152L2260 1149"/><path stroke="#00007f" stroke-width="7.0" d="M2260 1149L2265 1147M2265 1147L2269 1145M2269 1145L2273 1141"/><path stroke="#0000e5" stroke-width="7.0" d="M2273 1141L2277 1137"/><path stroke="#0000b2" stroke-width="6.0" d="M2277 1137L2280 1134"/><path stroke="#00007f" stroke-width="6.0" d="M2280 1134L2284 1130"/><path stroke="#ffb200" stroke-width="8.0" d="M2254 1283L2260 1282"/><path stroke="#e5ff19" stroke-width="8.0" d="M2260 1282L2265 1281"/><path stroke="#4cffb2" stroke-width="8.0" d="M2265 1281L2270 1281"/><path stroke="#b2ff4c" stroke-width="8.0" d="M2270 1281L2276 1280"/><path stroke="#4cffb2" stroke-width="7.0" d="M2276 1280L2281 1279M2303 1276L2306 1271"/><path stroke="#b2ff4c" stroke-width="7.0" d="M2281 1279L2287 1278M2297 1276L2303 1276M2309 1267L2312 1262"/><path stroke="#ffb200" stroke-width="7.0" d="M2287 1278L2292 1277"/><path stroke="#ffe500" stroke-width="7.0" d="M2292 1277L2297 1276"/><path stroke="#7fff7f" stroke-width="7.0" d="M2306 1271L2309 1267"/><path stroke="#ffb200" stroke-width="6.0" d="M2312 1262L2315 1258"/><path stroke="#ff4c00" stroke-width="6.0" d="M2315 1258L2318 1254M2318 1254L2321 1249"/><path stroke="#004cff" stroke-width="14.0" d="M2299 1354L2302 1349"/><path stroke="#0019ff" stroke-width="13.0" d="M2302 1349L2304 1344"/><path stroke="#0000b2" stroke-width="13.0" d="M2304 1344L2307 1339"/><path stroke="#004cff" stroke-width="12.0" d="M2307 1339L2309 1334"/><path stroke="#007fff" stroke-width="12.0" d="M2309 1334L2312 1329"/><path stroke="#004cff" stroke-width="11.0" d="M2312 1329L2314 1324"/><path stroke="#007fff" stroke-width="11.0" d="M2314 1324L2309 1320"/><path stroke="#0019ff" stroke-width="10.0" d="M2309 1320L2304 1317M2304 1317L2299 1313"/><path stroke="#004cff" stroke-width="9.0" d="M2299 1313L2297 1319M2297 1319L2295 1324"/><path stroke="#00b2ff" stroke-width="18.0" d="M2314 1358L2319 1355M2319 1355L2324 1352"/><path stroke="#007fff" stroke-width="18.0" d="M2324 1352L2328 1350"/><path stroke="#007fff" stroke-width="17.0" d="M2328 1350L2333 1347"/><path stroke="#00b2ff" stroke-width="17.0" d="M2333 1347L2338 1344M2338 1344L2343 1342M2343 1342L2348 1339"/><path stroke="#00b2ff" stroke-width="16.0" d="M2348 1339L2353 1337"/><path stroke="#4cffb2" stroke-width="16.0" d="M2353 1337L2358 1335M2358 1335L2363 1333M2363 1333L2368 1332"/><path stroke="#7fff7f" stroke-width="15.0" d="M2368 1332L2373 1330M2373 1330L2378 1328"/><path stroke="#4cffb2" stroke-width="15.0" d="M2378 1328L2384 1326M2384 1326L2389 1324"/><path stroke="#b2ff4c" stroke-width="14.0" d="M2389 1324L2394 1323"/><path stroke="#4cffb2" stroke-width="14.0" d="M2394 1323L2399 1322M2404 1321L2409 1320"/><path stroke="#e5ff19" stroke-width="14.0" d="M2399 1322L2404 1321"/><path stroke="#ffb200" stroke-width="13.0" d="M2409 1320L2414 1319M2414 1319L2419 1318M2424 1317L2429 1316"/><path stroke="#ffe500" stroke-width="13.0" d="M2419 1318L2424 1317"/><path stroke="#ffb200" stroke-width="12.0" d="M2429 1316L2434 1315"/><path stroke="#ff1900" stroke-width="12.0" d="M2434 1315L2439 1313M2439 1313L2444 1312"/><path stroke="#ff4c00" stroke-width="12.0" d="M2444 1312L2450 1310"/><path stroke="#ff4c00" stroke-width="11.0" d="M2450 1310L2455 1308"/><path stroke="#ff1900" stroke-width="11.0" d="M2455 1308L2460 1307M2460 1307L2466 1305"/><path stroke="#ff7f00" stroke-width="11.0" d="M2466 1305L2471 1304"/><path stroke="#ffe500" stroke-width="10.0" d="M2471 1304L2476 1302"/><path stroke="#7fff7f" stroke-width="10.0" d="M2476 1302L2481 1301"/><path stroke="#4cffb2" stroke-width="10.0" d="M2481 1301L2487 1299"/><path stroke="#19ffe5" stroke-width="10.0" d="M2487 1299L2492 1298"/><path stroke="#00b2ff" stroke-width="9.0" d="M2492 1298L2497 1296M2497 1296L2502 1295"/><path stroke="#19ffe5" stroke-width="9.0" d="M2502 1295L2508 1293"/><path stroke="#007fff" stroke-width="9.0" d="M2508 1293L2513 1292"/><path stroke="#007fff" stroke-width="8.0" d="M2513 1292L2518 1290"/><path stroke="#0000e5" stroke-width="8.0" d="M2518 1290L2523 1289"/><path stroke="#e50000" stroke-width="10.0" d="M2389 1324L2390 1319"/><path stroke="#ff4c00" stroke-width="10.0" d="M2390 1319L2391 1314"/><path stroke="#ff1900" stroke-width="10.0" d="M2391 1314L2392 1309"/><path stroke="#e50000" stroke-width="9.0" d="M2392 1309L2394 1304M2392 1284L2389 1279"/><path stroke="#ff1900" stroke-width="9.0" d="M2394 1304L2395 1299M2394 1289L2392 1284"/><path stroke="#b20000" stroke-width="9.0" d="M2395 1299L2396 1294"/><path stroke="#ff4c00" stroke-width="9.0" d="M2396 1294L2394 1289"/><path stroke="#e50000" stroke-width="8.0" d="M2389 1279L2387 1273M2387 1273L2385 1268"/><path stroke="#ffe500" stroke-width="10.0" d="M2426 1309L2429 1305"/><path stroke="#4cffb2" stroke-width="10.0" d="M2429 1305L2432 1301M2432 1301L2436 1296"/><path stroke="#19ffe5" stroke-width="9.0" d="M2436 1296L2439 1292"/><path stroke="#00e5ff" stroke-width="9.0" d="M2439 1292L2442 1288M2445 1284L2448 1279M2448 1279L2454 1281"/><path stroke="#007fff" stroke-width="9.0" d="M2442 1288L2445 1284M2454 1281L2460 1283"/><path stroke="#00b2ff" stroke-width="8.0" d="M2460 1283L2465 1285"/><path stroke="#0000e5" stroke-width="8.0" d="M2465 1285L2471 1287"/><path stroke="#19ffe5" stroke-width="10.0" d="M2344 1343L2348 1346M2348 1346L2353 1349"/><path stroke="#7fff7f" stroke-width="10.0" d="M2353 1349L2357 1352M2362 1355L2366 1358"/><path stroke="#4cffb2" stroke-width="10.0" d="M2357 1352L2362 1355M2371 1361L2375 1364"/><path stroke="#e5ff19" stroke-width="10.0" d="M2366 1358L2371 1361M2380 1367L2384 1370"/><path stroke="#b2ff4c" stroke-width="10.0" d="M2375 1364L2380 1367M2384 1370L2389 1373M2393 1376L2398 1380"/><path stroke="#ffe500" stroke-width="10.0" d="M2389 1373L2393 1376"/><path stroke="#e5ff19" stroke-width="9.0" d="M2398 1380L2402 1384M2407 1388L2411 1391"/><path stroke="#ffe500" stroke-width="9.0" d="M2402 1384L2407 1388"/><path stroke="#ff1900" stroke-width="9.0" d="M2411 1391L2413 1397M2413 1397L2414 1402M2414 1402L2416 1407M2416 1407L2417 1412M2419 1418L2414 1421M2414 1421L2410 1425M2396 1442L2396 1447M2396 1458L2396 1463M2396 1468L2396 1474M2396 1474L2394 1478"/><path stroke="#e50000" stroke-width="9.0" d="M2417 1412L2419 1418M2401 1432L2396 1436M2396 1447L2396 1452"/><path stroke="#ff7f00" stroke-width="9.0" d="M2410 1425L2405 1429M2396 1463L2396 1468M2394 1478L2391 1482"/><path stroke="#b20000" stroke-width="9.0" d="M2405 1429L2401 1432"/><path stroke="#ff4c00" stroke-width="9.0" d="M2396 1436L2396 1442M2396 1452L2396 1458"/><path stroke="#ff1900" stroke-width="8.0" d="M2391 1482L2388 1486M2386 1491L2383 1495"/><path stroke="#e50000" stroke-width="8.0" d="M2388 1486L2386 1491M2380 1499L2378 1503M2364 1511L2360 1513M2360 1513L2356 1516"/><path stroke="#b20000" stroke-width="8.0" d="M2383 1495L2380 1499M2378 1503L2373 1506"/><path stroke="#ff4c00" stroke-width="8.0" d="M2373 1506L2369 1508M2369 1508L2364 1511M2356 1516L2351 1518"/><path stroke="#ff1900" stroke-width="8.0" d="M2411 1410L2415 1413"/><path stroke="#ff7f00" stroke-width="8.0" d="M2415 1413L2420 1415"/><path stroke="#ff7f00" stroke-width="7.0" d="M2420 1415L2424 1418"/><path stroke="#ff4c00" stroke-width="7.0" d="M2424 1418L2429 1420"/><path stroke="#ff1900" stroke-width="7.0" d="M2429 1420L2433 1423"/><path stroke="#ff7f00" stroke-width="6.0" d="M2433 1423L2437 1425"/><path stroke="#007fff" stroke-width="16.0" d="M2273 1399L2269 1403M2269 1403L2265 1407"/><path stroke="#00b2ff" stroke-width="16.0" d="M2265 1407L2262 1412"/><path stroke="#00e5ff" stroke-width="15.0" d="M2262 1412L2258 1416"/><path stroke="#007fff" stroke-width="15.0" d="M2258 1416L2254 1420"/><path stroke="#19ffe5" stroke-width="15.0" d="M2254 1420L2251 1424M2251 1424L2247 1429"/><path stroke="#4cffb2" stroke-width="15.0" d="M2247 1429L2243 1433"/><path stroke="#4cffb2" stroke-width="14.0" d="M2243 1433L2239 1437M2236 1442L2232 1446"/><path stroke="#19ffe5" stroke-width="14.0" d="M2239 1437L2236 1442M2228 1450L2224 1454"/><path stroke="#7fff7f" stroke-width="14.0" d="M2232 1446L2228 1450"/><path stroke="#7fff7f" stroke-width="13.0" d="M2224 1454L2221 1459"/><path stroke="#b2ff4c" stroke-width="13.0" d="M2221 1459L2218 1463"/><path stroke="#e5ff19" stroke-width="13.0" d="M2218 1463L2215 1467M2215 1467L2213 1471"/><path stroke="#ffe500" stroke-width="13.0" d="M2213 1471L2210 1476"/><path stroke="#ffb200" stroke-width="13.0" d="M2210 1476L2207 1480"/><path stroke="#ffb200" stroke-width="12.0" d="M2207 1480L2205 1484"/><path stroke="#ff1900" stroke-width="12.0" d="M2205 1484L2202 1488M2197 1492L2193 1496"/><path stroke="#ff4c00" stroke-width="12.0" d="M2202 1488L2197 1492M2193 1496L2188 1500"/><path stroke="#ffb200" stroke-width="11.0" d="M2188 1500L2183 1503"/><path stroke="#ffe500" stroke-width="11.0" d="M2183 1503L2179 1507M2179 1507L2175 1511"/><path stroke="#e5ff19" stroke-width="11.0" d="M2175 1511L2170 1515"/><path stroke="#4cffb2" stroke-width="11.0" d="M2170 1515L2166 1518"/><path stroke="#00e5ff" stroke-width="10.0" d="M2166 1518L2161 1522"/><path stroke="#00b2ff" stroke-width="10.0" d="M2161 1522L2157 1526"/><path stroke="#ff7f00" stroke-width="10.0" d="M2221 1459L2216 1457"/><path stroke="#e5ff19" stroke-width="10.0" d="M2216 1457L2211 1456"/><path stroke="#ffb200" stroke-width="10.0" d="M2211 1456L2206 1454M2206 1454L2201 1453"/><path stroke="#ffe500" stroke-width="10.0" d="M2201 1453L2196 1451"/><path stroke="#ff4c00" stroke-width="9.0" d="M2196 1451L2191 1450M2177 1445L2172 1444M2167 1446L2162 1447"/><path stroke="#ff7f00" stroke-width="9.0" d="M2191 1450L2187 1448"/><path stroke="#ffe500" stroke-width="9.0" d="M2187 1448L2182 1447"/><path stroke="#ffb200" stroke-width="9.0" d="M2182 1447L2177 1445"/><path stroke="#ff1900" stroke-width="9.0" d="M2172 1444L2167 1446"/><path stroke="#ff4c00" stroke-width="8.0" d="M2162 1447L2157 1449M2157 1449L2152 1451"/><path stroke="#e50000" stroke-width="8.0" d="M2152 1451L2147 1453M2147 1453L2142 1455"/><path stroke="#ff7f00" stroke-width="10.0" d="M2202 1488L2207 1491"/><path stroke="#ff1900" stroke-width="10.0" d="M2207 1491L2212 1493"/><path stroke="#e50000" stroke-width="10.0" d="M2212 1493L2217 1496"/><path stroke="#ff1900" stroke-width="9.0" d="M2217 1496L2222 1498"/><path stroke="#e50000" stroke-width="9.0" d="M2222 1498L2227 1501M2227 1501L2232 1503M2244 1503L2250 1503"/><path stroke="#ff4c00" stroke-width="9.0" d="M2232 1503L2238 1503"/><path stroke="#b20000" stroke-width="9.0" d="M2238 1503L2244 1503"/><path stroke="#b20000" stroke-width="8.0" d="M2250 1503L2256 1503"/><path stroke="#e50000" stroke-width="8.0" d="M2256 1503L2262 1503"/><path stroke="#ffb200" stroke-width="8.0" d="M2183 1503L2179 1502"/><path stroke="#ff7f00" stroke-width="8.0" d="M2179 1502L2174 1500"/><path stroke="#ffe500" stroke-width="8.0" d="M2174 1500L2169 1498"/><path stroke="#ffb200" stroke-width="7.0" d="M2169 1498L2165 1496M2163 1501L2161 1506"/><path stroke="#ffe500" stroke-width="7.0" d="M2165 1496L2163 1501"/><path stroke="#7fff7f" stroke-width="7.0" d="M2161 1506L2160 1510M2160 1510L2158 1515"/><path stroke="#4cffb2" stroke-width="7.0" d="M2158 1515L2157 1520"/><path stroke="#19ffe5" stroke-width="6.0" d="M2157 1520L2155 1525"/><path stroke="#4cffb2" stroke-width="6.0" d="M2155 1525L2153 1530"/><path stroke="#0019ff" stroke-width="14.0" d="M2307 1403L2311 1406"/><path stroke="#007fff" stroke-width="14.0" d="M2311 1406L2316 1410"/><path stroke="#00e5ff" stroke-width="14.0" d="M2316 1410L2320 1414"/><path stroke="#00e5ff" stroke-width="13.0" d="M2320 1414L2324 1418M2329 1421L2327 1426"/><path stroke="#00b2ff" stroke-width="13.0" d="M2324 1418L2329 1421"/><path stroke="#19ffe5" stroke-width="13.0" d="M2327 1426L2325 1431M2323 1436L2320 1440"/><path stroke="#7fff7f" stroke-width="13.0" d="M2325 1431L2323 1436"/><path stroke="#4cffb2" stroke-width="12.0" d="M2320 1440L2318 1445M2318 1445L2316 1450M2316 1450L2314 1455"/><path stroke="#7fff7f" stroke-width="12.0" d="M2314 1455L2312 1460"/><path stroke="#b2ff4c" stroke-width="12.0" d="M2312 1460L2310 1464"/><path stroke="#ffe500" stroke-width="12.0" d="M2310 1464L2308 1469"/><path stroke="#b2ff4c" stroke-width="11.0" d="M2308 1469L2307 1474"/><path stroke="#e5ff19" stroke-width="11.0" d="M2307 1474L2310 1477"/><path stroke="#ffe500" stroke-width="11.0" d="M2310 1477L2314 1481M2314 1481L2318 1485"/><path stroke="#ffb200" stroke-width="11.0" d="M2318 1485L2321 1488"/><path stroke="#ff7f00" stroke-width="10.0" d="M2321 1488L2325 1492M2329 1496L2333 1501M2336 1505L2340 1510M2340 1510L2344 1515"/><path stroke="#ffe500" stroke-width="10.0" d="M2325 1492L2329 1496"/><path stroke="#ffb200" stroke-width="10.0" d="M2333 1501L2336 1505"/><path stroke="#ff7f00" stroke-width="9.0" d="M2344 1515L2339 1517M2323 1522L2318 1524"/><path stroke="#ff1900" stroke-width="9.0" d="M2339 1517L2334 1518M2328 1520L2323 1522M2318 1524L2313 1526"/><path stroke="#e50000" stroke-width="9.0" d="M2334 1518L2328 1520"/><path stroke="#ff7f00" stroke-width="8.0" d="M2313 1526L2308 1528"/><path stroke="#ff1900" stroke-width="8.0" d="M2308 1528L2303 1530"/><path stroke="#ff1900" stroke-width="8.0" d="M2344 1515L2348 1519"/><path stroke="#ff7f00" stroke-width="8.0" d="M2348 1519L2351 1524"/><path stroke="#ff4c00" stroke-width="8.0" d="M2351 1524L2355 1529"/><path stroke="#ff4c00" stroke-width="7.0" d="M2355 1529L2359 1533M2359 1533L2354 1535"/><path stroke="#ffb200" stroke-width="7.0" d="M2354 1535L2348 1537M2348 1537L2343 1538M2337 1540L2332 1541"/><path stroke="#ffe500" stroke-width="7.0" d="M2343 1538L2337 1540"/><path stroke="#ffb200" stroke-width="6.0" d="M2332 1541L2327 1543M2327 1543L2321 1545"/></g><circle cx="1143" cy="688.2" r="12.3" fill="#1a00c0"/>
<g transform="scale(.5)" fill="none" stroke-linecap="butt"><path stroke="#0000b2" stroke-width="5" d="M2768 1223H2790"/><path stroke="#0000e5" stroke-width="5" d="M2762 1228H2792M2757 1237H2800M2747 1246H2804M2747 1250H2808M2748 1317H2802"/><path stroke="#0019ff" stroke-width="5" d="M2758 1232H2799M2748 1255H2806M2752 1259H2805M2758 1273H2805M2745 1326H2803"/><path stroke="#00007f" stroke-width="5" d="M2752 1241H2805"/><path stroke="#00b2ff" stroke-width="5" d="M2754 1264H2802M2764 1268H2801M2737 1286H2818M2750 1313H2800M2741 1344H2806M2720 1380H2788M2707 1403H2806M2709 1407H2805M2711 1421H2775M2717 1438H2749"/><path stroke="#00e5ff" stroke-width="5" d="M2749 1277H2808M2746 1282H2813M2749 1299H2808M2748 1304H2808M2749 1340H2800M2727 1376H2791M2709 1389H2789M2713 1416H2786M2714 1443H2751"/><path stroke="#4cffb2" stroke-width="5" d="M2738 1291H2817M2709 1412H2798M2715 1429H2753M2716 1434H2753"/><path stroke="#7fff7f" stroke-width="5" d="M2742 1295H2810M2741 1349H2803M2740 1353H2803M2737 1371H2800"/><path stroke="#007fff" stroke-width="5" d="M2746 1308H2802M2749 1322H2801M2749 1331H2799M2746 1335H2798"/><path stroke="#b2ff4c" stroke-width="5" d="M2743 1358H2801M2737 1367H2804"/><path stroke="#ffe500" stroke-width="5" d="M2744 1362H2807"/><path stroke="#004cff" stroke-width="5" d="M2708 1385H2787M2711 1394H2800M2706 1398H2800"/><path stroke="#19ffe5" stroke-width="5" d="M2711 1425H2761"/><path stroke="#e50000" stroke-width="6" d="M2673 1390L2752 1410"/><path stroke="#b20000" stroke-width="6" d="M2685 1395L2748 1418"/><path stroke="#d10000" stroke-width="6" d="M2748 1418L2823 1416"/><path stroke="#ff4c00" stroke-width="6" d="M2763 1410L2797 1421"/><path stroke="#ff7f00" stroke-width="6" d="M2692 1388L2733 1399"/><path stroke="#7fff7f" stroke-width="22.0" d="M2785 1418L2790 1421M2799 1429L2803 1432"/><path stroke="#19ffe5" stroke-width="22.0" d="M2790 1421L2794 1425"/><path stroke="#00e5ff" stroke-width="22.0" d="M2794 1425L2799 1429"/><path stroke="#4cffb2" stroke-width="22.0" d="M2803 1432L2808 1436"/><path stroke="#00b2ff" stroke-width="22.0" d="M2808 1436L2812 1440"/><path stroke="#4cffb2" stroke-width="23.0" d="M2812 1440L2816 1444M2821 1447L2825 1451"/><path stroke="#00e5ff" stroke-width="23.0" d="M2816 1444L2821 1447"/><path stroke="#19ffe5" stroke-width="23.0" d="M2825 1451L2829 1455"/><path stroke="#00b2ff" stroke-width="23.0" d="M2829 1455L2833 1459M2833 1459L2837 1462"/><path stroke="#007fff" stroke-width="23.0" d="M2837 1462L2842 1466M2845 1471L2847 1475"/><path stroke="#0000b2" stroke-width="23.0" d="M2842 1466L2845 1471"/><path stroke="#0019ff" stroke-width="23.0" d="M2847 1475L2850 1480"/><path stroke="#004cff" stroke-width="23.0" d="M2850 1480L2853 1484"/><path stroke="#00007f" stroke-width="23.0" d="M2853 1484L2856 1488"/><path stroke="#0019ff" stroke-width="24.0" d="M2856 1488L2859 1493"/><path stroke="#0000e5" stroke-width="24.0" d="M2859 1493L2862 1497M2868 1506L2871 1511"/><path stroke="#0000b2" stroke-width="24.0" d="M2862 1497L2865 1502"/><path stroke="#004cff" stroke-width="24.0" d="M2865 1502L2868 1506"/><path stroke="#0019ff" stroke-width="14.0" d="M2748 1309L2743 1308M2743 1308L2738 1307"/><path stroke="#007fff" stroke-width="14.0" d="M2738 1307L2733 1306M2723 1304L2718 1303M2713 1302L2708 1301M2563 1294L2557 1294"/><path stroke="#00e5ff" stroke-width="14.0" d="M2733 1306L2728 1305M2708 1301L2703 1300M2703 1300L2698 1299M2683 1296L2678 1295M2668 1294L2663 1293M2595 1294L2590 1294M2579 1294L2573 1294"/><path stroke="#00b2ff" stroke-width="14.0" d="M2728 1305L2723 1304M2698 1299L2693 1298M2693 1298L2688 1297M2688 1297L2683 1296M2590 1294L2584 1294M2584 1294L2579 1294M2573 1294L2568 1294M2557 1294L2552 1294"/><path stroke="#19ffe5" stroke-width="14.0" d="M2718 1303L2713 1302M2673 1294L2668 1294M2568 1294L2563 1294M2552 1294L2546 1294"/><path stroke="#4cffb2" stroke-width="14.0" d="M2678 1295L2673 1294M2624 1292L2617 1292M2617 1292L2614 1296"/><path stroke="#7fff7f" stroke-width="14.0" d="M2663 1293L2657 1293M2652 1292L2647 1292M2630 1291L2624 1292M2614 1296L2611 1301M2597 1299L2595 1294"/><path stroke="#b2ff4c" stroke-width="14.0" d="M2657 1293L2652 1292M2641 1291L2636 1291M2611 1301L2608 1305"/><path stroke="#e5ff19" stroke-width="14.0" d="M2647 1292L2641 1291M2608 1305L2605 1309"/><path stroke="#ffe500" stroke-width="14.0" d="M2636 1291L2630 1291"/><path stroke="#ffb200" stroke-width="14.0" d="M2605 1309L2602 1313M2601 1308L2599 1304"/><path stroke="#ff7f00" stroke-width="14.0" d="M2602 1313L2601 1308M2599 1304L2597 1299"/><path stroke="#004cff" stroke-width="8.0" d="M2711 1246L2715 1244M2720 1242L2725 1240"/><path stroke="#007fff" stroke-width="8.0" d="M2715 1244L2720 1242M2725 1240L2729 1238"/><path stroke="#00b2ff" stroke-width="10.0" d="M2819 1309L2814 1311"/><path stroke="#0000e5" stroke-width="10.0" d="M2814 1311L2810 1313M2805 1316L2800 1318"/><path stroke="#004cff" stroke-width="10.0" d="M2810 1313L2805 1316M2800 1318L2795 1320M2790 1322L2785 1324"/><path stroke="#0019ff" stroke-width="10.0" d="M2795 1320L2790 1322"/></g><circle cx="1389.5" cy="595" r="18.5" fill="#50e890"/><path d="M1370,577 l8,-3 l3,6 Z M1404,580 l5,-6 l2,9 Z M1402,612 l8,2 l-6,4 Z M1374,610 l-6,3 l7,3 Z" fill="#40d0a0" stroke="#40d0a0" stroke-width="2"/><circle cx="1389.5" cy="596" r="16" fill="#30a8f0"/><circle cx="1389.5" cy="596" r="14.5" fill="#1a00d0"/><path d="M1428,752 l8,-5 l6,4 l-2,5 l5,4 l-4,3 l-8,2 l-4,-4 Z" fill="#1a00d0" stroke="#1a00d0" stroke-width="4"/>
<g transform="scale(.5)" fill="none" stroke-linecap="round"><path stroke="#19ffe5" stroke-width="16.0" d="M3253 1361L3250 1357"/><path stroke="#00e5ff" stroke-width="16.0" d="M3250 1357L3246 1353"/><path stroke="#7fff7f" stroke-width="16.0" d="M3246 1353L3243 1349"/><path stroke="#7fff7f" stroke-width="15.0" d="M3243 1349L3240 1345M3230 1332L3226 1328"/><path stroke="#e5ff19" stroke-width="15.0" d="M3240 1345L3236 1341"/><path stroke="#b2ff4c" stroke-width="15.0" d="M3236 1341L3233 1337M3233 1337L3230 1332"/><path stroke="#7fff7f" stroke-width="14.0" d="M3226 1328L3223 1324"/><path stroke="#e5ff19" stroke-width="14.0" d="M3223 1324L3221 1319"/><path stroke="#b2ff4c" stroke-width="14.0" d="M3221 1319L3219 1315"/><path stroke="#ffb200" stroke-width="14.0" d="M3219 1315L3217 1310M3217 1310L3216 1305"/><path stroke="#ffe500" stroke-width="14.0" d="M3216 1305L3214 1301"/><path stroke="#ffb200" stroke-width="13.0" d="M3214 1301L3212 1296M3208 1287L3209 1282"/><path stroke="#e5ff19" stroke-width="13.0" d="M3212 1296L3210 1291"/><path stroke="#b2ff4c" stroke-width="13.0" d="M3210 1291L3208 1287"/><path stroke="#7fff7f" stroke-width="13.0" d="M3209 1282L3209 1277"/><path stroke="#b2ff4c" stroke-width="12.0" d="M3209 1277L3210 1272"/><path stroke="#4cffb2" stroke-width="12.0" d="M3210 1272L3211 1267M3211 1267L3211 1262"/><path stroke="#7fff7f" stroke-width="12.0" d="M3211 1262L3212 1257"/><path stroke="#00b2ff" stroke-width="12.0" d="M3212 1257L3211 1251"/><path stroke="#00b2ff" stroke-width="11.0" d="M3211 1251L3211 1246M3211 1246L3210 1240M3210 1240L3210 1234M3210 1234L3210 1229"/><path stroke="#007fff" stroke-width="11.0" d="M3210 1229L3209 1223"/><path stroke="#004cff" stroke-width="10.0" d="M3209 1223L3209 1218M3209 1218L3208 1212"/><path stroke="#0019ff" stroke-width="10.0" d="M3208 1212L3208 1207M3207 1202L3207 1197"/><path stroke="#007fff" stroke-width="10.0" d="M3208 1207L3207 1202"/><path stroke="#0000e5" stroke-width="10.0" d="M3207 1197L3207 1192"/><path stroke="#0000e5" stroke-width="9.0" d="M3207 1192L3206 1187M3206 1187L3206 1182M3206 1176L3205 1171M3205 1171L3205 1166"/><path stroke="#0000b2" stroke-width="9.0" d="M3206 1182L3206 1176"/><path stroke="#00007f" stroke-width="8.0" d="M3205 1166L3205 1161"/><path stroke="#0000b2" stroke-width="8.0" d="M3205 1161L3204 1156"/><path stroke="#00b2ff" stroke-width="8.0" d="M3208 1257L3203 1255"/><path stroke="#00e5ff" stroke-width="8.0" d="M3203 1255L3198 1254"/><path stroke="#007fff" stroke-width="8.0" d="M3198 1254L3193 1253M3193 1253L3189 1251"/><path stroke="#004cff" stroke-width="7.0" d="M3189 1251L3184 1250M3184 1250L3179 1248M3179 1248L3174 1247"/><path stroke="#4cffb2" stroke-width="7.0" d="M3174 1247L3169 1245"/><path stroke="#00b2ff" stroke-width="7.0" d="M3169 1245L3164 1244"/><path stroke="#007fff" stroke-width="7.0" d="M3164 1244L3159 1243M3159 1243L3154 1241"/><path stroke="#0019ff" stroke-width="7.0" d="M3154 1241L3150 1240"/><path stroke="#0019ff" stroke-width="6.0" d="M3150 1240L3145 1238"/><path stroke="#007fff" stroke-width="6.0" d="M3145 1238L3139 1235"/><path stroke="#004cff" stroke-width="6.0" d="M3139 1235L3133 1233"/><path stroke="#4cffb2" stroke-width="12.0" d="M3238 1384L3233 1381M3223 1376L3218 1374"/><path stroke="#19ffe5" stroke-width="12.0" d="M3233 1381L3228 1379"/><path stroke="#7fff7f" stroke-width="12.0" d="M3228 1379L3223 1376M3218 1374L3213 1371"/><path stroke="#b2ff4c" stroke-width="11.0" d="M3213 1371L3208 1369M3199 1365L3194 1363M3194 1363L3189 1361M3171 1354L3166 1353"/><path stroke="#e5ff19" stroke-width="11.0" d="M3208 1369L3203 1367M3189 1361L3185 1360"/><path stroke="#7fff7f" stroke-width="11.0" d="M3203 1367L3199 1365M3175 1356L3171 1354"/><path stroke="#ffe500" stroke-width="11.0" d="M3185 1360L3180 1358M3180 1358L3175 1356"/><path stroke="#b2ff4c" stroke-width="10.0" d="M3166 1353L3161 1352M3161 1352L3156 1352M3146 1350L3141 1349M3141 1349L3136 1348M3136 1348L3131 1347"/><path stroke="#7fff7f" stroke-width="10.0" d="M3156 1352L3151 1351M3151 1351L3146 1350"/><path stroke="#00e5ff" stroke-width="10.0" d="M3131 1347L3126 1347"/><path stroke="#19ffe5" stroke-width="10.0" d="M3126 1347L3121 1346"/><path stroke="#00e5ff" stroke-width="9.0" d="M3121 1346L3115 1345M3104 1343L3099 1342M3094 1342L3088 1341"/><path stroke="#4cffb2" stroke-width="9.0" d="M3115 1345L3110 1344M3110 1344L3104 1343"/><path stroke="#00b2ff" stroke-width="9.0" d="M3099 1342L3094 1342M3075 1335L3072 1330"/><path stroke="#19ffe5" stroke-width="9.0" d="M3088 1341L3083 1340M3083 1340L3077 1339"/><path stroke="#004cff" stroke-width="9.0" d="M3077 1339L3075 1335"/><path stroke="#004cff" stroke-width="8.0" d="M3072 1330L3070 1326"/><path stroke="#007fff" stroke-width="8.0" d="M3070 1326L3067 1322"/><path stroke="#00b2ff" stroke-width="8.0" d="M3067 1322L3065 1317"/><path stroke="#0019ff" stroke-width="8.0" d="M3065 1317L3062 1313"/><path stroke="#007fff" stroke-width="6.0" d="M3077 1339L3074 1343"/><path stroke="#0000b2" stroke-width="6.0" d="M3074 1343L3071 1348M3058 1365L3055 1369"/><path stroke="#004cff" stroke-width="6.0" d="M3071 1348L3068 1352M3061 1360L3058 1365"/><path stroke="#0000e5" stroke-width="6.0" d="M3068 1352L3065 1356"/><path stroke="#0019ff" stroke-width="6.0" d="M3065 1356L3061 1360"/><path stroke="#ffb200" stroke-width="14.0" d="M3283 1361L3287 1358"/><path stroke="#b2ff4c" stroke-width="14.0" d="M3287 1358L3291 1355"/><path stroke="#ffe500" stroke-width="13.0" d="M3291 1355L3296 1352M3296 1352L3300 1349"/><path stroke="#ff7f00" stroke-width="13.0" d="M3300 1349L3304 1345"/><path stroke="#ffb200" stroke-width="12.0" d="M3304 1345L3308 1342M3313 1339L3318 1338"/><path stroke="#ff4c00" stroke-width="12.0" d="M3308 1342L3313 1339"/><path stroke="#e50000" stroke-width="12.0" d="M3318 1338L3323 1337"/><path stroke="#ff1900" stroke-width="11.0" d="M3323 1337L3328 1335"/><path stroke="#ff4c00" stroke-width="11.0" d="M3328 1335L3333 1334"/><path stroke="#ff7f00" stroke-width="11.0" d="M3333 1334L3338 1333"/><path stroke="#ffb200" stroke-width="10.0" d="M3338 1333L3343 1332M3343 1332L3348 1330"/><path stroke="#ff7f00" stroke-width="10.0" d="M3348 1330L3353 1329"/><path stroke="#ff7f00" stroke-width="9.0" d="M3353 1329L3358 1328M3358 1328L3362 1330"/><path stroke="#ffb200" stroke-width="9.0" d="M3362 1330L3367 1332"/><path stroke="#ffe500" stroke-width="8.0" d="M3367 1332L3372 1333"/><path stroke="#e5ff19" stroke-width="8.0" d="M3372 1333L3377 1335"/><path stroke="#b2ff4c" stroke-width="8.0" d="M3377 1335L3382 1337"/><path stroke="#7fff7f" stroke-width="8.0" d="M3382 1337L3387 1339"/><path stroke="#b2ff4c" stroke-width="7.0" d="M3387 1339L3392 1341"/><path stroke="#00e5ff" stroke-width="7.0" d="M3392 1341L3396 1343M3396 1343L3401 1345"/><path stroke="#00e5ff" stroke-width="6.0" d="M3401 1345L3406 1347"/><path stroke="#19ffe5" stroke-width="8.0" d="M3372 1324L3372 1319"/><path stroke="#4cffb2" stroke-width="8.0" d="M3372 1319L3372 1313"/><path stroke="#00e5ff" stroke-width="8.0" d="M3372 1313L3372 1307"/><path stroke="#00e5ff" stroke-width="7.0" d="M3372 1307L3372 1302"/><path stroke="#b2ff4c" stroke-width="7.0" d="M3372 1302L3372 1296"/><path stroke="#004cff" stroke-width="7.0" d="M3372 1296L3372 1291"/><path stroke="#00e5ff" stroke-width="6.0" d="M3372 1291L3372 1285"/><path stroke="#004cff" stroke-width="6.0" d="M3372 1285L3372 1279"/><path stroke="#ffe500" stroke-width="8.0" d="M3290 1332L3292 1327"/><path stroke="#e5ff19" stroke-width="8.0" d="M3292 1327L3293 1322"/><path stroke="#ff7f00" stroke-width="8.0" d="M3293 1322L3295 1317"/><path stroke="#ffb200" stroke-width="8.0" d="M3295 1317L3297 1312"/><path stroke="#ffb200" stroke-width="7.0" d="M3297 1312L3298 1307M3303 1292L3304 1287"/><path stroke="#ff4c00" stroke-width="7.0" d="M3298 1307L3300 1302"/><path stroke="#e5ff19" stroke-width="7.0" d="M3300 1302L3301 1297"/><path stroke="#b2ff4c" stroke-width="7.0" d="M3301 1297L3303 1292"/><path stroke="#ff4c00" stroke-width="6.0" d="M3304 1287L3306 1282M3307 1277L3309 1272"/><path stroke="#ffb200" stroke-width="6.0" d="M3306 1282L3307 1277"/><path stroke="#7fff7f" stroke-width="12.0" d="M3245 1418L3243 1423M3243 1423L3241 1427"/><path stroke="#4cffb2" stroke-width="12.0" d="M3241 1427L3238 1432"/><path stroke="#b2ff4c" stroke-width="11.0" d="M3238 1432L3236 1437"/><path stroke="#ffe500" stroke-width="11.0" d="M3236 1437L3233 1442M3233 1442L3231 1447M3231 1447L3229 1453"/><path stroke="#ffb200" stroke-width="11.0" d="M3229 1453L3228 1458M3228 1458L3226 1463"/><path stroke="#ff4c00" stroke-width="10.0" d="M3226 1463L3225 1468"/><path stroke="#ff7f00" stroke-width="10.0" d="M3225 1468L3223 1474M3224 1479L3224 1484M3224 1484L3225 1489"/><path stroke="#ff1900" stroke-width="10.0" d="M3223 1474L3224 1479"/><path stroke="#e5ff19" stroke-width="9.0" d="M3225 1489L3226 1494M3226 1494L3226 1499"/><path stroke="#ffb200" stroke-width="9.0" d="M3226 1499L3227 1504"/><path stroke="#ffe500" stroke-width="9.0" d="M3227 1504L3228 1509M3229 1514L3229 1519"/><path stroke="#ff4c00" stroke-width="9.0" d="M3228 1509L3229 1514"/><path stroke="#e5ff19" stroke-width="8.0" d="M3229 1519L3230 1524"/><path stroke="#ffb200" stroke-width="8.0" d="M3230 1524L3231 1530"/><path stroke="#e5ff19" stroke-width="8.0" d="M3223 1474L3218 1474M3213 1475L3207 1476"/><path stroke="#ffb200" stroke-width="8.0" d="M3218 1474L3213 1475"/><path stroke="#b2ff4c" stroke-width="7.0" d="M3207 1476L3202 1477"/><path stroke="#e5ff19" stroke-width="7.0" d="M3202 1477L3197 1477"/><path stroke="#ffb200" stroke-width="7.0" d="M3197 1477L3192 1478M3192 1478L3186 1479M3186 1479L3181 1480"/><path stroke="#ffe500" stroke-width="6.0" d="M3181 1480L3176 1480"/><path stroke="#ffb200" stroke-width="6.0" d="M3176 1480L3171 1481"/><path stroke="#7fff7f" stroke-width="10.0" d="M3275 1421L3279 1425M3279 1425L3283 1428"/><path stroke="#e5ff19" stroke-width="9.0" d="M3283 1428L3287 1432M3287 1432L3290 1435"/><path stroke="#7fff7f" stroke-width="9.0" d="M3290 1435L3294 1439"/><path stroke="#b2ff4c" stroke-width="9.0" d="M3294 1439L3298 1442"/><path stroke="#b2ff4c" stroke-width="8.0" d="M3298 1442L3302 1446"/><path stroke="#e5ff19" stroke-width="8.0" d="M3302 1446L3305 1449"/><path stroke="#ffe500" stroke-width="8.0" d="M3305 1449L3309 1452"/><path stroke="#ffb200" stroke-width="7.0" d="M3309 1452L3313 1456"/><path stroke="#ffe500" stroke-width="7.0" d="M3313 1456L3316 1459"/><path stroke="#e5ff19" stroke-width="7.0" d="M3316 1459L3320 1463M3320 1463L3324 1466"/><path stroke="#e5ff19" stroke-width="6.0" d="M3324 1466L3328 1470"/><path stroke="#e5ff19" stroke-width="8.0" d="M3309 1384L3312 1388"/><path stroke="#7fff7f" stroke-width="8.0" d="M3312 1388L3315 1393M3315 1393L3318 1397M3321 1402L3324 1406"/><path stroke="#ffe500" stroke-width="8.0" d="M3318 1397L3321 1402"/><path stroke="#b2ff4c" stroke-width="7.0" d="M3324 1406L3327 1411"/><path stroke="#e5ff19" stroke-width="7.0" d="M3327 1411L3330 1415M3346 1437L3350 1442"/><path stroke="#4cffb2" stroke-width="7.0" d="M3330 1415L3333 1420"/><path stroke="#7fff7f" stroke-width="7.0" d="M3333 1420L3336 1424M3343 1433L3346 1437"/><path stroke="#ff4c00" stroke-width="7.0" d="M3336 1424L3339 1429"/><path stroke="#ffe500" stroke-width="7.0" d="M3339 1429L3343 1433"/><path stroke="#ffe500" stroke-width="6.0" d="M3350 1442L3354 1446M3358 1450L3361 1454"/><path stroke="#ffb200" stroke-width="6.0" d="M3354 1446L3358 1450"/><path stroke="#e5ff19" stroke-width="6.0" d="M3361 1454L3365 1459"/></g><circle cx="1631.2" cy="694.8" r="13.5" fill="#30b0ff"/><circle cx="1631.2" cy="694.8" r="11.5" fill="#1a00c8"/>
<rect x="1036.4" y="798.7" width="228.1" height="227.7" fill="#fff" stroke="#000" stroke-width="2.4"/>
<rect x="1268.4" y="798.7" width="227.4" height="227.7" fill="#fff" stroke="#000" stroke-width="2.4"/>
<rect x="1499.7" y="798.7" width="228.0" height="227.7" fill="#fff" stroke="#000" stroke-width="2.4"/>
<clipPath id="ec1"><rect x="1036.4" y="798.7" width="228" height="227.7"/></clipPath><clipPath id="ec2"><rect x="1268.4" y="798.7" width="227.4" height="227.7"/></clipPath><clipPath id="ec3"><rect x="1499.7" y="798.7" width="228" height="227.7"/></clipPath>
<g clip-path="url(#ec1)"><g transform="scale(.5)" fill="none" stroke="#000" stroke-linecap="round" stroke-linejoin="round"><path stroke-width="5.50" d="M2236 1718l3 3 4 1 4 -3 4 -1 4 0 5 -1 4 0 4 2 4 1 5 -1M2236 1718l-2 4 -1 4 1 5 2 4 0 4 3 4 4 1 4 2 3 3 2 4 2 4M2236 1718l-5 1 -4 0 -3 -4 -3 -3 -4 -1M2236 1718l-5 -2 -2 -3 -3 -3 -3 -3 -3 -4 -4 -1 -4 -1 -4 -2 -4 -3M2236 1718l-4 -3 -4 -2 -4 -1 -4 -1 -4 -2 -3 -3 -4 -2 -4 -2 -4 -1 -5 -1 -3 -3 -4 -2M2236 1718l1 -4 1 -5 0 -4 -1 -4 0 -5 -2 -4 -4 -1 -5 1 -3 3 -3 3M2236 1718l3 -2 4 -3 2 -3 4 -3 4 -2 3 -3 3 -4 4 -1"/><path stroke-width="3.50" d="M2251 1718l0 4 -3 4 -4 2 -3 3 -3 3 -4 0M2277 1719l4 2 4 0 5 1M2236 1739l1 5 0 4 0 4 1 5 -2 4 -2 4M2254 1757l4 1 4 1 5 0 4 1 4 1 4 1M2227 1719l-4 -1 -1 -5M2227 1719l-3 -3 -2 -4 -2 -4 -3 -3M2217 1711l-3 3 -2 4M2223 1707l-5 0 -4 1 -4 0 -4 1 -4 3 -2 4M2204 1696l-4 -1 -5 0 -3 -3 -3 -3M2216 1709l2 -4 5 -1 3 -3 4 -1 4 2 5 0 4 2 1 4 3 4M2216 1709l2 -4 0 -4 0 -5 -2 -4 2 -4 4 -2M2189 1695l-4 -1 -3 -4 0 -4 -2 -4M2231 1691l4 0 5 0 3 3 4 2 3 3M2231 1691l4 -1 4 -2 3 2 3 4 -1 4 0 5 0 4M2220 1698l0 4 2 4 4 2 4 1 5 0M2245 1710l4 2 4 3 4 -1 3 -3M2263 1697l2 -4 4 -3 3 -3"/><path stroke-width="3.00" d="M2260 1717l-4 9M2239 1721l-2 7M2252 1753l2 5M2236 1735l1 7M2236 1735l-7 0M2217 1711l-3 5M2220 1703l-7 4M2208 1699l-8 4M2224 1712l2 -9M2205 1702l0 -10M2213 1706l2 -7M2226 1692l-1 -5M2237 1714l5 3M2243 1713l4 5M2243 1713l5 7"/><path stroke-width="2.00" d="M2244 1728l4 2 4 3 1 4M2234 1734l-5 0 -3 3 -2 3M2281 1721l3 -4 2 -3M2290 1722l4 1 4 0M2237 1752l4 2 4 2 4 2 4 0M2234 1765l-2 4 -2 3M2262 1759l4 3 1 4 4 3 3 3M2262 1759l4 2 3 4 3 3 3 3M2279 1762l5 0 2 4 4 2M2223 1718l-2 -5 -1 -4M2223 1718l-3 3 -1 4M2222 1713l0 -4 -3 -4M2222 1712l-4 3 -3 3M2220 1708l-4 2 -4 1M2217 1705l0 -5 1 -4M2214 1714l-4 0 -4 -3M2212 1718l-1 4 0 5M2206 1709l-2 4 -3 4 -1 4 -2 4M2200 1716l-3 3 -4 2M2192 1692l-2 -4 -3 -2 -5 0M2192 1692l-5 1 -4 0M2189 1689l-3 -3 -2 -4M2234 1702l0 -5 1 -4 1 -4 0 -5 0 -4M2239 1702l2 -3 2 -4 1 -5 -1 -4 0 -4M2247 1712l3 3 3 3 4 2M2218 1696l-2 -4 -2 -4 -2 -4 0 -4M2222 1686l4 -1 4 -3 3 -3M2182 1690l-4 -2 -4 1M2182 1686l-3 -3 -2 -4 -4 -2M2180 1682l-2 -4 -2 -4M2243 1694l0 -5 1 -4 0 -5M2250 1699l4 3 4 1 4 2M2244 1698l5 1 4 -1 3 -3 4 -3 3 -3M2242 1690l2 -4 2 -3 2 -5 2 -3 5 0M2244 1707l-1 4 1 5M2226 1708l-1 4 -1 4 0 5 2 4M2235 1709l2 -3 3 -4 3 -3M2253 1715l3 2 4 2M2260 1711l4 -3 3 -3M2265 1693l1 -4 3 -3M2269 1690l4 0 4 0M2272 1687l4 -2 3 -3"/><path stroke-width="1.50" d="M2241 1731l3 3M2281 1721l2 -4M2236 1761l10 -2M2279 1762l0 9M2222 1712l0 -5M2206 1709l-4 4M2195 1695l-9 2M2218 1705l-4 -6M2239 1702l-5 -8M2218 1705l-3 -2M2182 1690l-3 5M2243 1694l9 2M2235 1690l4 4M2242 1690l6 5M2235 1709l-4 3M2253 1715l2 6M2265 1693l7 5"/><path stroke-width="1.00" d="M2253 1737l9 -2M2229 1734l2 4M2241 1754l5 3M2274 1772l8 3M2266 1761l8 0M2286 1766l4 8M2204 1713l3 4M2182 1686l-6 -2M2234 1697l1 -6M2243 1682l0 -9M2253 1718l4 0M2212 1680l3 -8M2233 1679l1 -7M2177 1679l-10 -4M2244 1685l0 -6M2258 1703l6 1M2263 1689l-4 9M2255 1675l9 -3M2226 1725l6 -3M2243 1699l5 6"/></g><circle cx="1117.8" cy="859.0" r="4.5" fill="#000"/><g transform="scale(.5)" fill="none" stroke="#000" stroke-linecap="round" stroke-linejoin="round"><path stroke-width="3.50" d="M2318 1696l-1 4 1 4 1 5 3 3 -1 5 1 4 4 3 2 3 5 2M2318 1696l1 -4 3 -4 2 -4 0 -4 -1 -5 -3 -3 -2 -4 -4 -3M2318 1696l-2 4 0 4 0 5 1 4 3 3 1 4 3 4 2 3 2 4 2 4 2 4M2318 1696l1 -4 2 -4 4 -2 3 -3 1 -4 -2 -4 -3 -4 -4 -2 -4 -1 -4 0M2318 1696l4 -2 4 -1 4 -1 5 0 3 -3 4 -2 4 -1 4 -2 3 -3"/><path stroke-width="2.00" d="M2328 1727l4 2M2326 1724l-5 2M2322 1712l-2 5 -2 3 0 4 -3 4M2333 1729l4 0 4 -1 4 -2 4 -2M2314 1665l6 -2M2322 1688l-7 -6M2324 1684l3 -2 4 -2 4 -2 5 0M2324 1680l0 -5 -2 -4 -2 -3 -3 -4 0 -4M2314 1665l-2 -3 -4 -2 -4 -3M2316 1704l2 8M2332 1739l7 5M2326 1727l5 8M2320 1716l-4 1 -3 3 -4 3 -1 4 0 4 2 4M2332 1739l4 2 5 1 1 4 2 4 -1 5M2325 1686l0 -6M2319 1692l-2 -7M2329 1679l-2 -4 -1 -4 -2 -5 1 -4 0 -4M2328 1683l3 -3 3 -4 3 -3 2 -4 1 -4M2312 1668l-4 1 -4 2 -3 4 -3 3 -3 3M2330 1692l5 0M2342 1687l-3 -7M2335 1692l0 -4 4 -3 2 -4 3 -3 4 -2M2353 1681l4 0 4 -2 4 -3 4 0 5 -1"/><path stroke-width="1.50" d="M2318 1724l2 4 4 3M2318 1720l-2 4 -1 5M2315 1728l-4 2 -4 2M2341 1728l5 0 3 3M2341 1728l4 -1 4 -2M2349 1724l4 0 4 -2M2331 1680l0 -5 2 -4M2340 1678l3 -4 3 -3M2320 1668l0 -5 -3 -3 -3 -3M2317 1660l3 -3 4 -2 4 1M2308 1660l-4 -3 -2 -4M2304 1657l-3 -2 -3 -4M2308 1727l-3 3 1 5 -3 3M2310 1735l2 4 0 5 -2 4M2341 1742l3 3 3 3M2343 1755l-1 4 -1 4M2326 1671l1 -5 4 -2 2 -4 0 -4M2325 1658l3 -4 2 -4M2337 1673l4 -2 4 -1 4 2M2340 1665l-3 -3 -3 -3 -4 -1M2304 1671l-5 0 -4 0 -4 -1M2304 1671l-4 2 -5 -1M2295 1681l-4 -1 -4 -1M2341 1681l-2 -4 -2 -4 -1 -4M2348 1676l3 -4 4 0M2369 1676l5 1 3 3 4 2M2374 1675l2 -4 2 -4 2 -4"/><path stroke-width="1.00" d="M2315 1728l5 2M2337 1729l7 -5M2340 1678l-1 -6M2322 1671l1 -7M2314 1657l6 -3M2324 1655l-4 -7M2308 1660l1 -10M2308 1731l-7 -4M2305 1730l-5 1M2312 1744l8 0M2344 1750l4 2M2325 1658l-4 -5M2331 1664l-2 -5M2340 1665l5 -7M2349 1672l-2 -9M2337 1662l-6 -1M2308 1669l-6 8M2295 1671l-2 -7M2335 1688l7 -3M2336 1669l-10 -2M2374 1675l2 -6M2374 1677l1 8M2376 1671l7 4"/></g><circle cx="1158.9" cy="848.0" r="2.5" fill="#000"/><g transform="scale(.5)" fill="none" stroke="#000" stroke-linecap="round" stroke-linejoin="round"><path stroke-width="3.00" d="M2392 1718l-3 -3 -4 -1 -4 -1 -5 -2M2392 1718l5 -1 3 -3 5 -1 4 -1M2392 1718l5 1 4 -2 3 -2 5 -1M2392 1718l3 4 4 1 4 1 4 3 4 1M2392 1718l-4 -2 -4 -2 -4 -1"/><path stroke-width="2.00" d="M2385 1714l-1 -5 -1 -4 -4 -3M2376 1711l-4 -1 -4 -1M2400 1714l5 -1 4 0M2409 1712l3 2 4 2M2404 1715l5 0 4 0M2409 1714l4 2 2 3M2407 1727l-4 3 -4 2 -3 3M2411 1728l4 1 4 2M2384 1714l1 -4 -2 -4M2388 1716l-2 4 -4 1M2380 1713l-3 -4 -3 -2"/><path stroke-width="1.50" d="M2389 1715l-4 1M2397 1717l4 1M2401 1717l0 8M2407 1727l4 1M2384 1714l-5 3"/><path stroke-width="1.00" d="M2383 1705l-10 -2M2384 1709l-4 0 -4 -2M2379 1702l-3 -3 -2 -3M2372 1710l0 -4 -2 -4M2368 1709l-4 2 -3 3M2405 1713l3 -2 4 -2M2409 1713l3 -3 4 0M2412 1714l4 -3 0 -4M2412 1714l4 -3 4 0M2416 1716l4 2 5 0M2413 1715l4 2 5 1M2409 1715l3 3 1 4M2413 1715l3 4 2 4M2413 1716l4 -1 5 0M2415 1719l2 4 2 4M2403 1730l1 7M2399 1732l1 4 0 5M2396 1735l-3 3 -5 1M2415 1729l0 5 0 4M2415 1729l1 5 -1 4M2419 1731l4 1 5 0M2385 1710l-4 -2 -5 -1M2383 1706l0 -5 1 -4M2386 1720l-4 0 -4 -2M2386 1720l-1 4 0 5M2382 1721l-4 0 -5 0M2377 1709l-4 1 -4 2M2374 1707l0 -4 -2 -4M2374 1707l-5 0 -3 -4"/></g><circle cx="1196.2" cy="859.0" r="2.0" fill="#000"/><g transform="scale(.5)" fill="none" stroke="#000" stroke-linecap="round" stroke-linejoin="round"><path stroke-width="4.00" d="M2508 1662l4 2 4 2 3 2 4 3 5 0 4 0 4 -2 4 0 5 0 4 -1M2508 1662l-1 4 1 5 3 3 3 3 4 1 5 0 4 -2M2508 1662l-3 3 -4 2 -4 1 -4 2 -4 3 -3 3 -4 2 -3 3 -2 4 -3 3 -3 4M2508 1662l1 -4 -4 -3 -4 -1 -4 0M2508 1662l2 -4 1 -4 1 -4 0 -5 -1 -4 -1 -4 0 -5 1 -4 1 -4 4 -3"/><path stroke-width="2.50" d="M2528 1671l4 -2 3 -2 5 0 2 4 2 3 2 5M2549 1668l4 0 4 1 4 3M2518 1678l1 4 1 4 1 5M2527 1676l3 -2 4 -2 4 -2 4 -3M2493 1670l-1 5 -4 3 -3 3 -2 3 -3 4M2471 1692l-2 3 -4 1 -5 -1 -4 -1 -4 -1 -5 0M2505 1655l-3 -2 -5 -2 -2 -3M2497 1654l-5 -1 -4 -2M2511 1641l1 -5 2 -4 2 -4 2 -3 0 -5 1 -4M2516 1621l4 -2 3 -3 1 -4"/><path stroke-width="2.00" d="M2549 1668l1 5M2549 1668l2 4M2527 1676l-6 2M2508 1671l4 5M2479 1681l1 7M2493 1670l3 8M2474 1688l-1 8M2497 1654l7 -6M2511 1628l-1 -4M2512 1624l-1 -7"/><path stroke-width="1.50" d="M2535 1667l5 1 4 -2 4 0M2540 1667l4 0 3 -3 1 -5M2546 1679l-2 4 -2 3M2553 1668l4 -1 5 0M2561 1672l4 1 4 2M2519 1682l2 4 1 4M2521 1691l2 3 2 5M2534 1672l3 -3 5 0M2542 1667l3 -2 5 -1M2485 1681l2 4 2 3 5 1M2488 1678l4 2 4 2M2480 1688l-1 4 -1 5M2465 1696l-3 3 -4 2 -4 1 -4 2M2447 1693l-2 -3 -3 -3 -3 -4 -2 -4M2497 1651l-4 2 -4 -1M2495 1648l-4 -3 -4 -2M2492 1653l0 -4 1 -5M2488 1651l-4 1 -5 -1M2518 1625l4 -2 4 -1 2 -4M2519 1616l1 -4 1 -5 -2 -4M2523 1616l4 2 4 1M2524 1612l2 -4 4 -3"/><path stroke-width="1.00" d="M2544 1674l8 4M2544 1666l2 -7M2548 1659l1 -5M2553 1668l6 6M2521 1691l8 0M2534 1672l9 2M2492 1675l-9 3M2489 1688l6 3M2469 1695l3 8M2458 1701l-5 -1M2437 1679l-2 -9M2495 1648l-6 0M2518 1625l1 -5M2526 1622l5 2M2521 1607l-3 -5M2524 1612l4 1"/></g><circle cx="1254.0" cy="831.0" r="3.5" fill="#000"/><g transform="scale(.5)" fill="none" stroke="#000" stroke-linecap="round" stroke-linejoin="round"><path stroke-width="3.00" d="M2168 1812l1 4 0 4 0 5 -1 4 -1 4 -1 4M2168 1812l-4 -2 -3 -3 -4 0 -4 -2 -4 -2 -2 -4 -1 -4M2168 1812l2 -5 1 -4 -2 -4M2168 1812l4 -3 2 -4 4 -3 1 -4 4 -3 3 -3 4 -2 2 -3 1 -4M2168 1812l-2 4 -1 4 -2 3"/><path stroke-width="2.00" d="M2168 1829l-3 3 -2 4 -3 3M2168 1829l-3 2 -5 0 -3 4M2166 1837l-3 4 -2 4 0 4M2157 1807l-3 4 -4 2 -3 3 -3 3 -3 3M2146 1795l0 -4 2 -4 2 -4M2171 1803l-1 -4 -1 -5M2169 1799l-2 -4 -3 -3M2183 1795l3 3 5 0 4 2 4 0M2193 1783l2 -4 1 -5 2 -4 0 -4M2165 1820l-3 3 -4 2M2163 1823l1 5 -3 3"/><path stroke-width="1.50" d="M2167 1833l-5 1M2146 1795l-5 5M2153 1805l-5 5M2169 1799l6 -7M2183 1795l3 3M2186 1792l4 2M2163 1823l7 3"/><path stroke-width="1.00" d="M2160 1839l-8 1M2165 1832l-2 4 -4 3M2163 1836l-4 -1 -4 -2M2160 1839l-2 4 -1 4M2160 1831l-4 -4M2165 1831l-3 4 -3 3M2165 1831l-4 2 -5 1M2157 1835l-3 3 -2 4M2163 1841l-6 0M2163 1841l-3 -3 0 -4M2163 1841l-4 0 -4 -1M2161 1849l-1 4 -2 4M2150 1813l2 5M2150 1813l0 5 -1 4 -1 4M2149 1822l-8 0M2141 1822l-2 4 -3 4M2148 1787l-5 -2M2146 1791l-2 -5 -4 -2M2150 1783l3 -4 4 -2M2170 1799l4 -3 3 -3M2169 1794l0 -4 -2 -4M2167 1795l-4 -2 -1 -4M2167 1795l4 -2 4 2M2164 1792l-4 -2 -4 -1M2195 1800l7 -3M2191 1798l4 2 4 0 5 0M2204 1800l2 -3M2199 1800l4 2 4 2M2195 1779l10 -1M2196 1774l2 -4 -1 -4M2198 1766l-1 -4 0 -5M2162 1823l-4 2 -4 2M2162 1823l-3 3 -2 4M2158 1825l-5 0 -4 1M2164 1828l-5 0 -4 0M2161 1831l-2 4 -3 4"/></g><circle cx="1084.2" cy="905.8" r="2.5" fill="#000"/><g transform="scale(.5)" fill="none" stroke="#000" stroke-linecap="round" stroke-linejoin="round"><path stroke-width="4.00" d="M2385 1868l4 -1 5 -1 4 -1 4 -2 4 -1 3 -3 4 -3 3 -2 3 -4 4 -2 4 0 2 -4M2385 1868l4 -1 4 -3 1 -4 0 -4 2 -4 3 -4 4 -2M2385 1868l3 3 0 4 -1 5 0 4 0 4M2385 1868l-2 3 -4 2 -4 3 -3 2 -4 3 -4 2 -4 0 -4 1 -4 2 -5 2 -4 0 -4 0M2385 1868l-2 -4 -3 -4 -1 -4 -3 -3 -1 -4 -3 -4 -4 -2 -3 -3 -1 -4M2385 1868l0 -5 1 -4 -2 -4 0 -5 0 -4"/><path stroke-width="2.50" d="M2409 1859l5 0 4 -2 4 -2 4 -2 4 -1 4 -2 4 -1M2429 1844l0 -4 -4 -3 -3 -2 -4 -3 -3 -3 -4 -2M2394 1860l-1 4 1 5 3 3 3 3 4 1M2394 1860l2 4 2 4 2 4 3 3M2403 1846l4 2 4 0 4 -3M2387 1880l-2 3 -3 4M2387 1888l3 4 1 4 1 4M2364 1883l-3 -3 -3 -3 -4 -1 -5 -1 -3 -3M2368 1881l-4 2 -4 1 -4 1 -5 0 -3 4 -2 4M2339 1888l-5 2 -4 0 -4 0 -5 -2 -4 1M2375 1849l-4 -3 -2 -4 -4 -2 -2 -4 -4 -3 -3 -2 -4 -2M2376 1853l-3 -3 -5 -1 -4 -2 -4 -1 -4 -2M2364 1836l-4 -3 -4 -1 -4 -2 -4 -2M2386 1859l-4 -2 -3 -3M2384 1846l1 -4 -1 -5"/><path stroke-width="2.00" d="M2394 1866l6 -7M2423 1848l2 3M2416 1854l2 7M2394 1856l-3 4M2394 1860l8 2M2387 1880l7 3M2383 1871l-1 9M2347 1888l-2 5M2339 1888l-3 5M2379 1856l-6 1M2364 1836l-7 -1M2385 1863l-7 -5"/><path stroke-width="1.50" d="M2422 1855l4 -2 4 -1 2 -4 3 -3 4 -3M2438 1849l4 -2 4 0M2418 1832l3 -4 2 -3 2 -4 2 -4M2418 1832l4 -2 3 -4 3 -2 2 -4M2411 1827l-3 -4 0 -4M2394 1869l4 2 4 1 4 -1M2404 1876l4 2 4 3M2396 1864l4 2 4 -1 3 -3M2403 1875l4 -3 2 -4M2411 1848l3 3 4 2M2415 1845l4 -1 3 -3M2385 1883l-4 2 -2 4M2385 1883l-5 1 -4 0M2382 1887l-2 4 -2 3M2390 1892l3 2 3 3M2391 1896l1 4 4 2M2392 1900l2 4 5 1M2358 1877l0 -4 0 -5M2346 1872l-4 -2 -4 -2M2351 1885l-4 2 -4 2 -3 2M2346 1893l-2 4 -2 4 -1 4M2330 1890l-2 -4 -2 -4 -2 -4M2321 1888l-2 -3 -1 -5M2317 1889l-4 3 -4 1 -2 4M2365 1840l-1 -5 -2 -4 0 -4M2352 1829l-5 -1 -4 -2 -2 -3M2360 1846l4 -3 3 -3 3 -3M2364 1847l-4 0 -4 3 -3 3M2356 1844l-4 -1 -4 -2M2352 1830l-4 0 -3 3M2348 1828l-4 -2 -3 -3M2382 1857l4 -1 4 0M2379 1854l-4 -2 -5 -1M2384 1837l0 -4 3 -3M2384 1837l-3 -3 -3 -3"/><path stroke-width="1.00" d="M2426 1853l8 -4M2434 1850l-1 9M2435 1845l4 3M2429 1840l8 4M2425 1821l5 3M2422 1830l7 -6M2393 1864l-9 4M2402 1872l-2 8M2403 1875l-1 7M2404 1865l6 -3M2415 1845l0 -4M2390 1892l5 1M2358 1877l1 -8M2356 1885l-9 2M2343 1889l-3 -6M2344 1897l3 4M2334 1890l-3 5M2326 1882l2 -5M2313 1892l-1 8M2363 1836l2 -6M2359 1833l3 -7M2362 1827l1 -4M2343 1826l-7 7M2356 1844l-5 -2M2370 1837l4 -1M2356 1850l-7 6M2360 1833l-4 0"/></g><circle cx="1192.5" cy="933.8" r="3.5" fill="#000"/><g transform="scale(.5)" fill="none" stroke="#000" stroke-linecap="round" stroke-linejoin="round"><path stroke-width="3.50" d="M2280 1924l-2 3 -4 3 -3 3 -3 3 -2 4 -2 3 1 5M2280 1924l2 -4 0 -5 1 -4 3 -4 3 -3 2 -3 1 -5 2 -4M2280 1924l-3 2 -5 0 -4 -1 -4 -1 -4 -1 -5 -1 -2 -3M2280 1924l0 -5 0 -4 1 -5 0 -4 -1 -4 -1 -5 2 -4M2280 1924l-1 -5 -1 -4 -4 -2 -3 -4 -2 -4 -2 -3 -2 -5 -4 -2 -4 -1 -3 -4M2280 1924l4 -2 5 -1 4 -1 4 -3"/><path stroke-width="2.00" d="M2266 1940l1 4 2 4 1 4M2271 1933l-3 3 -4 1 -4 1 -5 -1M2265 1948l0 4 -2 4 -4 2 -2 4M2286 1907l-1 -4 1 -5 1 -4 1 -4M2294 1892l1 -4 1 -4 -1 -5M2264 1924l1 5 -1 4 -1 4 -1 5 0 4M2253 1919l-2 -4 -2 -4 -4 -2 -4 -2M2281 1906l1 -4 0 -5 2 -4 1 -4M2280 1902l4 -3 0 -5 -1 -4M2281 1893l3 -3 3 -3 4 0M2265 1897l-2 -3 -3 -3 -3 -4 -4 -2 -4 -2M2254 1890l-2 -3 -3 -3 -4 -3 -4 -1M2289 1921l1 -4 3 -3M2297 1917l1 -4 -1 -4"/><path stroke-width="1.50" d="M2268 1936l-9 3M2265 1948l-7 3M2292 1896l-6 -4M2292 1896l-7 -5M2268 1925l-6 2M2268 1925l5 4M2281 1906l-4 -5M2281 1906l-8 -5M2261 1895l-2 -4M2271 1909l10 1M2289 1921l3 5"/><path stroke-width="1.00" d="M2267 1944l-8 5M2269 1948l4 2 4 0M2270 1952l0 4 -1 5M2268 1936l-1 5M2264 1937l-4 1 -4 1M2255 1937l-4 -2 -4 -1M2257 1962l4 3M2263 1956l3 3 4 3M2257 1962l-5 1 -4 -1M2286 1898l-7 -2M2286 1898l-5 -1 -4 -2M2288 1890l1 -4 -1 -5M2295 1888l6 0M2296 1884l4 -1 5 1M2295 1879l1 -4 3 -3M2264 1933l-3 6M2264 1933l0 5 -1 4 -2 4M2264 1938l5 6M2264 1933l3 3 5 2 4 0M2267 1936l-5 6M2262 1946l3 3 -2 4M2245 1909l-3 -8M2249 1911l-4 2 -4 1M2249 1911l-5 -1 -4 0M2241 1907l-4 -1 -5 -2M2282 1897l6 4M2282 1897l4 2 5 1M2284 1893l3 -2 4 -3M2285 1889l0 -4 -1 -5M2283 1890l9 -5M2284 1894l1 -4 1 -4M2283 1890l-2 -4 -4 -2M2284 1890l-3 -7M2284 1890l4 1 4 0M2291 1887l2 -4 1 -5M2253 1885l-6 -7M2260 1891l2 -4 -1 -4M2249 1883l-4 0 -4 -1M2249 1884l-8 0M2252 1887l-4 -2 -4 -2M2241 1880l-4 0 -4 -3M2290 1917l4 -1 3 -4M2290 1917l4 -2 4 -1M2293 1914l4 0 4 2M2298 1913l2 -4 2 -3M2297 1909l4 -3 3 -3M2297 1909l-1 -4 -1 -5"/></g><circle cx="1140.2" cy="961.8" r="3.0" fill="#000"/><g transform="scale(.5)" fill="none" stroke="#000" stroke-linecap="round" stroke-linejoin="round"><path stroke-width="4.00" d="M2116 1980l4 -1 5 0 4 2 4 1 4 1 4 3 2 4 0 4 2 4 2 4 2 4M2116 1980l-4 -2 -4 -2 -3 -3 -1 -4 -4 -3 2 -5 2 -3 3 -4 2 -4 4 -2M2116 1980l3 3 3 4 -1 4 1 4 2 4 -1 5 1 4 0 4 1 5 -1 4M2116 1980l-4 -2 -4 -1 -4 -2 -3 -3 -5 0 -4 -2 -3 -2 -3 -3 -5 -2 -3 -2 -5 -1M2116 1980l-4 -1 -4 -2 -3 -3 -4 -2 -5 1 -4 1 -4 0 -5 -1 -4 0M2116 1980l0 -4 3 -4 4 -2 4 -2 4 1M2116 1980l-2 -4 -1 -4 -1 -4 -1 -5"/><path stroke-width="2.50" d="M2141 1986l-1 -5 -2 -3 -3 -3 -5 -1 -4 0 -4 1M2149 2006l4 1 3 3 4 2M2104 1969l-4 2 -4 3 -4 0 -4 0 -4 -3 -4 -1M2113 1948l2 -3 3 -3 4 -3 2 -4M2123 2004l1 -5 -1 -4 -1 -4 0 -5 -1 -4 -2 -4M2124 2021l0 4 -3 3 -1 5 -1 4M2096 1972l-4 -2 -4 -2 -1 -4 -2 -4 -3 -4 -1 -4M2073 1960l-4 -2 -4 0 -4 -1 -5 0M2096 1973l-4 -2 -4 -1 -4 -2 -4 -1M2079 1973l-4 -1 -5 1 -4 -1M2123 1970l-4 -2 -2 -4 1 -4M2131 1969l4 2 4 1M2113 1972l-2 -4 -1 -4M2111 1963l-2 -4 -4 -1"/><path stroke-width="2.00" d="M2133 1982l4 -5M2129 1981l1 -6M2129 1981l8 5M2104 1958l-4 -8M2104 1958l-2 6M2124 2021l4 -8M2119 1983l3 -7M2092 1970l-1 -6M2104 1975l-2 -8M2089 1968l-5 7M2083 1973l-1 -4M2105 1974l-6 7M2119 1972l-6 -1M2111 1963l-9 -3"/><path stroke-width="1.50" d="M2130 1974l3 -4 4 -3 1 -4 1 -4M2122 1975l-4 1 -4 2 -4 2M2156 2010l5 1 4 -1M2156 2010l4 -3 3 -3M2160 2012l5 1 4 1M2096 1974l-4 2 -4 0 -3 3 -4 1M2080 1970l-4 -1 -4 1M2122 1939l2 -3 3 -4M2124 1935l-1 -4 2 -4M2122 1986l4 1 4 1 5 -1M2123 1995l4 0 4 1 5 0 4 1M2119 1978l-2 -4 -1 -4M2124 2025l4 2 4 0M2121 2028l2 4 2 4M2119 2037l-2 4 -1 4M2085 1960l1 -4 4 -2M2081 1952l0 -4 3 -4M2065 1958l-2 -4 -4 -3M2056 1957l-3 -3 0 -5M2084 1968l-3 4 0 4 -2 4M2080 1967l-4 -3 -4 0M2070 1973l-4 2 -3 2M2075 1972l-5 -1 -4 -2M2066 1972l-3 -3 -2 -4M2117 1964l-4 2 -3 3M2118 1960l-2 -4 1 -5M2135 1971l4 -2 4 -3M2139 1972l5 -1 4 0M2111 1968l3 -3 1 -4M2110 1964l1 -5 0 -4M2109 1959l-1 -4 1 -4M2105 1958l-5 -1 -3 -3"/><path stroke-width="1.00" d="M2122 1975l9 -3M2139 1959l8 3M2118 1976l-2 4M2160 2012l-4 7M2096 1974l-5 -3M2085 1979l-6 -3M2115 1945l-4 -3M2122 1986l0 -4M2135 1987l5 8M2131 1996l2 -3M2119 2037l-7 6M2082 1956l-6 2M2065 1958l-10 1M2092 1971l3 7M2081 1972l-3 9M2070 1973l-5 5M2119 1968l-3 3"/></g><circle cx="1058.0" cy="990.0" r="4.0" fill="#000"/><g transform="scale(.5)" fill="none" stroke="#000" stroke-linecap="round" stroke-linejoin="round"><path stroke-width="3.50" d="M2407 1942l-3 -2 -3 -4 -3 -3 0 -4 -1 -5 -1 -4 0 -4 -1 -5M2407 1942l0 -4 3 -3 4 -2 4 -3 1 -4M2407 1942l2 -4 1 -4 1 -4 3 -3 1 -5 1 -4 1 -4M2407 1942l5 0 3 3 4 3 1 4 1 4 2 4 1 4 4 3M2407 1942l0 5 -1 4 0 4 0 5 -1 4 -4 3 0 4M2407 1942l-1 4 -3 4 -1 4 1 4 1 5 3 3 5 0M2407 1942l-4 1 -4 2 -4 -2 -3 -3 -2 -4 1 -5 0 -4"/><path stroke-width="2.00" d="M2398 1929l-4 2 -5 1 -4 2 -3 2M2395 1911l0 -4 2 -4 1 -4M2410 1935l-2 -4 0 -4 0 -5 3 -4M2419 1926l2 -4 4 -2M2415 1922l2 -4 3 -3 4 0 4 -2M2417 1914l2 -4 4 -2 4 -2M2420 1952l3 3 2 4 0 5 2 4 2 4M2428 1967l1 4 2 4 0 4M2406 1955l2 5 3 3 4 2 4 2M2406 1955l-3 3 -4 2 -4 1 -5 0M2401 1971l-1 5 -1 4 -2 4M2402 1954l-4 -1 -4 1 -5 -1 -4 -2M2412 1966l4 -1 1 -4 3 -4M2390 1936l-3 -4 -4 -1 -4 -1 -4 -2M2391 1927l1 -4 -2 -4"/><path stroke-width="1.50" d="M2398 1933l0 -8M2396 1916l0 -9M2419 1926l4 -3M2411 1930l-1 -5M2416 1918l1 -4M2415 1945l4 4M2421 1956l1 5M2406 1951l-10 3M2406 1960l-8 4M2412 1966l-5 3M2412 1966l7 4M2391 1931l-2 8M2395 1943l-4 -4"/><path stroke-width="1.00" d="M2394 1931l-3 -4M2385 1934l-2 -4 -4 0M2389 1932l-4 -1 -4 2 -1 5M2385 1931l1 -7M2382 1936l-2 4 -2 4M2395 1907l-6 -1M2397 1903l1 -4 1 -4M2395 1907l0 -4 -1 -5M2398 1899l0 -4 1 -5M2408 1922l1 -8M2408 1927l0 -5 1 -4M2408 1927l-4 -1 -4 -2M2411 1918l3 -2 4 -1M2421 1922l0 -4 -1 -4M2425 1920l4 1 3 3M2428 1913l-4 -4M2420 1915l4 -1 4 -1 4 0M2428 1913l7 7M2424 1915l0 -5 3 -3M2428 1913l4 2 5 1M2419 1910l-5 -8M2423 1908l-2 -4 -1 -4M2423 1908l5 -1 4 3M2427 1906l4 0 4 3M2423 1955l-2 7M2425 1964l5 0 3 3M2425 1964l4 -2 2 -4M2429 1972l4 2 3 3M2431 1979l-2 7M2431 1975l2 4 1 4M2431 1979l0 5 -2 4M2415 1965l9 0M2411 1963l4 1 4 2M2419 1967l2 3 4 3M2395 1961l2 7M2399 1960l-4 -2 -5 0M2390 1961l-1 -4 -3 -3M2397 1984l-7 0M2400 1976l-4 1 -4 0M2397 1984l-4 2 -3 3M2394 1954l-1 10M2389 1953l-4 1 -4 1M2385 1951l-4 -1 -4 -1M2416 1965l4 2M2417 1961l5 -1 4 0M2416 1965l1 -4 0 -5M2420 1957l4 -2 5 0M2375 1928l0 -4M2379 1930l-3 -4 -3 -3M2375 1928l-2 -4 0 -5M2392 1923l2 -4 2 -4M2390 1919l-4 -3 -4 -2"/></g><circle cx="1203.7" cy="971.2" r="3.5" fill="#000"/><g transform="scale(.5)" fill="none" stroke="#000" stroke-linecap="round" stroke-linejoin="round"><path stroke-width="3.50" d="M2407 2028l-1 4 -4 2 -5 1M2407 2028l-4 0 -4 2 -4 0 -5 -2 -4 -1M2407 2028l-4 -2 -2 -4 -2 -4M2407 2028l3 -4 0 -4 -1 -4 -2 -4M2407 2028l3 3 4 3 3 3 5 -1 3 -3 4 -2 4 -1"/><path stroke-width="2.00" d="M2402 2034l6 7M2406 2032l4 2 3 3M2397 2035l-4 -2 -4 0M2390 2028l-4 9M2399 2030l-4 -3 -4 -2 -4 -1M2386 2027l-4 -2 -1 -4M2399 2018l4 -4M2403 2026l1 -4 0 -5M2401 2022l3 -3 4 -1M2399 2018l3 -3 0 -5M2409 2016l4 -2M2410 2024l3 -3 4 -2M2407 2012l0 -5 2 -3M2417 2037l0 8M2410 2031l0 5M2425 2033l2 4 1 5 3 3M2422 2036l0 5 -4 2 -2 4 -2 4M2433 2030l4 1 3 4 4 1"/><path stroke-width="1.50" d="M2410 2034l3 3 4 1M2410 2034l-3 4 -4 2M2413 2037l4 1 5 0M2393 2033l-2 4 -1 5M2393 2033l-2 -3 -2 -4M2389 2033l-5 0 -4 -1M2391 2025l-1 -4 1 -4M2387 2024l-4 -2 -3 -3M2382 2025l-4 0 -4 -1M2381 2021l-4 -3 -1 -4M2404 2022l4 -3 4 -2M2404 2022l4 -2 2 -4M2404 2017l1 -4 1 -4M2404 2019l0 -5 3 -3M2404 2019l0 -5 1 -4M2408 2018l3 -3 3 -4M2402 2015l-3 -4 -2 -3M2402 2010l1 -4 4 -3M2413 2021l4 2 4 1M2417 2019l4 -2 4 0M2407 2007l-3 -3 -3 -3M2409 2004l-1 -5 -3 -3M2427 2037l4 3 3 3M2431 2045l3 3 4 2M2418 2043l-1 4 -2 4M2416 2047l5 0 4 -1M2414 2051l-4 2 -2 4M2440 2035l3 2 3 4M2440 2035l3 -4 0 -4M2444 2036l4 1 5 0"/><path stroke-width="1.00" d="M2395 2027l-5 2M2428 2042l1 9M2416 2047l-3 8M2440 2035l3 -4"/></g><circle cx="1203.7" cy="1014.0" r="3.0" fill="#000"/></g>
<g clip-path="url(#ec2)"><g transform="scale(.5)" fill="none" stroke="#000" stroke-linecap="round" stroke-linejoin="round"><path stroke-width="3.50" d="M2793 1651l4 0 5 1 4 1 4 1 5 1 4 1 4 2 4 2 2 4 0 4M2793 1651l-4 -3 -4 -1 -4 0 -4 3 0 4 2 4 -1 5 -1 4 -2 4 -4 2 -2 4M2793 1651l4 1 4 2 2 4 1 5 0 4 -1 4 -1 5 -3 3 -3 3 -3 3M2793 1651l-3 3 -4 2 -4 1 -4 3 -4 2 -4 0 -5 1 -3 2 -3 4 -3 3 -3 4M2793 1651l-2 4 -3 3 -2 4 -1 5 -1 4 -1 4 1 4 0 5"/><path stroke-width="2.00" d="M2797 1651l8 7M2829 1668l2 -5M2810 1654l1 4 3 3 3 3 3 4 3 3 0 5M2829 1668l-2 4 -4 3 -4 1 -3 3 -3 3M2778 1663l-3 -5M2777 1667l-4 -3M2785 1647l-2 8M2777 1654l-2 4 0 5 -2 4 -3 3 -2 4 0 4 0 5 -2 4M2769 1677l1 4 2 5 -1 4 0 4 2 5M2804 1667l3 -4M2799 1679l2 -4M2804 1663l0 4 0 4 1 5 1 4 -1 4M2793 1685l-2 4 -3 4 -2 3 -3 4 -1 4M2778 1660l-3 9M2782 1657l0 8M2786 1656l-4 8M2774 1662l-4 1 -3 3 -5 -1 -4 0 -4 0 -5 0 -4 0M2753 1676l-4 1 -3 3 -3 3 -3 3 -3 3 -4 2M2785 1667l2 6M2784 1671l-8 1M2786 1662l-4 1 -4 0 -5 -1 -3 -3 -4 -2M2784 1684l-1 4 -1 4 1 5"/><path stroke-width="1.50" d="M2820 1668l0 4 2 4 2 4 4 1M2817 1664l5 0 4 -2 4 0 4 -2M2823 1676l-1 4 -1 4M2816 1679l1 4 2 4M2813 1682l1 5 2 3 3 4M2773 1667l-4 -1 -5 0 -4 0 -4 -1 -5 -2M2773 1667l-4 0 -5 1 -4 1 -4 1 -5 0M2766 1687l1 4 0 4M2771 1694l-3 4 -2 4 0 4 -3 3M2771 1694l-3 -2 -3 -3 -4 -3M2773 1699l3 3 4 2M2804 1671l4 0 5 0M2805 1684l-2 4 -2 4M2786 1696l-4 3 -4 1 -4 0M2782 1704l-3 4 -1 4M2754 1665l-4 -2 -4 1 -5 0M2745 1665l-4 -2 -4 -3 -3 -3M2740 1686l-5 0 -4 1 -4 0 -5 0M2740 1686l-5 -1 -4 -2 -4 -1 -4 -2 -4 -1M2733 1691l-4 1 -4 3M2773 1662l-3 3 -5 0 -4 -2M2766 1657l-5 1 -4 1M2783 1688l1 4 0 5M2783 1697l-1 4 -1 4"/><path stroke-width="1.00" d="M2811 1658l-1 10M2828 1681l-6 8M2826 1662l2 -8M2819 1676l6 2M2814 1687l2 7M2775 1658l-1 5M2770 1670l-2 6M2760 1666l-4 7M2751 1670l-7 -3M2770 1681l4 8M2768 1698l2 5M2761 1686l-3 5M2805 1684l-1 9M2786 1696l-6 -1M2782 1699l-6 6M2762 1665l-9 3M2749 1665l-8 4M2746 1664l2 -7M2741 1663l-5 6M2746 1680l-4 -3M2731 1687l-5 -4M2719 1679l-2 7M2766 1657l-4 5M2770 1665l-9 -4M2782 1692l7 5"/></g><circle cx="1396.5" cy="825.5" r="3.5" fill="#000"/><g transform="scale(.5)" fill="none" stroke="#000" stroke-linecap="round" stroke-linejoin="round"><path stroke-width="3.50" d="M2673 1752l0 -4 -1 -5 -1 -4 -2 -4 -1 -4 -2 -4M2673 1752l4 -2 4 -3 4 0 4 3 3 3 2 4 4 3 4 0M2673 1752l4 2 2 4 3 3 5 2 4 0 4 1M2673 1752l-2 3 -2 5 -2 3 -4 3 -4 1 0 5M2673 1752l-4 -2 -3 -2 -2 -4 0 -5 3 -3 4 -3 0 -4M2673 1752l-2 -4 -1 -4 -4 -3 0 -4 -1 -4 1 -5"/><path stroke-width="2.00" d="M2669 1735l5 -1M2671 1739l-4 -3 -3 -3 -4 -2 -3 -3M2666 1727l0 -5 0 -4 -3 -4M2694 1757l-2 -6M2694 1757l1 -7M2692 1753l4 2 3 3 4 3 4 1 4 2 4 0M2702 1760l4 1 4 2M2687 1763l6 -2M2687 1763l1 4 1 4 1 4 3 4M2695 1764l5 -1 4 0 4 0M2671 1755l-4 4M2663 1766l3 3 5 1 4 2 4 -1M2659 1772l3 3 2 4 2 4M2671 1729l-2 5M2664 1739l-7 5M2664 1744l-5 0 -3 -3 -3 -3 -5 0M2671 1729l4 -2 4 -2M2671 1748l-9 -2M2666 1737l1 -4 0 -5 0 -4M2666 1728l0 -4 0 -4 -1 -5"/><path stroke-width="1.50" d="M2664 1733l4 -2 4 1M2657 1728l0 -4 0 -5M2666 1718l-4 -2 -5 -1M2663 1714l-3 -2 -3 -4M2699 1758l4 2 4 1 5 -1 3 3M2715 1764l3 3 4 3 1 4M2706 1761l4 3 2 4M2706 1761l3 4 3 3M2710 1763l4 2 5 0M2689 1771l2 4 3 4M2693 1779l1 4 -1 4M2704 1763l2 -4 2 -4M2708 1763l5 -1 4 -1M2671 1770l2 3 3 4M2679 1771l5 1 4 0M2662 1775l4 1 4 -2M2664 1779l2 4 1 4M2666 1783l-1 4 1 5M2656 1741l-4 -1 -5 0M2648 1738l-3 2 -3 3M2675 1727l2 -4 3 -3M2675 1727l0 -4 -2 -4M2679 1725l4 -2 4 -3M2667 1733l-2 -4 -2 -4M2667 1728l-4 -1 -4 0M2667 1724l0 -5 0 -4M2666 1720l2 -4 4 -2M2666 1724l-1 -4 -2 -4M2665 1715l2 -4 -3 -4"/><path stroke-width="1.00" d="M2667 1736l-6 2M2666 1718l-9 0M2715 1764l8 4M2715 1763l2 -8M2718 1767l3 -5M2690 1775l-6 8M2700 1763l1 7M2675 1772l-4 6M2666 1783l-4 8M2648 1738l-4 5M2667 1724l7 -7M2665 1715l6 0"/></g><circle cx="1336.7" cy="876.0" r="3.5" fill="#000"/><g transform="scale(.5)" fill="none" stroke="#000" stroke-linecap="round" stroke-linejoin="round"><path stroke-width="3.50" d="M2879 1722l3 3 3 3 4 3 3 3 4 0 5 1 4 1 4 2 4 0 3 4M2879 1722l-4 -2 -4 -1 -5 -1 -3 -3 -3 -3 -4 -2 -1 -4 -2 -4 -3 -4M2879 1722l-1 4 0 5 0 4 -1 5 -1 4 -2 3 -4 3 -3 2 -1 5M2879 1722l0 -4 0 -5 1 -4 -2 -4 -1 -4 -2 -5 0 -4 -3 -4M2879 1722l-2 4 0 4 0 5"/><path stroke-width="2.00" d="M2896 1734l-4 2 -4 1 -4 2 -3 3M2901 1735l0 4 -1 4 -1 5 -1 4 -2 4 -1 4M2916 1742l2 3 2 4 3 4 4 -1 5 -1M2866 1718l-1 -4 -1 -5 -2 -3 -3 -4M2850 1698l-3 -3 -2 -4 -2 -3 -5 -2M2877 1740l5 -1 4 -1 4 -2 4 -2 4 -2 4 -2M2866 1757l-1 4 0 4 2 5 3 3 4 2M2880 1709l3 -3 3 -3 4 -2 4 -1M2877 1701l-3 -4 -3 -3 -3 -3 -4 -2 -5 1M2872 1688l-4 -2 -4 1 -4 2M2877 1730l-4 -1 -4 -3M2877 1735l-2 4 -3 3"/><path stroke-width="1.50" d="M2909 1738l4 8M2913 1738l5 4M2850 1698l-7 -1M2871 1719l-5 2M2874 1747l3 4M2878 1735l-7 2M2879 1718l6 -3M2880 1709l7 -6M2877 1726l-3 -8"/><path stroke-width="1.00" d="M2888 1737l0 5M2888 1737l-4 0 -4 2M2881 1742l-4 0 -5 -1M2896 1756l-10 -2M2899 1748l-4 0 -4 -2 -3 -3M2895 1748l-3 -6M2895 1760l-1 4 -4 3M2918 1745l6 -3M2920 1749l1 4 0 5M2932 1751l4 0 4 -2M2865 1714l-4 1M2862 1706l-2 -5 0 -4M2859 1702l-3 -3 -3 -3M2847 1695l-1 -7M2847 1695l-4 2 -4 2M2838 1686l-2 -3 -3 -4M2894 1734l0 9M2890 1736l4 0 4 2 3 3M2901 1741l3 -6M2902 1730l3 -3 1 -4M2865 1761l-7 6M2867 1770l-2 3 -3 4M2865 1765l1 5 1 4 -1 4M2866 1770l-6 1M2874 1775l4 1 4 2M2883 1706l-2 -10M2886 1703l2 -4 -2 -4 -2 -3M2884 1692l-8 -4M2894 1700l4 -2 4 -3M2859 1690l4 -7M2868 1691l-4 -2 -5 1 -4 0M2855 1690l1 -8M2859 1690l-4 1 -4 -1M2864 1687l3 -4M2868 1686l2 -4 -2 -3M2868 1686l-4 -1 -4 -2M2860 1689l-4 -1 -5 -1M2873 1729l-3 -3 -2 -4M2873 1729l-3 -4 -3 -2M2869 1726l-1 -4 0 -5M2875 1739l-1 4 -2 4M2875 1739l-4 2 -2 4M2872 1742l-4 2 -3 3"/></g><circle cx="1439.4" cy="861.0" r="3.0" fill="#000"/><g transform="scale(.5)" fill="none" stroke="#000" stroke-linecap="round" stroke-linejoin="round"><path stroke-width="4.50" d="M2748 1823l1 -4 2 -5 2 -3 4 -2 5 0 3 -4 2 -4 -1 -4 -2 -4 -4 -2 -3 -3M2748 1823l-4 0 -4 2 -4 3 -2 4 1 4 -1 5 -1 4 -1 4 -2 4 -2 4M2748 1823l-1 -5 -1 -4 1 -4 0 -4 1 -5 2 -4 4 -3 2 -4M2748 1823l-4 2 -2 4 -5 1 -4 2 -4 1 -4 1 -4 1 -5 0 -4 2 -4 2M2748 1823l4 -1 5 0 4 0 4 1 5 -1 4 1"/><path stroke-width="3.00" d="M2757 1809l1 -4 2 -4 -1 -4 1 -5 3 -3 3 -3 2 -4M2757 1788l0 -5 2 -4 2 -3M2733 1845l0 4 2 4 -1 5 -1 4 -3 3M2728 1857l-2 4 0 4 -3 3 -4 3M2750 1797l-1 -4 -1 -4 1 -4M2748 1801l-1 -4 0 -4 2 -4 0 -5 1 -4M2756 1790l3 -2 4 -2 4 -2 5 1M2729 1833l0 4 2 4 2 4 5 2 4 1M2729 1833l-4 2 -3 3 -3 3 -5 1 -3 2 -4 3M2708 1839l-3 3 -3 3 -2 4 -2 4 -1 4M2761 1822l4 -2 5 0 4 0 4 0M2774 1823l4 1 4 -1"/><path stroke-width="2.50" d="M2749 1819l5 -2M2764 1793l7 0M2764 1793l-5 -6M2734 1832l-7 0M2734 1841l-8 -1M2748 1801l5 1M2747 1806l-3 -8M2733 1832l-7 -1M2721 1835l-5 0M2765 1823l6 -3"/><path stroke-width="1.50" d="M2768 1782l-5 -4M2763 1789l-5 -2M2760 1792l-2 -3 -2 -4 -4 -3 -4 -2 -4 -1M2768 1782l2 -4 3 -3 4 -2M2761 1776l8 -2M2759 1779l-3 -3 -4 -3M2759 1779l-4 -1 -4 -2M2761 1776l2 -4 2 -4M2733 1862l-5 6M2734 1858l-3 3 -3 3M2730 1865l0 5 1 4M2726 1861l2 7M2726 1865l0 5 -1 4M2719 1871l-4 2 -4 1M2749 1793l8 -3M2748 1789l-3 -4 -2 -3M2748 1789l0 -4 1 -5M2749 1785l1 -4 0 -5M2749 1784l6 -7M2747 1793l-2 -5 1 -4M2750 1780l2 -4 1 -4M2759 1788l-1 -5M2767 1784l5 0 4 -2M2772 1785l4 1 4 2M2731 1841l6 4M2731 1841l-3 3 -4 2M2742 1848l4 2 1 4M2707 1847l-7 -1M2722 1838l-4 1 -4 0 -5 2 -3 3M2714 1842l-4 0 -4 0 -4 -2 -4 -1M2707 1847l-4 1 -4 2M2700 1849l-4 4M2702 1845l-1 -4 -4 -2M2697 1857l0 4 0 5M2765 1820l4 -5M2765 1820l3 -3 4 -2M2770 1820l2 -4 0 -4M2778 1820l5 0 3 3M2778 1824l2 -3 3 -4M2782 1823l4 3 4 2"/><path stroke-width="1.00" d="M2744 1779l-6 -4M2777 1773l-2 -7M2718 1839l-3 10M2698 1839l-4 -6"/></g><circle cx="1374.0" cy="911.4" r="4.0" fill="#000"/><g transform="scale(.5)" fill="none" stroke="#000" stroke-linecap="round" stroke-linejoin="round"><path stroke-width="4.00" d="M2599 1901l0 5 0 4 -1 4 -3 4 -4 1 -2 4 -3 4 -3 3M2599 1901l-1 -4 -3 -4 -3 -3 -4 -2 -2 -4 -2 -3 -1 -5 0 -4M2599 1901l-3 4 -2 4 -2 3 -2 4 0 5 -1 4 -4 2 -3 3 -2 4M2599 1901l-4 -1 -5 -1 -4 -1 -4 -1 -3 -3 -2 -5 0 -4 1 -4 4 -3M2599 1901l-3 4 -4 2 -3 2 -1 5 0 4 2 4"/><path stroke-width="2.50" d="M2598 1914l5 1 4 2 3 3 1 5 0 4 -1 4M2583 1930l-3 3 -2 4 0 4 -1 5 -1 4M2592 1890l-4 -2 -4 -2 -4 -1 -3 -3 -3 -4 -3 -3M2583 1872l2 -4 0 -4 0 -5M2592 1912l3 3 0 5 0 4 -3 3 -4 3 -4 1M2589 1925l-1 4 -3 3 -3 4 -4 1M2580 1934l-1 4 -2 5 1 4 4 2M2582 1897l-4 -1 -5 0 -4 1 -3 3 0 5M2579 1894l1 -5 1 -4 0 -4 -2 -4 -1 -5 1 -4M2582 1878l4 1 4 -2 4 -2 4 1M2588 1914l-3 3 -2 3 -3 4M2590 1922l-1 5 -3 3 -4 1"/><path stroke-width="2.00" d="M2598 1914l-1 10M2586 1927l0 6M2584 1881l6 -8M2584 1881l-7 -6M2594 1909l-4 9M2589 1925l4 2M2582 1897l-9 -3M2595 1900l4 -6M2588 1918l-5 6"/><path stroke-width="1.50" d="M2610 1920l4 0 4 1 5 1 3 2M2610 1933l-1 4 -2 4M2578 1937l-2 4 -1 4 0 4M2578 1937l-1 4 -2 4M2576 1950l0 4 0 4M2577 1882l-4 1 -3 3 -5 0M2571 1875l-2 -3 -1 -5M2585 1864l3 -4 0 -4M2585 1859l0 -4 0 -5M2595 1924l-4 2 -4 3 0 4 -2 4M2584 1931l-4 2 -3 3M2588 1929l-2 4 2 5M2582 1936l-3 2 -4 3 -5 0M2578 1937l-4 0 -5 -1M2578 1947l-1 4 2 4 3 4M2578 1947l-3 3 -3 3M2582 1949l4 0 5 2M2569 1897l-3 3 -4 3 -2 4M2569 1897l-4 0 -4 -2 -5 -1M2566 1905l-2 4 1 4M2581 1885l4 0 4 -1 4 2M2579 1868l0 -4 0 -5 0 -4M2590 1877l3 3 3 3M2590 1877l3 -3 3 -3M2598 1876l0 4 0 5M2585 1917l-5 0 -4 -1M2580 1924l-1 4 0 5M2586 1930l4 1 4 1M2582 1931l-4 3 -4 0"/><path stroke-width="1.00" d="M2607 1917l4 -4M2623 1922l3 7M2576 1950l1 8M2575 1945l-7 -3M2571 1875l-7 4M2570 1886l-5 7M2585 1868l7 1M2595 1924l7 4M2591 1926l4 6M2578 1937l4 2M2575 1941l-7 -6M2578 1947l3 4M2579 1955l4 4M2566 1905l-1 -5M2560 1907l-3 -4M2556 1894l-3 6M2580 1889l6 -2M2593 1886l4 4M2579 1864l-7 -2M2594 1875l4 4M2585 1917l1 9M2586 1930l8 -1"/></g><circle cx="1299.4" cy="950.6" r="3.5" fill="#000"/><g transform="scale(.5)" fill="none" stroke="#000" stroke-linecap="round" stroke-linejoin="round"><path stroke-width="3.50" d="M2800 1898l3 -4 1 -4 1 -5 2 -3 1 -4 1 -5 -1 -4 -2 -4 0 -4M2800 1898l3 -4 2 -4 2 -4 0 -4 -2 -4 -2 -3 -3 -4 -2 -4M2800 1898l3 3 5 1 3 3 4 2 3 3 2 4 1 4M2800 1898l1 4 -2 4 -3 3 -3 3 -3 3 -5 1 -4 -1 -4 -1 -3 -4M2800 1898l-3 -4 -1 -4 -2 -4 -1 -4"/><path stroke-width="2.00" d="M2804 1890l-7 -4M2804 1890l4 -2M2808 1878l4 -2 5 0 4 0 4 -3 1 -4 1 -4M2806 1861l-2 -5 -1 -4M2800 1871l9 4M2800 1871l7 6M2807 1882l4 3 3 2 4 1M2798 1867l-3 -3 -2 -4 -2 -4M2818 1910l0 5M2820 1914l3 8M2815 1907l4 -2 4 -2 1 -4 -1 -5M2811 1905l5 -1 4 2 4 0M2821 1918l0 5 2 4M2796 1909l9 2M2777 1914l-6 8M2796 1909l0 4 3 4 3 3 5 0M2774 1910l-2 -4 0 -4 2 -4M2793 1882l-2 -5M2794 1886l-4 1 -4 2M2793 1882l-3 -4 -2 -3"/><path stroke-width="1.50" d="M2817 1876l0 -4 -1 -5 -1 -4M2827 1865l-1 -4 -2 -5M2804 1856l-4 -1 -4 -2M2803 1852l-4 -2 -4 2M2814 1887l3 -3 3 -3M2814 1887l4 -2 3 -3M2818 1888l1 5 1 4M2795 1864l-4 -2 0 -4M2791 1856l-1 -4 0 -5M2824 1899l4 2 3 4M2819 1905l4 -2 4 -1M2823 1894l-2 -3 -2 -4M2816 1904l4 2 4 2M2816 1904l2 -3 3 -4M2824 1906l4 2 5 1M2823 1927l0 4 -1 4M2823 1927l-3 3 -3 -3M2799 1917l3 3 3 3M2799 1917l1 4 1 5M2807 1920l4 0 5 0M2772 1902l-4 -2 -4 0M2774 1898l-2 -4 -2 -4M2790 1887l-4 3 -4 1M2786 1889l-1 4 0 5M2790 1878l0 -4 2 -4M2788 1875l-4 -1 -2 -4"/><path stroke-width="1.00" d="M2817 1876l3 3M2816 1867l-3 -7M2814 1887l5 -2M2793 1860l4 -4M2823 1903l3 3M2820 1906l3 -6M2799 1917l5 8M2774 1898l3 -9"/></g><circle cx="1400.2" cy="948.8" r="3.0" fill="#000"/><g transform="scale(.5)" fill="none" stroke="#000" stroke-linecap="round" stroke-linejoin="round"><path stroke-width="3.50" d="M2800 2002l3 3 5 0 4 -2 1 -4 2 -4 3 -3 3 -3M2800 2002l-1 4 2 4 3 4 4 1M2800 2002l-4 0 -4 -1 -5 0 -3 3 -2 4 -1 4 -2 4 -3 4M2800 2002l-2 -4 -3 -3 -2 -4 1 -4 1 -4 2 -4M2800 2002l2 -4 4 -2 3 -4"/><path stroke-width="2.00" d="M2813 1999l4 -1 4 2 3 3M2821 1989l2 -4 1 -5M2801 2010l3 3 1 5M2808 2015l4 1 4 -2M2784 2004l-1 -4 -1 -5 0 -4 2 -4 2 -4M2776 2020l1 4 -1 4 0 4M2793 1991l0 -4 1 -5 3 -3M2795 1995l1 -4 0 -4 2 -4 4 -2M2797 1979l4 -2 4 -2 1 -5M2806 1996l3 -4 2 -4M2809 1992l2 -3 1 -5"/><path stroke-width="1.50" d="M2821 1989l4 -5M2803 2005l1 5M2799 2006l-5 2M2796 2002l-3 -6M2787 2001l-2 -7M2794 1987l-6 0M2806 1996l-1 -6"/><path stroke-width="1.00" d="M2821 2000l5 -7M2817 1998l4 1 5 -1M2821 2000l1 -5 -1 -4M2824 2003l3 2 4 3M2823 1985l-1 -4 -3 -3M2824 1980l-3 -3 -4 -2M2804 2013l-1 5 0 4M2804 2013l4 0 5 -1M2805 2018l-2 3 0 4M2812 2016l4 1 4 -2M2816 2014l4 0 4 1M2784 1987l3 -6M2782 1995l-1 -4 -1 -4 -2 -4M2781 1991l-8 -2M2782 1995l-4 -2 -2 -3M2786 1983l4 -3 4 -1 4 0M2798 1979l-4 -2M2776 2028l-10 -1M2776 2028l1 4 3 3M2776 2032l-1 5 -1 4M2793 1987l5 -4M2794 1982l4 -1 4 0M2794 1982l-2 -3 -3 -4M2797 1979l-2 -4 1 -4M2798 1983l6 -5M2796 1987l-2 -4 -3 -4 -2 -4M2789 1975l1 -5M2796 1987l-5 -1 -4 1M2802 1981l3 -4 3 -3M2806 1970l5 1M2805 1975l2 -4 3 -4M2806 1970l3 -3 2 -3M2809 1992l3 -3 1 -4M2809 1992l4 0 4 -1M2811 1988l3 -3 4 -3M2811 1989l5 0 4 -1M2812 1984l-1 -4 2 -4"/></g><circle cx="1400.2" cy="1001.0" r="3.0" fill="#000"/><g transform="scale(.5)" fill="none" stroke="#000" stroke-linecap="round" stroke-linejoin="round"><path stroke-width="2.50" d="M2931 2006l3 4 -1 4 1 4 0 5 -1 4 0 4 0 5M2931 2006l-2 -3 -2 -5 -1 -4 -1 -4 -1 -4 0 -5 -1 -4 -1 -4M2931 2006l4 1 4 2 4 2 4 2 4 1 4 2 4 2 5 1 3 3M2931 2006l-1 -4 -4 -3 -4 -1 -3 -3 -3 -3 -4 -2 -4 -2 -4 -2 -3 -4"/><path stroke-width="1.50" d="M2934 2018l-6 5M2933 2014l-3 10M2934 2018l4 2 4 2 4 0 4 2M2934 2023l3 2 4 3 4 0M2933 2036l-4 3 -4 2 -4 1M2922 1973l-8 0M2924 1981l-6 -3M2925 1990l4 -2 2 -4 1 -4 0 -5 2 -4M2922 1973l0 -5 0 -4M2943 2011l7 -6M2947 2013l8 -3M2947 2013l5 0 4 0 5 0 3 -2M2967 2022l4 1 5 -1M2916 1992l7 -6M2916 1992l4 -8M2916 1992l-4 -3 -4 -2 -3 -3 2 -4M2901 1982l-1 -4 -2 -4"/><path stroke-width="1.00" d="M2946 2022l8 -3M2942 2022l4 -2 3 -3M2950 2024l5 0 4 -1M2937 2025l1 4M2937 2025l5 0 3 -2M2941 2028l2 4 0 4M2945 2028l5 -1 4 1M2925 2041l0 5M2925 2041l-3 2 -3 3M2929 2039l0 4 0 4M2921 2042l-4 -1 -4 -2M2932 1975l6 1M2931 1984l-2 -4 -2 -4 -1 -4M2926 1972l4 -4M2932 1980l1 -4 2 -5 1 -4M2936 1967l-8 -1M2934 1971l3 -2 4 -3M2922 1968l-4 -1 -3 -2M2922 1968l4 -2 4 -2M2922 1964l0 -4 0 -5M2961 2013l5 -5M2956 2013l4 -1 5 0M2964 2011l3 -3 3 -3M2971 2023l1 4 -1 5M2976 2022l4 -2 4 1M2907 1980l2 -9M2908 1987l-2 -4 -2 -3M2907 1980l-1 -5 -2 -4M2900 1978l-4 -2 -3 -3M2900 1978l-4 3 -3 2M2898 1974l-2 -4 -3 -3"/></g><circle cx="1465.6" cy="1003.0" r="2.0" fill="#000"/></g>
<g clip-path="url(#ec3)"><g transform="scale(.5)" fill="none" stroke="#000" stroke-linecap="round" stroke-linejoin="round"><path stroke-width="4.00" d="M3358 1673l-3 4 0 4 1 5 3 3 3 3 3 3 1 4M3358 1673l-5 1 -2 4 -4 2 -4 0 -4 2 -5 1 -4 0 -4 -2 -4 -2M3358 1673l-5 -1 -3 -3 1 -4 2 -4 3 -3 4 -1 5 -1 3 -4 3 -3M3358 1673l2 -3 4 -3 2 -4 -2 -4 -1 -4M3358 1673l2 -3 2 -4 2 -4 4 -2 4 -2 4 -1 3 -3 2 -4 1 -4M3358 1673l2 4 3 4 -2 4 -3 3 -4 1 -4 -2 -1 -4 1 -5 1 -4"/><path stroke-width="2.50" d="M3359 1689l0 4 0 5 0 4 3 3 4 3M3366 1699l2 4 1 4 4 3M3343 1680l-4 -3 -4 -1 -3 -3 -4 -2 -4 -3 -4 -1M3322 1679l-5 1 -4 0 -4 1M3351 1665l0 -4 2 -4 3 -4 4 -1 5 0 4 0M3360 1657l-2 -4 -2 -4 -3 -3 -3 -3M3371 1649l2 -4 3 -2 4 -2 5 -1M3364 1667l3 -3 3 -3 3 -3M3363 1655l3 -3 3 -4 3 -3M3372 1658l3 -3 2 -4 1 -4 2 -4 2 -4M3372 1658l2 -4 2 -4 4 -1 4 2 3 4 4 1M3382 1646l1 -5 -1 -4M3358 1688l-3 3 1 5 1 4 -1 4 3 4M3351 1674l-3 -4 -1 -4"/><path stroke-width="2.00" d="M3362 1692l-8 -5M3365 1695l-4 0M3334 1683l-4 3M3326 1681l-4 -4M3371 1649l-1 -4M3353 1661l-5 2M3363 1655l6 0M3362 1666l3 9M3360 1670l7 5M3351 1674l8 1M3360 1677l-4 4"/><path stroke-width="1.50" d="M3359 1698l4 -3 3 -3 4 0M3366 1708l4 2 4 -1M3369 1707l-2 4 -1 5M3373 1710l3 3 3 3M3332 1673l-3 -4 -1 -4 -2 -4M3320 1667l-4 -1 -5 1 -4 1M3317 1680l-4 -1 -3 -3M3309 1681l-4 1 -5 2M3356 1653l0 -4 0 -4 -1 -5 -1 -4M3369 1652l4 1 4 -1M3353 1646l-4 -2 -3 -3M3350 1643l-2 -4 -1 -4M3380 1641l-1 -4 0 -4M3376 1643l4 -3 3 -2M3385 1640l2 4 2 4M3367 1664l4 -1 4 -1M3373 1658l1 -4 2 -4M3369 1648l-4 -2 -2 -4M3372 1645l3 3 5 1M3377 1651l4 0 4 2 4 2M3382 1639l-1 -4 -3 -4 -5 0M3376 1650l4 2 4 1 4 3 3 3M3391 1656l4 3 3 2M3383 1641l3 -3 3 -3M3382 1637l-3 -3 -3 -3M3356 1696l4 -2 4 -2 3 -3M3359 1708l2 4 0 4M3348 1670l0 -4 0 -4M3347 1666l-2 -4 -1 -4"/><path stroke-width="1.00" d="M3359 1693l-7 4M3366 1692l-2 7M3369 1707l-1 6M3335 1676l-3 3M3326 1661l6 -6M3311 1667l1 -7M3313 1680l-3 -6M3365 1652l4 -1M3354 1636l-4 -6M3350 1643l-9 -3M3380 1641l-6 -7M3370 1661l-3 -7M3372 1645l5 -6M3380 1643l8 -1M3389 1655l3 5M3378 1631l-5 -1M3391 1656l-2 -5M3384 1653l2 6M3356 1704l-5 1M3367 1689l-3 9"/></g><circle cx="1678.8" cy="836.7" r="3.5" fill="#000"/><g transform="scale(.5)" fill="none" stroke="#000" stroke-linecap="round" stroke-linejoin="round"><path stroke-width="4.00" d="M3227 1793l4 0 5 1 4 -2 4 -1 4 0 4 2 4 2 4 -1 4 -2 5 1 3 3M3227 1793l4 1 3 4 3 3 3 3 3 3M3227 1793l2 4 4 2 3 3 4 2 3 3 4 3 4 0 4 -1M3227 1793l-2 4 -5 0 -4 -2 -3 -2 -4 -3 -3 -3 0 -5 -1 -4 -1 -4 -3 -3M3227 1793l-4 -2 -4 -3 -4 0 -4 -1M3227 1793l0 -4 0 -5 -1 -4 2 -4 3 -3"/><path stroke-width="2.50" d="M3256 1795l2 -4 2 -4 4 -3 3 -3 3 -3 1 -4M3252 1793l-1 -5 -1 -4 0 -4 0 -5 0 -4M3272 1796l4 -3 2 -4 3 -3 0 -4 0 -5M3237 1801l4 0 5 -1M3243 1807l3 3 5 0M3240 1804l3 3 5 1 4 2 4 2 4 -1M3236 1802l-2 3 0 5 -1 4 -2 4M3255 1809l3 -3 2 -4 2 -4M3213 1793l-2 4 -2 3 -3 4 -2 4 -2 4 -1 4 -2 4M3201 1771l-4 -2 -4 -1 -5 -1M3219 1788l-4 0 -4 -2 -4 -2M3211 1787l-5 -1 -4 -2M3226 1780l2 -4 1 -4 0 -5M3226 1780l2 -4 2 -4 2 -4M3231 1773l4 -2 4 -3 3 -2"/><path stroke-width="2.00" d="M3272 1796l7 6M3272 1796l5 6M3236 1794l4 3M3240 1804l8 -4M3243 1807l5 2M3236 1802l9 4M3209 1790l-1 9M3205 1778l-3 -2M3223 1791l-8 2M3228 1776l-10 -3"/><path stroke-width="1.50" d="M3264 1784l-2 -4 -3 -3 -2 -4M3271 1774l-1 -5 -2 -4M3250 1780l-1 -4 1 -5 2 -4M3250 1771l1 -4 -2 -4M3278 1789l3 3 4 1M3281 1777l0 -4 -3 -4M3241 1801l5 -1 4 -1M3246 1800l4 -1 4 -2M3246 1810l5 0 4 -2M3246 1810l5 1 4 0M3251 1810l4 -2 4 -1M3252 1810l4 1 3 3M3248 1808l-2 4 -3 3 -1 4M3260 1811l4 1 4 2M3234 1810l1 4 -2 4 -1 4M3231 1818l-2 3 -2 5M3260 1802l4 1 4 -2M3262 1798l0 -4 0 -5M3202 1812l1 4 0 4 0 5M3204 1808l1 4 1 4 1 4M3199 1820l-3 3 -3 3 -3 3M3197 1769l-3 -4 -4 -2M3193 1768l-3 -3 -4 -3M3188 1767l-4 2 -4 -2M3211 1786l-2 4 -2 4M3207 1784l-3 -3 -5 1M3206 1786l-1 -4 -1 -4M3206 1786l-4 2 -4 -1M3202 1784l-3 -2 -3 -4M3228 1776l4 -1 4 -2M3229 1767l0 -4 2 -4M3228 1776l4 -3 2 -3M3228 1776l5 -1 4 -2M3232 1768l3 -3 4 -3M3239 1768l-1 -4 1 -4M3242 1766l0 -5 0 -4"/><path stroke-width="1.00" d="M3270 1778l9 -1M3259 1777l8 -4M3250 1780l-3 -6M3250 1771l3 -9M3276 1793l3 7M3256 1812l-1 8M3242 1819l-8 4M3231 1818l2 7M3235 1814l-6 3M3260 1802l2 5M3206 1804l7 4M3209 1800l6 8M3203 1816l-4 8M3206 1816l-7 5M3193 1826l0 9M3188 1767l-4 5M3207 1784l-4 -6M3228 1776l-4 -6M3228 1776l5 -2M3242 1766l-3 -8"/></g><circle cx="1613.4" cy="896.5" r="4.0" fill="#000"/><g transform="scale(.5)" fill="none" stroke="#000" stroke-linecap="round" stroke-linejoin="round"><path stroke-width="5.00" d="M3324 1827l4 1 4 -1 4 -1 5 -2 3 -2 3 -4 -2 -4 -1 -4 -2 -4M3324 1827l-3 -3 -2 -4 -3 -3 -3 -4 -4 -2 -4 -1 -4 0 -5 1 -3 2M3324 1827l3 3 2 4 3 3 4 2 1 4 2 4 0 5 -2 4 -2 3M3324 1827l-3 -4 -3 -3 -4 -1 -4 -3 0 -4 -1 -5 -1 -4 1 -4 2 -4 1 -4M3324 1827l-3 3 -1 4 -4 3 -4 2"/><path stroke-width="3.00" d="M3341 1824l1 4 0 5 3 3 3 3M3347 1818l4 1 4 1 3 3 2 4 1 4M3342 1806l-2 -4 -1 -4 -1 -5 -1 -4M3313 1813l-4 1 -4 0 -5 0 -4 0 -4 2 -3 3M3293 1813l-5 0 -4 -1 -5 1 -4 0M3336 1839l2 4 2 4 5 1 4 0 4 -2 3 -3M3335 1859l-3 3 -2 4 -2 4 -3 3 -1 4M3310 1816l-1 -4 -3 -4 -4 -1 -4 -1 -4 -3M3312 1791l1 -5 2 -4 1 -4 3 -3M3316 1837l-4 1 -2 4M3316 1837l1 4 1 4 4 2M3312 1839l-4 1 -4 0"/><path stroke-width="2.50" d="M3345 1814l-2 4M3344 1822l-2 4M3319 1820l-7 -1M3321 1824l-1 -9M3339 1847l5 -4M3337 1843l4 7M3309 1799l-10 -3M3310 1816l1 -9M3321 1830l4 9"/><path stroke-width="2.00" d="M3342 1828l2 5 -1 4 -3 3M3348 1839l4 2 5 1M3358 1823l4 0 4 -2M3355 1820l3 -4 2 -4 3 -3M3361 1831l4 2 3 4 3 2M3339 1798l-3 -4 -3 -2 -2 -4M3337 1789l-1 -4 -2 -4M3296 1814l-5 -1 -4 0 -4 1M3289 1819l-4 2 -2 4 -4 2M3284 1812l-3 -3 -2 -4 -1 -4M3275 1813l-4 -2 -4 -2M3340 1847l4 2 4 0 5 1M3356 1843l-1 -4 -1 -4M3330 1866l-4 1 -4 -1 -4 -3M3324 1877l1 5 0 4M3306 1808l-4 -1 -4 -1M3306 1808l-3 -2 -5 0 -4 -1M3294 1803l-4 -1 -4 0M3315 1782l4 0 4 -2M3319 1775l3 -4 3 -3M3312 1838l-4 -2 -4 -1M3310 1842l1 4 0 4M3318 1845l1 4 3 3M3322 1847l4 3 2 4M3308 1840l-1 5 1 4M3308 1840l-2 4 -3 4M3304 1840l-4 -1 -5 0"/><path stroke-width="1.50" d="M3345 1836l3 4M3361 1831l3 5M3340 1802l-10 -2M3289 1819l-1 -6M3279 1813l-6 3M3353 1846l5 0M3324 1877l-7 2M3302 1807l5 -3M3316 1778l-7 -2M3318 1845l-3 6"/><path stroke-width="1.00" d="M3343 1837l9 -3M3363 1809l-2 -9M3365 1833l6 -1M3336 1794l1 -5M3291 1813l5 -8M3283 1825l-3 -5M3279 1805l-5 0M3344 1849l8 -3M3318 1863l-3 8M3298 1806l-8 4"/></g><circle cx="1662.0" cy="913.3" r="4.0" fill="#000"/><g transform="scale(.5)" fill="none" stroke="#000" stroke-linecap="round" stroke-linejoin="round"><path stroke-width="4.00" d="M3104 1879l3 3 3 4 2 3 3 4 2 4 0 4 -1 4 -1 5 0 4M3104 1879l-2 4 -3 3 -4 -2 -5 -1 -4 1 -4 -1M3104 1879l-3 3 -4 2 -4 3 -4 1 -4 1 -4 3 -3 2 1 4 2 4 1 4M3104 1879l-4 -2 -4 -2 -4 -2 -3 -4 -3 -3 -3 -3 -4 -1 -5 -1 -4 -2 -4 2 -4 2 -3 3M3104 1879l3 -3 3 -3 1 -5 4 -2 4 -1M3104 1879l4 -1 4 0 3 3 -1 4 -1 5 -1 4 -1 4 1 4 0 5 1 4"/><path stroke-width="2.50" d="M3115 1893l-1 4 0 5 1 4 -1 4 -2 4 1 5M3115 1914l-2 4 -1 4 -4 3 -4 1M3099 1886l3 3 3 3 4 3M3082 1883l-5 -1 -4 -2M3078 1894l-4 1 -3 4 -2 4 -3 3 -2 4 -2 4 -3 3M3082 1906l0 5 2 4 2 4 3 2M3074 1861l1 -4 3 -4 4 -2 2 -3 3 -4 5 -1 4 2 4 1M3074 1861l-4 0 -4 3 -2 3 -2 4 -2 4 -4 2 -2 4 -1 4 -1 5M3059 1866l-3 3 -3 4 -4 1 -4 -2 -4 1 -4 2M3111 1868l4 1 5 0 4 2 4 -1M3111 1868l-3 -3 -2 -4 0 -4 -1 -5M3119 1865l4 0 5 1M3113 1890l4 -2 4 -2 4 -2 4 -2 3 -3 4 -3M3113 1911l2 4 5 0 4 -2 4 -2"/><path stroke-width="2.00" d="M3117 1897l-3 9M3110 1886l8 -1M3090 1883l-8 1M3093 1887l0 5M3093 1887l-5 -2M3062 1863l0 -8M3089 1869l-7 2M3070 1859l-8 6M3107 1876l-5 -5M3108 1878l4 -7M3113 1911l6 3"/><path stroke-width="1.50" d="M3115 1906l2 3 3 3M3114 1910l3 3 3 3 3 3 4 1M3113 1919l0 4 -2 4M3113 1918l4 3 3 3M3104 1926l-4 -1 -3 -3M3105 1892l4 1 5 0M3105 1892l-2 4 -2 4M3109 1895l3 3 0 4M3077 1882l-4 -2 -4 -1M3077 1882l-3 3 -3 3M3073 1880l-4 -1 -4 -2M3066 1906l-4 1 -4 1 -5 -1 -4 -1 -4 1M3059 1917l-4 3 -3 2 -4 2M3086 1919l0 4 0 5 0 4M3084 1915l4 2 4 2 4 2M3089 1921l3 3 4 2M3087 1844l-2 -3 0 -5 2 -4 1 -4M3100 1846l3 -3 5 -1M3062 1871l-2 -4 -1 -4 -3 -4 -3 -3 -1 -4 3 -3 4 -2M3062 1871l-5 0 -3 3 -3 3 -3 4 -3 2 -5 1 -3 3M3052 1890l-1 4 -4 1 -5 1M3045 1872l-1 4 -2 4 -3 3 -2 5M3049 1874l-4 0 -5 -1 -3 -3M3037 1875l-3 3 -4 2 -3 -2M3124 1871l-1 -5 0 -4 0 -4M3124 1871l2 -4 1 -4M3128 1870l1 -4 2 -4M3108 1865l-4 -1 -3 -3M3105 1852l-1 -4 -1 -4M3123 1865l4 2 3 3M3128 1866l4 1 4 2M3125 1884l0 -5 4 -2 4 1M3136 1876l4 -1 4 1M3124 1913l2 3 1 5M3128 1911l3 -2 3 -3"/><path stroke-width="1.00" d="M3115 1906l7 5M3120 1916l9 1M3113 1918l-4 4M3109 1895l4 0M3074 1895l-3 4M3064 1910l-6 4M3049 1906l-6 -7M3048 1924l-4 -2M3089 1921l5 2M3086 1932l-6 2M3088 1917l8 -5M3096 1845l-7 0M3075 1857l-8 -5M3085 1836l-9 -2M3052 1890l-2 -4M3064 1867l-5 -8M3060 1867l2 -9M3060 1867l-6 2M3040 1884l0 5M3057 1871l0 4M3042 1896l-7 4M3045 1872l1 6M3037 1888l4 4M3040 1873l-2 -9M3034 1878l-7 1M3128 1870l6 1M3123 1862l4 -2M3108 1865l1 -6M3125 1884l9 3M3125 1879l-3 -8M3120 1915l5 0"/></g><circle cx="1551.8" cy="939.5" r="4.0" fill="#000"/><g transform="scale(.5)" fill="none" stroke="#000" stroke-linecap="round" stroke-linejoin="round"><path stroke-width="4.50" d="M3268 1991l0 4 1 5 -1 4 3 4 3 3 2 4 0 4 -1 4 0 5 -1 4M3268 1991l-1 -4 0 -5 1 -4 1 -4 2 -4 4 -2 3 -3 4 -1 3 4 2 4M3268 1991l-1 4 1 5 4 -1 4 -1 3 -4 4 -1 4 -2 3 -3 3 -4 3 -2 4 -3 5 1 4 0 4 0M3268 1991l-3 -3 -4 -2 -2 -4 -1 -4 -2 -4 -4 -2 -4 0 -4 2 -4 -1 -5 -1 -3 3 -5 1 -4 2M3268 1991l2 -4 2 -4 1 -4 0 -5 2 -3 0 -5M3268 1991l4 -2 4 -1 4 -1 4 -3M3268 1991l-2 4 2 4 1 4 2 5 2 3 1 5 1 4 1 4 1 5 1 4M3268 1991l0 4 -1 5 -4 2 -3 3 -4 2 -4 2 -3 3 -3 3 -2 4 -3 3 -3 2"/><path stroke-width="2.50" d="M3276 2019l-1 4 -3 3 -1 5 -2 4 -4 2 -2 4M3274 2032l0 5 -2 3 -2 4 -3 4M3271 1970l4 -1 5 -1 4 -2 4 -1 4 -2 3 -3 0 -4M3271 1970l-1 -4 -1 -5 -1 -4 0 -4 2 -4 4 -2M3287 1972l3 3 4 2 4 0 5 -1 4 0M3293 1984l0 5 1 4 0 4 0 5 1 4 0 4 -1 5M3313 1980l4 -2 1 -5 3 -3 3 -4 2 -3 4 -3 3 -2M3252 1972l1 -5 2 -4 2 -4 4 -1 4 -1 4 -2M3223 1978l1 4 1 4 0 5 -3 3 -4 1 -4 1M3273 1979l3 -4 2 -3 3 -4M3275 1966l0 -4 -2 -4M3276 1988l4 -2 4 -1M3284 1984l4 -1 5 0M3273 2011l1 5 1 4 2 4 0 4 1 5 2 4M3278 2033l3 3 2 4 2 4M3256 2007l-2 4 -3 3 0 5 -1 4 -2 4 1 4M3252 2009l3 3 -1 5 -1 4 -1 4 -1 4 2 4 2 4 2 4M3238 2024l-4 3 -3 3 -5 1 -4 0 -4 1"/><path stroke-width="2.00" d="M3275 2023l-5 7M3276 2015l3 3M3285 1968l4 -2M3285 1968l3 -3M3305 1980l-8 1M3293 1984l-7 1M3287 1991l6 5M3256 1974l8 -6M3265 1988l6 -5M3265 1988l2 -8M3275 1971l2 -4M3276 1988l6 8M3273 2011l6 -1M3268 1999l6 -2M3256 2007l6 7M3252 2009l9 3M3241 2022l-5 6"/><path stroke-width="1.50" d="M3272 2026l-4 1M3271 2031l-4 1 -4 2 -4 1 -3 3M3263 2041l1 4 0 5M3274 2037l2 4M3272 2040l-3 4 -2 4M3267 2048l0 5 0 4M3292 1963l-1 -4M3284 1966l5 1M3280 1968l3 3 4 2 1 4M3295 1956l0 -5 2 -3 3 -4 4 -2M3268 1953l4 -6M3268 1953l-4 -3 -4 2 -4 2M3274 1947l5 -1 4 -1M3294 1977l-3 6M3294 1977l-2 4 -2 4M3307 1976l4 -1 4 -1M3294 1997l7 5M3293 1989l-8 4M3294 2002l2 4 0 4 3 3M3294 2015l-2 3 -4 3 -4 2M3326 1963l2 4M3324 1966l0 -5M3326 1963l5 -1 4 -2 4 -1 4 -3 3 -2M3333 1958l1 -5 0 -4 -1 -4 0 -5M3255 1963l-7 -3M3261 1958l-3 -4 -3 -3 -1 -5 -1 -4M3269 1955l4 2 4 1M3222 1994l-6 1M3222 1994l4 2 3 3 4 3 4 0M3214 1996l-4 2 -5 0M3281 1968l4 1M3278 1972l2 -4 3 -4M3281 1968l-1 -4 1 -4M3275 1962l-5 1 -4 -1M3273 1958l2 -4 2 -4M3280 1986l2 -4 2 -4M3284 1985l4 -3 2 -4M3288 1983l0 -4 -1 -4M3288 1983l5 1 4 1M3293 1983l4 1 4 2M3277 2028l-8 4M3277 2028l-2 4 0 5 3 3 1 4M3277 2024l-1 4 -3 4 -2 4 -3 3M3280 2037l3 3 4 1 4 -2M3281 2036l-6 5M3283 2040l4 0 5 0M3285 2044l3 4 3 2M3250 2023l3 7M3250 2023l-5 -1 -4 -1 -4 1 -3 3M3249 2031l0 5 -2 4M3255 2012l-6 4M3255 2037l-4 4M3253 2021l1 4 -1 4 -3 4 -2 4 -3 3M3257 2041l3 3 1 4 3 4 2 4M3218 2032l-9 -4M3226 2031l-2 3 -4 2 -4 2M3226 2031l-4 0 -4 0 -4 -2M3218 2032l-4 2 -5 -1"/><path stroke-width="1.00" d="M3263 2034l-8 -4M3287 1973l3 -4M3295 1951l-2 -3M3264 1950l3 -9M3296 2010l-6 1M3288 2021l-7 1M3339 1959l7 4M3333 1940l8 -1M3258 1954l4 -4M3237 2002l-2 4M3279 2044l6 6M3271 2036l-3 5M3287 2041l8 -2M3245 2022l-2 7M3250 2033l5 2M3261 2048l6 3M3220 2036l-6 8M3214 2029l-2 6"/></g><circle cx="1634.0" cy="995.5" r="5.0" fill="#000"/></g>
<path d="M1162.2,945.3 H1243 V1005.7 H1162.2 Z M1162.2,1005.7 L1037.5,1027 M1243,1005.7 L1264,1025" stroke="#000" stroke-width="2.6" fill="none"/>
<path d="M1340.4,892.4 H1404.3 V946 H1340.4 Z M1340.4,946 L1269.5,1025.5 M1404.3,946 L1494.5,1025.5" stroke="#000" stroke-width="2.6" fill="none"/>
<path d="M1641.5,800.5 H1711 V871.3 H1641.5 Z M1641.5,871.3 L1500.4,1025.5 M1711,871.3 L1726.4,1025.5" stroke="#000" stroke-width="2.6" fill="none"/>
<rect x="1641.5" y="799" width="69.5" height="3" fill="#000"/>
<rect x="1036.4" y="1030.9" width="228.1" height="227.3" fill="#fff" stroke="#000" stroke-width="2.4"/>
<rect x="1268.4" y="1030.9" width="227.4" height="227.3" fill="#fff" stroke="#000" stroke-width="2.4"/>
<rect x="1499.7" y="1030.9" width="228.0" height="227.3" fill="#fff" stroke="#000" stroke-width="2.4"/>
<g transform="scale(.5)" fill="none" stroke="#555"><path stroke-width="1.8" d="M2299 2274l4 -15 0 -10 -5 -8 -3 -12 0 -11 5 -9 13 -10 5 -7 4 -10 -1 -9 2 -9 2 -9 1 -10 0 -11 1 -9 -2 -11 4 -8M2318 2192l7 -7 8 -6 7 -9 8 -8 11 -3 8 -5 12 -1 10 -4M2303 2267l8 -7 7 -6 8 -6 9 -5 9 -6 10 -5 13 -5 11 -5M2307 2267l10 4 12 3 9 -4 8 -7 10 -6 6 -7 10 -8 9 -5 0 -10 5 -8 2 -10 2 -10 4 -10 2 -8 5 -9 8 -8 3 -8 7 -9M2299 2274l11 3 9 0 10 1 10 1 10 0 11 0 7 1 11 1 11 1 10 -1 11 5 12 3 7 -9 8 -6M2422 2289l11 3 9 5 9 3 9 4 15 0M2299 2274l-4 11 -3 8 -10 8 -9 7 -9 -5 -11 -3 -6 -4 -9 -4 -10 -3 -9 -4 -9 -6 -4 -5 -11 -5 -8 -6 -15 -6M2187 2263l0 10 -2 11 0 9 -2 11 -10 6 -9 4 -11 5 1 10 -4 12 -11 2 -10 -2 -11 2 -11 0M2150 2341l-13 4 -12 4M2273 2308l-11 11 -3 9 -4 11 -1 10 -8 3 -11 3 -10 5 -7 5 -10 3 -8 3 -9 4 0 10 1 10 -1 10 -2 12 -2 7 -2 10 -3 11 -2 8 -3 12 -1 8 1 10 -3 12M2262 2319l-1 10 1 10 0 8 0 9 -7 10 -5 9 -7 10 -7 9 -4 12 -4 10 -9 6 -6 5 -9 6 -6 5M2273 2323l5 9 1 7 4 11 2 10 3 8 0 9 0 11 2 10 -2 11 -3 11 -4 10 -4 12M2329 2278l1 8 1 12 2 10M2344 2297l9 4 9 3 7 5 7 4 8 5 12 5 8 3 -2 12 3 7 -1 11 9 8 13 7 1 10 0 10 1 11 -1 8 2 10 -3 10 5 11 -1 9M2366 2319l0 10 -3 9 -8 6 -11 8 -9 8 -6 8 -1 10 1 10 0 9 6 11 3 11 6 12 5 11 3 11 7 12M2269 2274l-2 -9 -5 -11 -1 -8 -4 -9 -3 -9 0 -11 -4 -8 -3 -10 -15 -7M2284 2259l-8 -8 -5 -7 -7 -10 -5 -7 -8 -9M2243 2274l-3 -11 -2 -12 -5 -12 -1 -10M2400 2259l-1 9 -3 9 0 12 4 11 0 8M2404 2326l5 -10 6 -12"/><path stroke-width="1.6" d="M2303 2259l7 -1M2298 2241l3 -3M2295 2229l2 4M2295 2218l4 4M2300 2209l1 -7M2318 2192l-4 -4M2322 2182l-7 1M2321 2173l5 3M2326 2134l-1 -5M2327 2125l5 3M2325 2185l3 -3M2333 2179l3 -3M2340 2170l2 -6M2359 2159l-4 5M2379 2153l-2 4M2311 2260l-3 5M2318 2254l-3 -5M2326 2248l-5 -5M2335 2243l4 -0M2367 2227l-3 6M2317 2271l-3 -3M2329 2274l-7 -1M2338 2270l0 6M2362 2250l-4 -7M2372 2242l6 -3M2381 2237l-6 0M2381 2227l-2 -6M2390 2199l3 5M2394 2189l-0 -4M2396 2181l-6 -1M2409 2164l4 -4M2412 2156l-4 -6M2310 2277l-5 2M2319 2277l-4 5M2329 2278l3 4M2339 2279l-8 1M2367 2280l4 -3M2378 2281l-2 -7M2389 2282l2 -8M2399 2281l0 7M2422 2289l7 -2M2433 2292l4 -2M2442 2297l-4 6M2295 2285l-2 -6M2238 2292l6 -1M2228 2289l3 -3M2206 2274l-4 2M2187 2263l1 -6M2185 2293l-1 -7M2173 2310l3 3M2153 2319l-4 0M2154 2329l-6 -1M2129 2341l2 6M2118 2343l-4 6M2137 2345l-5 0M2259 2328l-6 -6M2254 2349l-3 -7M2246 2352l1 5M2235 2355l-2 5M2218 2365l5 2M2208 2368l4 -2M2200 2371l3 5M2191 2375l-1 6M2191 2385l2 5M2191 2405l-7 -0M2189 2417l4 -4M2182 2445l-7 3M2176 2473l-4 3M2177 2483l-6 -0M2262 2339l5 -5M2262 2347l-2 4M2255 2366l5 4M2250 2375l-5 -0M2243 2385l2 -6M2219 2422l-5 -1M2213 2427l3 -3M2279 2339l-2 4M2288 2377l-5 -6M2288 2388l4 4M2290 2398l6 -4M2285 2420l-5 3M2281 2430l-4 4M2331 2298l4 4M2353 2301l-5 -4M2362 2304l6 -2M2376 2313l-0 4M2384 2318l-4 -4M2396 2323l-1 7M2404 2326l-4 -2M2402 2338l-0 -5M2404 2356l-3 5M2413 2364l6 2M2426 2371l5 3M2427 2391l-1 5M2428 2402l-5 4M2427 2410l1 -6M2426 2430l-4 3M2431 2441l1 5M2355 2344l6 -0M2329 2368l-6 5M2328 2378l-6 -3M2329 2388l6 5M2338 2419l5 5M2344 2431l5 -2M2349 2442l4 -4M2352 2453l-4 2M2267 2265l-2 -4M2257 2237l0 -5M2254 2228l4 -1M2254 2217l-3 3M2247 2199l-5 2M2276 2251l-5 -1M2271 2244l-7 -3M2264 2234l6 3M2238 2251l6 5M2233 2239l7 1M2399 2268l-2 -6M2396 2277l6 2M2396 2289l-7 3M2400 2300l2 4"/></g>
<g transform="scale(.5)" fill="none" stroke="#555"><path stroke-width="1.8" d="M2580 2222l4 8 5 8 8 7 5 10 8 8 5 11 10 8 7 6 9 4 6 8 9 6 10 2 7 3 10 6 10 2 9 3 9 6 8 -6 7 -4 8 -9 7 -5 3 -15 1 -9 -1 -8 3 -10 -1 -10 8 -9 9 -6 6 -9 3 -8 5 -7 5 -10 11 -2 4 -8 2 -8 5 -12 6 -8 5 -9 15 2 10 -2 11 -4 9 -1M2746 2252l-17 -8 -9 1 -13 1M2746 2252l-7 4 -12 6 -7 7 -9 5M2763 2237l-6 -7 -7 -12 -6 -7M2763 2237l11 6 11 9M2793 2201l-6 -8 -6 -8 -4 -9 -6 -6M2793 2201l9 6 6 7 7 6 6 10 8 6 5 8M2800 2199l9 -6 10 -5 11 4M2744 2289l11 0 8 0 5 -10 4 -9 6 -11 11 0 11 0 13 5 10 3 11 7 9 -3 12 -5 9 -4 11 -5 11 3 12 3 11 5 11 6M2834 2274l6 9 4 5 5 12M2759 2289l4 11 4 11 6 9 6 8 8 7 5 7 7 7M2711 2328l0 11 0 8 -5 11 1 10 -5 9 -7 10 -7 10 -5 9 -5 11 -5 7 -1 10 -2 12 2 13 5 9 4 9 7 10M2707 2368l10 -6 9 -2M2700 2386l9 11 9 8M2688 2401l-4 -10 -7 -10"/><path stroke-width="1.6" d="M2589 2238l-6 2M2597 2245l-3 -4M2610 2263l-7 1M2615 2274l-6 5M2625 2282l3 5M2632 2288l-3 3M2641 2292l-1 8M2683 2317l-2 -4M2719 2322l-2 4M2734 2309l7 -4M2741 2304l5 -3M2745 2280l4 1M2744 2272l5 6M2747 2262l2 5M2754 2243l7 -3M2769 2228l7 2M2782 2203l8 -1M2797 2193l-5 -1M2799 2185l2 -6M2804 2173l5 -1M2810 2165l2 7M2815 2156l1 6M2851 2152l-2 -7M2729 2244l5 3M2720 2245l-3 -5M2727 2262l1 6M2720 2269l8 0M2757 2230l-6 -5M2750 2218l-2 -6M2774 2243l-3 -3M2787 2193l-2 -4M2781 2185l5 2M2777 2176l-3 7M2808 2214l-3 7M2821 2230l-1 4M2809 2193l-3 -7M2755 2289l1 7M2768 2279l3 -7M2772 2270l-2 -4M2778 2259l-0 4M2789 2259l-2 6M2800 2259l6 -5M2813 2264l-5 -5M2834 2274l-1 5M2843 2271l-5 2M2855 2266l-3 4M2864 2262l-2 5M2886 2260l-7 -0M2909 2268l-4 -5M2844 2288l-4 0M2763 2300l-2 -4M2773 2320l-3 4M2787 2335l-1 7M2792 2342l3 3M2711 2339l-4 0M2711 2347l-5 -5M2707 2368l-5 -3M2702 2377l7 -1M2695 2387l-1 -7M2688 2397l7 -4M2683 2406l5 -3M2678 2417l-3 -4M2672 2434l-5 -4M2709 2397l-2 6M2684 2391l6 1"/></g>
<g transform="scale(.5)" fill="none" stroke="#555"><path stroke-width="1.8" d="M3182 2065l7 9 12 8 7 9 7 10 6 9 4 11 7 -8 10 -11 15 0 3 -11 4 -12 4 -7M3257 2102l9 8 8 2 9 9M3158 2089l-4 12 5 12 -3 12 7 8 7 8 6 6 10 8 10 -5 12 -3 3 -9 9 -9 5 -8M3186 2155l1 9 -2 8 0 13 0 8 -2 13 -1 8 6 10 5 11 10 6 5 11 5 11 2 9 3 8 2 11 2 11 5 10 -8 12 -7 10 1 7 3 11 2 10 3 9 2 10 0 9 13 0 10 4 6 -9 5 -10 14 -3 12 -1 10 3 11 8 9 4 8 11 7 12 -1 10 -3 10 0 10 7 10 8 8 10 -1 9 -2M3182 2214l-6 6 -7 11 -9 6M3197 2192l3 12 1 10 11 0M3208 2252l8 -9 5 -8 6 -9M3227 2312l7 -8 4 -8 7 -7 4 -7 5 -9 6 -6 2 -9 0 -10 2 -11 0 -8 6 -9 9 -9M3260 2267l6 -7 10 -8 6 -7 10 -10 6 -4 7 -9 11 1 9 2 11 3 10 3M3305 2222l5 -9 3 -9 5 -9 4 -8 2 -10 15 2M3223 2312l-11 -5 -9 -2 -13 -4 -7 -4 -12 -4 -8 -8 -4 -10 -7 -9 -7 -7 -4 -11 -8 -11M3145 2259l-12 0 -8 1 -8 2 -10 2 -11 -1 -8 2 -10 0 -9 0 -10 2 -2 -12 2 -7 -1 -11 1 -12 1 -9 -2 -10 1 -10M3059 2229l10 6 12 9 0 15M3208 2312l-11 -4 -9 -1 -10 -3 -7 4M3223 2312l9 6 4 4 9 9 7 5 8 7 8 6 7 6 4 -10 3 -11 5 -11 3 -11 4 -10 4 -11 5 -11 2 -10M3283 2371l6 -10 3 -7 4 -9 4 -9 5 -10 13 -1 10 1M3223 2390l-9 7 -7 6 -6 5 -8 8 -4 10 -5 10 -4 11 -5 10M3227 2405l1 9 7 11 4 10 3 7 4 12 3 8 -1 12 5 9 4 15M3223 2409l2 10 -2 7 2 14 0 9 0 8 2 11"/><path stroke-width="1.6" d="M3189 2074l-4 2M3201 2082l0 -6M3208 2091l1 -4M3215 2101l-3 -5M3221 2110l-2 -4M3225 2121l6 3M3232 2113l-4 -2M3242 2102l-1 -7M3260 2091l-5 1M3264 2079l1 -5M3274 2112l-7 4M3154 2101l-5 1M3156 2125l-7 -3M3163 2133l-5 -4M3170 2141l6 -2M3176 2147l5 -6M3186 2155l7 -2M3196 2150l-3 -4M3220 2129l-5 -4M3187 2164l5 1M3185 2172l-1 -5M3185 2185l-5 1M3183 2206l6 0M3182 2214l-5 2M3188 2224l4 2M3193 2235l6 -5M3208 2252l1 -6M3213 2263l-1 -4M3220 2291l2 6M3222 2302l4 0M3227 2312l3 -4M3219 2324l4 2M3213 2341l2 7M3216 2352l-4 -6M3221 2371l3 7M3223 2390l-5 -4M3236 2390l5 -2M3246 2394l-3 3M3252 2385l-6 -4M3257 2375l-3 6M3271 2372l-6 1M3293 2374l2 5M3304 2382l4 4M3321 2397l-2 -5M3328 2409l-5 2M3327 2419l-4 -2M3324 2439l6 1M3339 2457l3 -7M3201 2214l-3 -3M3216 2243l4 -2M3221 2235l6 4M3234 2304l4 5M3238 2296l6 4M3249 2282l-4 0M3260 2267l5 -5M3262 2258l-0 -5M3262 2248l-0 -5M3266 2260l-2 -6M3276 2252l5 5M3305 2222l-1 -7M3316 2223l-2 -6M3336 2228l5 -1M3310 2213l-4 2M3313 2204l-5 -5M3318 2195l4 -3M3322 2187l2 -8M3324 2177l1 4M3190 2301l5 4M3159 2275l6 0M3145 2259l7 2M3133 2259l-0 7M3125 2260l4 -5M3107 2264l7 3M3078 2265l-0 -6M3059 2267l5 5M3057 2255l1 8M3059 2248l-1 -6M3058 2237l8 1M3060 2216l-1 -6M3069 2235l3 -4M3197 2308l7 3M3188 2307l2 -6M3178 2304l2 4M3232 2318l7 2M3252 2336l-3 5M3260 2343l1 -5M3268 2349l0 -4M3275 2355l-7 2M3279 2345l5 2M3287 2323l6 1M3294 2302l-4 -4M3303 2280l-7 3M3289 2361l2 4M3292 2354l1 -5M3296 2345l-3 -3M3305 2326l5 2M3214 2397l5 -0M3207 2403l-3 2M3201 2408l-4 3M3189 2426l5 6M3184 2436l-5 -4M3180 2447l2 4M3228 2414l-1 -6M3235 2425l1 4M3239 2435l-8 -1M3242 2442l2 4M3249 2462l-2 4M3248 2474l5 -2M3225 2419l-2 -6M3223 2426l6 0M3225 2440l6 1"/></g>
</svg></body></html>
